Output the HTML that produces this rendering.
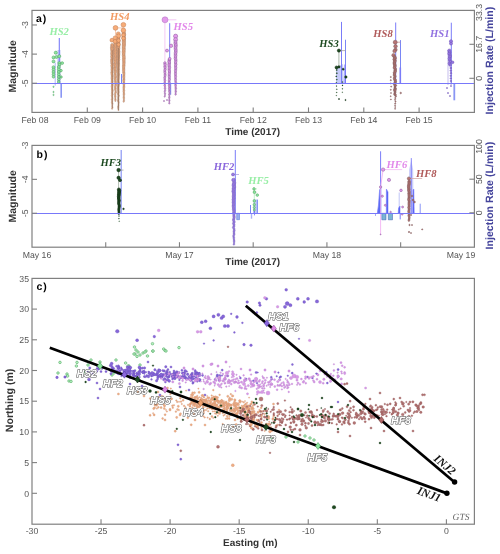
<!DOCTYPE html>
<html><head><meta charset="utf-8"><style>
html,body{margin:0;padding:0;background:#fff;width:500px;height:554px;overflow:hidden}
svg{display:block;will-change:transform}
text{text-rendering:geometricPrecision}
</style></head><body><svg width="500" height="554" viewBox="0 0 500 554"><polygon points="57.5,50.0 60.5,50.0 60.8,83.3 57.0,83.3" fill="#b8bef6" stroke="none" stroke-width="0.6" opacity="0.8"/><polygon points="336.0,67.0 343.0,64.0 344.0,83.3 336.0,83.3" fill="#b8bef6" stroke="none" stroke-width="0.6" opacity="0.8"/><polygon points="253.5,199.5 258.0,199.5 258.0,213.3 253.5,213.3" fill="#b8bef6" stroke="none" stroke-width="0.6" opacity="0.8"/><line x1="59.3" y1="38.1" x2="59.3" y2="83.3" stroke="#7a7cf8" stroke-width="1.1"/><line x1="61.2" y1="83.3" x2="61.2" y2="97.8" stroke="#8a96f4" stroke-width="1.6"/><line x1="55.2" y1="62.6" x2="55.2" y2="85.6" stroke="#9aa4f4" stroke-width="0.8"/><circle cx="55.8" cy="52.7" r="1.60" fill="#8ee6a0" stroke="#4a9a5a" stroke-width="0.5"/><circle cx="53.5" cy="57.4" r="1.50" fill="#8ee6a0" stroke="#4a9a5a" stroke-width="0.5"/><circle cx="56.4" cy="57.0" r="1.50" fill="#8ee6a0" stroke="#4a9a5a" stroke-width="0.5"/><circle cx="59.3" cy="56.2" r="1.50" fill="#8ee6a0" stroke="#4a9a5a" stroke-width="0.5"/><circle cx="53.5" cy="61.4" r="1.50" fill="#8ee6a0" stroke="#4a9a5a" stroke-width="0.5"/><circle cx="59.3" cy="63.1" r="1.50" fill="#8ee6a0" stroke="#4a9a5a" stroke-width="0.5"/><circle cx="62.2" cy="63.1" r="1.40" fill="#8ee6a0" stroke="#4a9a5a" stroke-width="0.5"/><circle cx="59.5" cy="64.8" r="1.40" fill="#8ee6a0" stroke="#4a9a5a" stroke-width="0.5"/><circle cx="61.0" cy="70.6" r="1.30" fill="#8ee6a0" stroke="#4a9a5a" stroke-width="0.5"/><circle cx="61.0" cy="77.0" r="1.30" fill="#8ee6a0" stroke="#4a9a5a" stroke-width="0.5"/><circle cx="53.5" cy="67.2" r="1.50" fill="#8ee6a0" stroke="#4a9a5a" stroke-width="0.5"/><circle cx="53.5" cy="69.6" r="1.46" fill="#8ee6a0" stroke="#4a9a5a" stroke-width="0.5"/><circle cx="53.5" cy="72.0" r="1.42" fill="#8ee6a0" stroke="#4a9a5a" stroke-width="0.5"/><circle cx="53.5" cy="74.4" r="1.38" fill="#8ee6a0" stroke="#4a9a5a" stroke-width="0.5"/><circle cx="53.5" cy="76.8" r="1.34" fill="#8ee6a0" stroke="#4a9a5a" stroke-width="0.5"/><circle cx="58.8" cy="67.0" r="1.50" fill="#8ee6a0" stroke="#4a9a5a" stroke-width="0.5"/><circle cx="58.8" cy="69.5" r="1.47" fill="#8ee6a0" stroke="#4a9a5a" stroke-width="0.5"/><circle cx="58.8" cy="72.0" r="1.43" fill="#8ee6a0" stroke="#4a9a5a" stroke-width="0.5"/><circle cx="58.8" cy="74.5" r="1.40" fill="#8ee6a0" stroke="#4a9a5a" stroke-width="0.5"/><circle cx="58.8" cy="77.0" r="1.37" fill="#8ee6a0" stroke="#4a9a5a" stroke-width="0.5"/><circle cx="58.8" cy="79.5" r="1.33" fill="#8ee6a0" stroke="#4a9a5a" stroke-width="0.5"/><circle cx="58.8" cy="82.0" r="1.30" fill="#8ee6a0" stroke="#4a9a5a" stroke-width="0.5"/><circle cx="53.5" cy="86.8" r="0.70" fill="#8ee6a0" stroke="#4a9a5a" stroke-width="0.4"/><circle cx="53.5" cy="92.0" r="0.70" fill="#8ee6a0" stroke="#4a9a5a" stroke-width="0.4"/><circle cx="53.5" cy="94.9" r="0.70" fill="#8ee6a0" stroke="#4a9a5a" stroke-width="0.4"/><line x1="115.5" y1="27.9" x2="123.4" y2="27.9" stroke="#f6c0a0" stroke-width="0.8"/><line x1="115.5" y1="27.9" x2="115.5" y2="42.0" stroke="#f6c0a0" stroke-width="0.8"/><circle cx="112.2" cy="45.0" r="1.60" fill="#f6ac78" stroke="#a08070" stroke-width="0.45"/><circle cx="112.4" cy="46.3" r="1.58" fill="#f6ac78" stroke="#a08070" stroke-width="0.45"/><circle cx="112.0" cy="47.6" r="1.56" fill="#f6ac78" stroke="#a08070" stroke-width="0.45"/><circle cx="112.1" cy="48.9" r="1.54" fill="#f6ac78" stroke="#a08070" stroke-width="0.45"/><circle cx="112.3" cy="50.2" r="1.52" fill="#f6ac78" stroke="#a08070" stroke-width="0.45"/><circle cx="112.4" cy="51.5" r="1.50" fill="#f6ac78" stroke="#a08070" stroke-width="0.45"/><circle cx="112.2" cy="52.8" r="1.48" fill="#f6ac78" stroke="#a08070" stroke-width="0.45"/><circle cx="112.1" cy="54.1" r="1.46" fill="#f6ac78" stroke="#a08070" stroke-width="0.45"/><circle cx="112.4" cy="55.4" r="1.44" fill="#f6ac78" stroke="#a08070" stroke-width="0.45"/><circle cx="112.0" cy="56.7" r="1.42" fill="#f6ac78" stroke="#a08070" stroke-width="0.45"/><circle cx="112.4" cy="58.0" r="1.40" fill="#f6ac78" stroke="#a08070" stroke-width="0.45"/><circle cx="112.1" cy="59.3" r="1.38" fill="#f6ac78" stroke="#a08070" stroke-width="0.45"/><circle cx="112.0" cy="60.6" r="1.36" fill="#f6ac78" stroke="#a08070" stroke-width="0.45"/><circle cx="112.0" cy="61.9" r="1.34" fill="#f6ac78" stroke="#a08070" stroke-width="0.45"/><circle cx="112.1" cy="63.2" r="1.32" fill="#f6ac78" stroke="#a08070" stroke-width="0.45"/><circle cx="112.4" cy="64.5" r="1.30" fill="#f6ac78" stroke="#a08070" stroke-width="0.45"/><circle cx="112.0" cy="65.8" r="1.28" fill="#f6ac78" stroke="#a08070" stroke-width="0.45"/><circle cx="112.2" cy="67.1" r="1.25" fill="#f6ac78" stroke="#a08070" stroke-width="0.45"/><circle cx="112.3" cy="68.4" r="1.23" fill="#f6ac78" stroke="#a08070" stroke-width="0.45"/><circle cx="112.1" cy="69.7" r="1.21" fill="#f6ac78" stroke="#a08070" stroke-width="0.45"/><circle cx="112.2" cy="71.0" r="1.19" fill="#f6ac78" stroke="#a08070" stroke-width="0.45"/><circle cx="112.0" cy="72.3" r="1.17" fill="#f6ac78" stroke="#a08070" stroke-width="0.45"/><circle cx="112.0" cy="73.6" r="1.15" fill="#f6ac78" stroke="#a08070" stroke-width="0.45"/><circle cx="112.1" cy="74.9" r="1.13" fill="#f6ac78" stroke="#a08070" stroke-width="0.45"/><circle cx="112.3" cy="76.2" r="1.11" fill="#f6ac78" stroke="#a08070" stroke-width="0.45"/><circle cx="112.2" cy="77.5" r="1.09" fill="#f6ac78" stroke="#a08070" stroke-width="0.45"/><circle cx="112.1" cy="78.8" r="1.07" fill="#f6ac78" stroke="#a08070" stroke-width="0.45"/><circle cx="112.2" cy="80.1" r="1.05" fill="#f6ac78" stroke="#a08070" stroke-width="0.45"/><circle cx="112.2" cy="81.4" r="1.03" fill="#f6ac78" stroke="#a08070" stroke-width="0.45"/><circle cx="112.1" cy="82.7" r="1.01" fill="#f6ac78" stroke="#a08070" stroke-width="0.45"/><circle cx="112.3" cy="84.0" r="0.99" fill="#f6ac78" stroke="#a08070" stroke-width="0.45"/><circle cx="112.3" cy="85.3" r="0.97" fill="#f6ac78" stroke="#a08070" stroke-width="0.45"/><circle cx="112.1" cy="86.6" r="0.95" fill="#f6ac78" stroke="#a08070" stroke-width="0.45"/><circle cx="112.2" cy="87.9" r="0.93" fill="#f6ac78" stroke="#a08070" stroke-width="0.45"/><circle cx="112.2" cy="89.2" r="0.91" fill="#f6ac78" stroke="#a08070" stroke-width="0.45"/><circle cx="112.4" cy="90.5" r="0.89" fill="#f6ac78" stroke="#a08070" stroke-width="0.45"/><circle cx="112.3" cy="91.8" r="0.87" fill="#f6ac78" stroke="#a08070" stroke-width="0.45"/><circle cx="112.1" cy="93.1" r="0.85" fill="#f6ac78" stroke="#a08070" stroke-width="0.45"/><circle cx="112.4" cy="94.4" r="0.83" fill="#f6ac78" stroke="#a08070" stroke-width="0.45"/><circle cx="112.0" cy="95.7" r="0.81" fill="#f6ac78" stroke="#a08070" stroke-width="0.45"/><circle cx="112.2" cy="97.0" r="0.79" fill="#f6ac78" stroke="#a08070" stroke-width="0.45"/><circle cx="112.3" cy="98.3" r="0.77" fill="#f6ac78" stroke="#a08070" stroke-width="0.45"/><circle cx="112.0" cy="99.6" r="0.75" fill="#f6ac78" stroke="#a08070" stroke-width="0.45"/><circle cx="112.2" cy="100.9" r="0.73" fill="#f6ac78" stroke="#a08070" stroke-width="0.45"/><circle cx="112.0" cy="102.2" r="0.71" fill="#f6ac78" stroke="#a08070" stroke-width="0.45"/><circle cx="112.3" cy="103.5" r="0.69" fill="#f6ac78" stroke="#a08070" stroke-width="0.45"/><circle cx="112.3" cy="104.8" r="0.67" fill="#f6ac78" stroke="#a08070" stroke-width="0.45"/><circle cx="112.2" cy="106.1" r="0.65" fill="#f6ac78" stroke="#a08070" stroke-width="0.45"/><circle cx="112.4" cy="107.4" r="0.63" fill="#f6ac78" stroke="#a08070" stroke-width="0.45"/><circle cx="112.1" cy="108.7" r="0.60" fill="#f6ac78" stroke="#a08070" stroke-width="0.45"/><circle cx="115.5" cy="42.0" r="1.60" fill="#f6ac78" stroke="#a08070" stroke-width="0.45"/><circle cx="115.4" cy="43.4" r="1.58" fill="#f6ac78" stroke="#a08070" stroke-width="0.45"/><circle cx="115.4" cy="44.8" r="1.56" fill="#f6ac78" stroke="#a08070" stroke-width="0.45"/><circle cx="115.4" cy="46.2" r="1.54" fill="#f6ac78" stroke="#a08070" stroke-width="0.45"/><circle cx="115.6" cy="47.6" r="1.52" fill="#f6ac78" stroke="#a08070" stroke-width="0.45"/><circle cx="115.6" cy="49.0" r="1.50" fill="#f6ac78" stroke="#a08070" stroke-width="0.45"/><circle cx="115.4" cy="50.4" r="1.47" fill="#f6ac78" stroke="#a08070" stroke-width="0.45"/><circle cx="115.5" cy="51.8" r="1.45" fill="#f6ac78" stroke="#a08070" stroke-width="0.45"/><circle cx="115.2" cy="53.2" r="1.43" fill="#f6ac78" stroke="#a08070" stroke-width="0.45"/><circle cx="115.5" cy="54.6" r="1.41" fill="#f6ac78" stroke="#a08070" stroke-width="0.45"/><circle cx="115.5" cy="56.0" r="1.39" fill="#f6ac78" stroke="#a08070" stroke-width="0.45"/><circle cx="115.6" cy="57.4" r="1.37" fill="#f6ac78" stroke="#a08070" stroke-width="0.45"/><circle cx="115.6" cy="58.8" r="1.35" fill="#f6ac78" stroke="#a08070" stroke-width="0.45"/><circle cx="115.3" cy="60.2" r="1.33" fill="#f6ac78" stroke="#a08070" stroke-width="0.45"/><circle cx="115.3" cy="61.6" r="1.31" fill="#f6ac78" stroke="#a08070" stroke-width="0.45"/><circle cx="115.5" cy="63.0" r="1.29" fill="#f6ac78" stroke="#a08070" stroke-width="0.45"/><circle cx="115.2" cy="64.4" r="1.26" fill="#f6ac78" stroke="#a08070" stroke-width="0.45"/><circle cx="115.4" cy="65.8" r="1.24" fill="#f6ac78" stroke="#a08070" stroke-width="0.45"/><circle cx="115.2" cy="67.2" r="1.22" fill="#f6ac78" stroke="#a08070" stroke-width="0.45"/><circle cx="115.2" cy="68.6" r="1.20" fill="#f6ac78" stroke="#a08070" stroke-width="0.45"/><circle cx="115.2" cy="70.0" r="1.18" fill="#f6ac78" stroke="#a08070" stroke-width="0.45"/><circle cx="115.5" cy="71.4" r="1.16" fill="#f6ac78" stroke="#a08070" stroke-width="0.45"/><circle cx="115.2" cy="72.8" r="1.14" fill="#f6ac78" stroke="#a08070" stroke-width="0.45"/><circle cx="115.3" cy="74.2" r="1.12" fill="#f6ac78" stroke="#a08070" stroke-width="0.45"/><circle cx="115.3" cy="75.6" r="1.10" fill="#f6ac78" stroke="#a08070" stroke-width="0.45"/><circle cx="115.6" cy="77.0" r="1.07" fill="#f6ac78" stroke="#a08070" stroke-width="0.45"/><circle cx="115.2" cy="78.4" r="1.05" fill="#f6ac78" stroke="#a08070" stroke-width="0.45"/><circle cx="115.4" cy="79.8" r="1.03" fill="#f6ac78" stroke="#a08070" stroke-width="0.45"/><circle cx="115.4" cy="81.2" r="1.01" fill="#f6ac78" stroke="#a08070" stroke-width="0.45"/><circle cx="115.6" cy="82.6" r="0.99" fill="#f6ac78" stroke="#a08070" stroke-width="0.45"/><circle cx="115.6" cy="84.0" r="0.97" fill="#f6ac78" stroke="#a08070" stroke-width="0.45"/><circle cx="115.6" cy="85.4" r="0.95" fill="#f6ac78" stroke="#a08070" stroke-width="0.45"/><circle cx="115.3" cy="86.8" r="0.93" fill="#f6ac78" stroke="#a08070" stroke-width="0.45"/><circle cx="115.4" cy="88.2" r="0.91" fill="#f6ac78" stroke="#a08070" stroke-width="0.45"/><circle cx="115.3" cy="89.6" r="0.89" fill="#f6ac78" stroke="#a08070" stroke-width="0.45"/><circle cx="115.6" cy="91.0" r="0.86" fill="#f6ac78" stroke="#a08070" stroke-width="0.45"/><circle cx="115.6" cy="92.4" r="0.84" fill="#f6ac78" stroke="#a08070" stroke-width="0.45"/><circle cx="115.2" cy="93.8" r="0.82" fill="#f6ac78" stroke="#a08070" stroke-width="0.45"/><circle cx="115.2" cy="95.2" r="0.80" fill="#f6ac78" stroke="#a08070" stroke-width="0.45"/><circle cx="115.3" cy="96.6" r="0.78" fill="#f6ac78" stroke="#a08070" stroke-width="0.45"/><circle cx="115.3" cy="98.0" r="0.76" fill="#f6ac78" stroke="#a08070" stroke-width="0.45"/><circle cx="115.4" cy="99.4" r="0.74" fill="#f6ac78" stroke="#a08070" stroke-width="0.45"/><circle cx="115.4" cy="100.8" r="0.72" fill="#f6ac78" stroke="#a08070" stroke-width="0.45"/><circle cx="118.3" cy="38.0" r="1.60" fill="#f6ac78" stroke="#a08070" stroke-width="0.5"/><circle cx="118.2" cy="39.2" r="1.58" fill="#f6ac78" stroke="#a08070" stroke-width="0.5"/><circle cx="118.4" cy="40.4" r="1.57" fill="#f6ac78" stroke="#a08070" stroke-width="0.5"/><circle cx="118.3" cy="41.6" r="1.55" fill="#f6ac78" stroke="#a08070" stroke-width="0.5"/><circle cx="118.4" cy="42.8" r="1.53" fill="#f6ac78" stroke="#a08070" stroke-width="0.5"/><circle cx="118.6" cy="44.0" r="1.52" fill="#f6ac78" stroke="#a08070" stroke-width="0.5"/><circle cx="118.5" cy="45.2" r="1.50" fill="#f6ac78" stroke="#a08070" stroke-width="0.5"/><circle cx="118.4" cy="46.4" r="1.48" fill="#f6ac78" stroke="#a08070" stroke-width="0.5"/><circle cx="118.4" cy="47.6" r="1.47" fill="#f6ac78" stroke="#a08070" stroke-width="0.5"/><circle cx="118.5" cy="48.8" r="1.45" fill="#f6ac78" stroke="#a08070" stroke-width="0.5"/><circle cx="118.2" cy="50.0" r="1.44" fill="#f6ac78" stroke="#a08070" stroke-width="0.5"/><circle cx="118.6" cy="51.2" r="1.42" fill="#f6ac78" stroke="#a08070" stroke-width="0.5"/><circle cx="118.5" cy="52.4" r="1.40" fill="#f6ac78" stroke="#a08070" stroke-width="0.5"/><circle cx="118.5" cy="53.6" r="1.39" fill="#f6ac78" stroke="#a08070" stroke-width="0.5"/><circle cx="118.5" cy="54.8" r="1.37" fill="#f6ac78" stroke="#a08070" stroke-width="0.5"/><circle cx="118.4" cy="56.0" r="1.35" fill="#f6ac78" stroke="#a08070" stroke-width="0.5"/><circle cx="118.4" cy="57.2" r="1.34" fill="#f6ac78" stroke="#a08070" stroke-width="0.5"/><circle cx="118.2" cy="58.4" r="1.32" fill="#f6ac78" stroke="#a08070" stroke-width="0.5"/><circle cx="118.5" cy="59.6" r="1.30" fill="#f6ac78" stroke="#a08070" stroke-width="0.5"/><circle cx="118.2" cy="60.8" r="1.29" fill="#f6ac78" stroke="#a08070" stroke-width="0.5"/><circle cx="118.2" cy="62.0" r="1.27" fill="#f6ac78" stroke="#a08070" stroke-width="0.5"/><circle cx="118.3" cy="63.2" r="1.25" fill="#f6ac78" stroke="#a08070" stroke-width="0.5"/><circle cx="118.3" cy="64.4" r="1.24" fill="#f6ac78" stroke="#a08070" stroke-width="0.5"/><circle cx="118.3" cy="65.6" r="1.22" fill="#f6ac78" stroke="#a08070" stroke-width="0.5"/><circle cx="118.2" cy="66.8" r="1.21" fill="#f6ac78" stroke="#a08070" stroke-width="0.5"/><circle cx="118.2" cy="68.0" r="1.19" fill="#f6ac78" stroke="#a08070" stroke-width="0.5"/><circle cx="118.3" cy="69.2" r="1.17" fill="#f6ac78" stroke="#a08070" stroke-width="0.5"/><circle cx="118.2" cy="70.4" r="1.16" fill="#f6ac78" stroke="#a08070" stroke-width="0.5"/><circle cx="118.3" cy="71.6" r="1.14" fill="#f6ac78" stroke="#a08070" stroke-width="0.5"/><circle cx="118.2" cy="72.8" r="1.12" fill="#f6ac78" stroke="#a08070" stroke-width="0.5"/><circle cx="118.5" cy="74.0" r="1.11" fill="#f6ac78" stroke="#a08070" stroke-width="0.5"/><circle cx="118.4" cy="75.2" r="1.09" fill="#f6ac78" stroke="#a08070" stroke-width="0.5"/><circle cx="118.3" cy="76.4" r="1.07" fill="#f6ac78" stroke="#a08070" stroke-width="0.5"/><circle cx="118.3" cy="77.6" r="1.06" fill="#f6ac78" stroke="#a08070" stroke-width="0.5"/><circle cx="118.3" cy="78.8" r="1.04" fill="#f6ac78" stroke="#a08070" stroke-width="0.5"/><circle cx="118.3" cy="80.0" r="1.02" fill="#f6ac78" stroke="#a08070" stroke-width="0.5"/><circle cx="118.2" cy="81.2" r="1.01" fill="#f6ac78" stroke="#a08070" stroke-width="0.5"/><circle cx="118.5" cy="82.4" r="0.99" fill="#f6ac78" stroke="#a08070" stroke-width="0.5"/><circle cx="118.6" cy="83.6" r="0.98" fill="#f6ac78" stroke="#a08070" stroke-width="0.5"/><circle cx="118.4" cy="84.8" r="0.96" fill="#f6ac78" stroke="#a08070" stroke-width="0.5"/><circle cx="118.4" cy="86.0" r="0.94" fill="#f6ac78" stroke="#a08070" stroke-width="0.5"/><circle cx="118.2" cy="87.2" r="0.93" fill="#f6ac78" stroke="#a08070" stroke-width="0.5"/><circle cx="118.2" cy="88.4" r="0.91" fill="#f6ac78" stroke="#a08070" stroke-width="0.5"/><circle cx="118.3" cy="89.6" r="0.89" fill="#f6ac78" stroke="#a08070" stroke-width="0.5"/><circle cx="118.3" cy="90.8" r="0.88" fill="#f6ac78" stroke="#a08070" stroke-width="0.5"/><circle cx="118.5" cy="92.0" r="0.86" fill="#f6ac78" stroke="#a08070" stroke-width="0.5"/><circle cx="118.3" cy="93.2" r="0.84" fill="#f6ac78" stroke="#a08070" stroke-width="0.5"/><circle cx="118.2" cy="94.4" r="0.83" fill="#f6ac78" stroke="#a08070" stroke-width="0.5"/><circle cx="118.6" cy="95.6" r="0.81" fill="#f6ac78" stroke="#a08070" stroke-width="0.5"/><circle cx="118.4" cy="96.8" r="0.79" fill="#f6ac78" stroke="#a08070" stroke-width="0.5"/><circle cx="118.3" cy="98.0" r="0.78" fill="#f6ac78" stroke="#a08070" stroke-width="0.5"/><circle cx="118.4" cy="99.2" r="0.76" fill="#f6ac78" stroke="#a08070" stroke-width="0.5"/><circle cx="118.2" cy="100.4" r="0.75" fill="#f6ac78" stroke="#a08070" stroke-width="0.5"/><circle cx="118.4" cy="101.6" r="0.73" fill="#f6ac78" stroke="#a08070" stroke-width="0.5"/><circle cx="118.6" cy="102.8" r="0.71" fill="#f6ac78" stroke="#a08070" stroke-width="0.5"/><circle cx="118.5" cy="104.0" r="0.70" fill="#f6ac78" stroke="#a08070" stroke-width="0.5"/><circle cx="118.5" cy="105.2" r="0.68" fill="#f6ac78" stroke="#a08070" stroke-width="0.5"/><circle cx="118.3" cy="106.4" r="0.66" fill="#f6ac78" stroke="#a08070" stroke-width="0.5"/><circle cx="118.3" cy="107.6" r="0.65" fill="#f6ac78" stroke="#a08070" stroke-width="0.5"/><circle cx="118.3" cy="108.8" r="0.63" fill="#f6ac78" stroke="#a08070" stroke-width="0.5"/><circle cx="118.5" cy="110.0" r="0.61" fill="#f6ac78" stroke="#a08070" stroke-width="0.5"/><circle cx="123.8" cy="33.0" r="1.80" fill="#f6ac78" stroke="#a08070" stroke-width="0.45"/><circle cx="123.9" cy="34.4" r="1.78" fill="#f6ac78" stroke="#a08070" stroke-width="0.45"/><circle cx="123.7" cy="35.8" r="1.76" fill="#f6ac78" stroke="#a08070" stroke-width="0.45"/><circle cx="123.7" cy="37.2" r="1.73" fill="#f6ac78" stroke="#a08070" stroke-width="0.45"/><circle cx="123.9" cy="38.6" r="1.71" fill="#f6ac78" stroke="#a08070" stroke-width="0.45"/><circle cx="123.9" cy="40.0" r="1.69" fill="#f6ac78" stroke="#a08070" stroke-width="0.45"/><circle cx="123.9" cy="41.4" r="1.67" fill="#f6ac78" stroke="#a08070" stroke-width="0.45"/><circle cx="123.9" cy="42.8" r="1.64" fill="#f6ac78" stroke="#a08070" stroke-width="0.45"/><circle cx="123.9" cy="44.2" r="1.62" fill="#f6ac78" stroke="#a08070" stroke-width="0.45"/><circle cx="123.9" cy="45.6" r="1.60" fill="#f6ac78" stroke="#a08070" stroke-width="0.45"/><circle cx="123.7" cy="47.0" r="1.58" fill="#f6ac78" stroke="#a08070" stroke-width="0.45"/><circle cx="123.8" cy="48.4" r="1.55" fill="#f6ac78" stroke="#a08070" stroke-width="0.45"/><circle cx="123.8" cy="49.8" r="1.53" fill="#f6ac78" stroke="#a08070" stroke-width="0.45"/><circle cx="123.7" cy="51.2" r="1.51" fill="#f6ac78" stroke="#a08070" stroke-width="0.45"/><circle cx="123.7" cy="52.6" r="1.49" fill="#f6ac78" stroke="#a08070" stroke-width="0.45"/><circle cx="123.7" cy="54.0" r="1.47" fill="#f6ac78" stroke="#a08070" stroke-width="0.45"/><circle cx="123.7" cy="55.4" r="1.44" fill="#f6ac78" stroke="#a08070" stroke-width="0.45"/><circle cx="123.9" cy="56.8" r="1.42" fill="#f6ac78" stroke="#a08070" stroke-width="0.45"/><circle cx="123.9" cy="58.2" r="1.40" fill="#f6ac78" stroke="#a08070" stroke-width="0.45"/><circle cx="123.8" cy="59.6" r="1.38" fill="#f6ac78" stroke="#a08070" stroke-width="0.45"/><circle cx="123.9" cy="61.0" r="1.35" fill="#f6ac78" stroke="#a08070" stroke-width="0.45"/><circle cx="123.9" cy="62.4" r="1.33" fill="#f6ac78" stroke="#a08070" stroke-width="0.45"/><circle cx="123.9" cy="63.8" r="1.31" fill="#f6ac78" stroke="#a08070" stroke-width="0.45"/><circle cx="123.8" cy="65.2" r="1.29" fill="#f6ac78" stroke="#a08070" stroke-width="0.45"/><circle cx="123.7" cy="66.6" r="1.26" fill="#f6ac78" stroke="#a08070" stroke-width="0.45"/><circle cx="123.7" cy="68.0" r="1.24" fill="#f6ac78" stroke="#a08070" stroke-width="0.45"/><circle cx="123.7" cy="69.4" r="1.22" fill="#f6ac78" stroke="#a08070" stroke-width="0.45"/><circle cx="123.7" cy="70.8" r="1.20" fill="#f6ac78" stroke="#a08070" stroke-width="0.45"/><circle cx="123.8" cy="72.2" r="1.18" fill="#f6ac78" stroke="#a08070" stroke-width="0.45"/><circle cx="123.9" cy="73.6" r="1.15" fill="#f6ac78" stroke="#a08070" stroke-width="0.45"/><circle cx="123.9" cy="75.0" r="1.13" fill="#f6ac78" stroke="#a08070" stroke-width="0.45"/><circle cx="123.8" cy="76.4" r="1.11" fill="#f6ac78" stroke="#a08070" stroke-width="0.45"/><circle cx="123.8" cy="77.8" r="1.09" fill="#f6ac78" stroke="#a08070" stroke-width="0.45"/><circle cx="123.9" cy="79.2" r="1.06" fill="#f6ac78" stroke="#a08070" stroke-width="0.45"/><circle cx="123.7" cy="80.6" r="1.04" fill="#f6ac78" stroke="#a08070" stroke-width="0.45"/><circle cx="123.8" cy="82.0" r="1.02" fill="#f6ac78" stroke="#a08070" stroke-width="0.45"/><circle cx="123.9" cy="83.4" r="1.00" fill="#f6ac78" stroke="#a08070" stroke-width="0.45"/><circle cx="123.9" cy="84.8" r="0.97" fill="#f6ac78" stroke="#a08070" stroke-width="0.45"/><circle cx="123.9" cy="86.2" r="0.95" fill="#f6ac78" stroke="#a08070" stroke-width="0.45"/><circle cx="123.8" cy="87.6" r="0.93" fill="#f6ac78" stroke="#a08070" stroke-width="0.45"/><circle cx="123.7" cy="89.0" r="0.91" fill="#f6ac78" stroke="#a08070" stroke-width="0.45"/><circle cx="123.9" cy="90.4" r="0.88" fill="#f6ac78" stroke="#a08070" stroke-width="0.45"/><circle cx="123.7" cy="91.8" r="0.86" fill="#f6ac78" stroke="#a08070" stroke-width="0.45"/><circle cx="123.9" cy="93.2" r="0.84" fill="#f6ac78" stroke="#a08070" stroke-width="0.45"/><circle cx="123.9" cy="94.6" r="0.82" fill="#f6ac78" stroke="#a08070" stroke-width="0.45"/><circle cx="123.8" cy="96.0" r="0.80" fill="#f6ac78" stroke="#a08070" stroke-width="0.45"/><circle cx="123.8" cy="97.4" r="0.77" fill="#f6ac78" stroke="#a08070" stroke-width="0.45"/><circle cx="123.9" cy="98.8" r="0.75" fill="#f6ac78" stroke="#a08070" stroke-width="0.45"/><circle cx="123.9" cy="100.2" r="0.73" fill="#f6ac78" stroke="#a08070" stroke-width="0.45"/><circle cx="123.7" cy="101.6" r="0.71" fill="#f6ac78" stroke="#a08070" stroke-width="0.45"/><circle cx="115.5" cy="27.9" r="2.40" fill="#f6ac78" stroke="#c07a50" stroke-width="0.5"/><circle cx="123.4" cy="24.8" r="2.40" fill="#f6ac78" stroke="#c07a50" stroke-width="0.5"/><circle cx="123.4" cy="30.3" r="2.30" fill="#f6ac78" stroke="#c07a50" stroke-width="0.5"/><circle cx="118.3" cy="33.9" r="2.00" fill="#f6ac78" stroke="#c07a50" stroke-width="0.5"/><circle cx="118.6" cy="35.9" r="2.00" fill="#f6ac78" stroke="#c07a50" stroke-width="0.5"/><circle cx="123.4" cy="35.1" r="1.80" fill="#f6ac78" stroke="#c07a50" stroke-width="0.5"/><circle cx="123.4" cy="38.3" r="1.80" fill="#f6ac78" stroke="#c07a50" stroke-width="0.5"/><circle cx="115.1" cy="37.9" r="2.00" fill="#f6ac78" stroke="#c07a50" stroke-width="0.5"/><circle cx="111.9" cy="40.2" r="1.90" fill="#f6ac78" stroke="#c07a50" stroke-width="0.5"/><circle cx="115.1" cy="41.4" r="1.90" fill="#f6ac78" stroke="#c07a50" stroke-width="0.5"/><circle cx="118.6" cy="40.6" r="1.80" fill="#f6ac78" stroke="#c07a50" stroke-width="0.5"/><circle cx="118.6" cy="44.6" r="1.70" fill="#f6ac78" stroke="#c07a50" stroke-width="0.5"/><line x1="112.4" y1="50.0" x2="112.4" y2="108.0" stroke="#6a5a50" stroke-width="0.7" opacity="0.45"/><line x1="118.5" y1="48.0" x2="118.5" y2="110.0" stroke="#6a5a50" stroke-width="0.8" opacity="0.5"/><line x1="121.5" y1="74.0" x2="121.5" y2="83.3" stroke="#6a78f0" stroke-width="0.9"/><line x1="165.0" y1="19.8" x2="176.4" y2="19.8" stroke="#f4c4f4" stroke-width="0.9"/><line x1="164.9" y1="19.8" x2="164.9" y2="63.0" stroke="#f4c4f4" stroke-width="0.9"/><line x1="169.7" y1="23.2" x2="169.7" y2="83.3" stroke="#7a7cf8" stroke-width="1.0"/><line x1="170.5" y1="83.3" x2="170.5" y2="94.7" stroke="#8a96f4" stroke-width="1.4"/><circle cx="165.0" cy="19.8" r="3.00" fill="#e29aea" stroke="#b070c0" stroke-width="0.5"/><circle cx="175.6" cy="36.2" r="2.10" fill="#e29aea" stroke="#8a5a9a" stroke-width="0.5"/><circle cx="175.6" cy="39.6" r="2.00" fill="#e29aea" stroke="#8a5a9a" stroke-width="0.5"/><circle cx="175.5" cy="42.0" r="1.60" fill="#e29aea" stroke="#8a5a9a" stroke-width="0.5"/><circle cx="175.5" cy="43.5" r="1.57" fill="#e29aea" stroke="#8a5a9a" stroke-width="0.5"/><circle cx="175.8" cy="45.0" r="1.55" fill="#e29aea" stroke="#8a5a9a" stroke-width="0.5"/><circle cx="175.7" cy="46.5" r="1.52" fill="#e29aea" stroke="#8a5a9a" stroke-width="0.5"/><circle cx="175.5" cy="48.0" r="1.50" fill="#e29aea" stroke="#8a5a9a" stroke-width="0.5"/><circle cx="175.7" cy="49.5" r="1.47" fill="#e29aea" stroke="#8a5a9a" stroke-width="0.5"/><circle cx="175.8" cy="51.0" r="1.45" fill="#e29aea" stroke="#8a5a9a" stroke-width="0.5"/><circle cx="175.7" cy="52.5" r="1.42" fill="#e29aea" stroke="#8a5a9a" stroke-width="0.5"/><circle cx="175.5" cy="54.0" r="1.40" fill="#e29aea" stroke="#8a5a9a" stroke-width="0.5"/><circle cx="175.6" cy="55.5" r="1.37" fill="#e29aea" stroke="#8a5a9a" stroke-width="0.5"/><circle cx="175.5" cy="57.0" r="1.35" fill="#e29aea" stroke="#8a5a9a" stroke-width="0.5"/><circle cx="175.4" cy="58.5" r="1.32" fill="#e29aea" stroke="#8a5a9a" stroke-width="0.5"/><circle cx="175.8" cy="60.0" r="1.30" fill="#e29aea" stroke="#8a5a9a" stroke-width="0.5"/><circle cx="175.7" cy="61.5" r="1.27" fill="#e29aea" stroke="#8a5a9a" stroke-width="0.5"/><circle cx="175.6" cy="63.0" r="1.25" fill="#e29aea" stroke="#8a5a9a" stroke-width="0.5"/><circle cx="175.8" cy="64.5" r="1.22" fill="#e29aea" stroke="#8a5a9a" stroke-width="0.5"/><circle cx="175.6" cy="66.0" r="1.20" fill="#e29aea" stroke="#8a5a9a" stroke-width="0.5"/><circle cx="175.7" cy="67.5" r="1.17" fill="#e29aea" stroke="#8a5a9a" stroke-width="0.5"/><circle cx="175.7" cy="69.0" r="1.15" fill="#e29aea" stroke="#8a5a9a" stroke-width="0.5"/><circle cx="175.5" cy="70.5" r="1.12" fill="#e29aea" stroke="#8a5a9a" stroke-width="0.5"/><circle cx="175.5" cy="72.0" r="1.10" fill="#e29aea" stroke="#8a5a9a" stroke-width="0.5"/><circle cx="175.5" cy="73.5" r="1.07" fill="#e29aea" stroke="#8a5a9a" stroke-width="0.5"/><circle cx="175.5" cy="75.0" r="1.05" fill="#e29aea" stroke="#8a5a9a" stroke-width="0.5"/><circle cx="175.6" cy="76.5" r="1.02" fill="#e29aea" stroke="#8a5a9a" stroke-width="0.5"/><circle cx="175.5" cy="78.0" r="1.00" fill="#e29aea" stroke="#8a5a9a" stroke-width="0.5"/><circle cx="175.6" cy="79.5" r="0.97" fill="#e29aea" stroke="#8a5a9a" stroke-width="0.5"/><circle cx="175.5" cy="81.0" r="0.95" fill="#e29aea" stroke="#8a5a9a" stroke-width="0.5"/><circle cx="175.8" cy="82.5" r="0.92" fill="#e29aea" stroke="#8a5a9a" stroke-width="0.5"/><circle cx="175.5" cy="84.0" r="0.90" fill="#e29aea" stroke="#8a5a9a" stroke-width="0.5"/><circle cx="175.6" cy="85.5" r="0.87" fill="#e29aea" stroke="#8a5a9a" stroke-width="0.5"/><circle cx="175.6" cy="87.0" r="0.85" fill="#e29aea" stroke="#8a5a9a" stroke-width="0.5"/><circle cx="175.8" cy="88.5" r="0.82" fill="#e29aea" stroke="#8a5a9a" stroke-width="0.5"/><circle cx="175.6" cy="90.0" r="0.80" fill="#e29aea" stroke="#8a5a9a" stroke-width="0.5"/><circle cx="175.8" cy="91.5" r="0.77" fill="#e29aea" stroke="#8a5a9a" stroke-width="0.5"/><circle cx="175.6" cy="93.0" r="0.75" fill="#e29aea" stroke="#8a5a9a" stroke-width="0.5"/><circle cx="175.6" cy="94.5" r="0.72" fill="#e29aea" stroke="#8a5a9a" stroke-width="0.5"/><circle cx="169.3" cy="60.0" r="1.40" fill="#e29aea" stroke="#8a5a9a" stroke-width="0.5"/><circle cx="169.1" cy="61.5" r="1.37" fill="#e29aea" stroke="#8a5a9a" stroke-width="0.5"/><circle cx="169.3" cy="63.0" r="1.35" fill="#e29aea" stroke="#8a5a9a" stroke-width="0.5"/><circle cx="169.1" cy="64.5" r="1.32" fill="#e29aea" stroke="#8a5a9a" stroke-width="0.5"/><circle cx="169.1" cy="66.0" r="1.29" fill="#e29aea" stroke="#8a5a9a" stroke-width="0.5"/><circle cx="169.4" cy="67.5" r="1.26" fill="#e29aea" stroke="#8a5a9a" stroke-width="0.5"/><circle cx="169.1" cy="69.0" r="1.24" fill="#e29aea" stroke="#8a5a9a" stroke-width="0.5"/><circle cx="169.3" cy="70.5" r="1.21" fill="#e29aea" stroke="#8a5a9a" stroke-width="0.5"/><circle cx="169.4" cy="72.0" r="1.18" fill="#e29aea" stroke="#8a5a9a" stroke-width="0.5"/><circle cx="169.3" cy="73.5" r="1.15" fill="#e29aea" stroke="#8a5a9a" stroke-width="0.5"/><circle cx="169.2" cy="75.0" r="1.13" fill="#e29aea" stroke="#8a5a9a" stroke-width="0.5"/><circle cx="169.3" cy="76.5" r="1.10" fill="#e29aea" stroke="#8a5a9a" stroke-width="0.5"/><circle cx="169.3" cy="78.0" r="1.07" fill="#e29aea" stroke="#8a5a9a" stroke-width="0.5"/><circle cx="169.4" cy="79.5" r="1.05" fill="#e29aea" stroke="#8a5a9a" stroke-width="0.5"/><circle cx="169.1" cy="81.0" r="1.02" fill="#e29aea" stroke="#8a5a9a" stroke-width="0.5"/><circle cx="169.3" cy="82.5" r="0.99" fill="#e29aea" stroke="#8a5a9a" stroke-width="0.5"/><circle cx="169.2" cy="84.0" r="0.96" fill="#e29aea" stroke="#8a5a9a" stroke-width="0.5"/><circle cx="169.2" cy="85.5" r="0.94" fill="#e29aea" stroke="#8a5a9a" stroke-width="0.5"/><circle cx="169.4" cy="87.0" r="0.91" fill="#e29aea" stroke="#8a5a9a" stroke-width="0.5"/><circle cx="169.3" cy="88.5" r="0.88" fill="#e29aea" stroke="#8a5a9a" stroke-width="0.5"/><circle cx="169.3" cy="90.0" r="0.85" fill="#e29aea" stroke="#8a5a9a" stroke-width="0.5"/><circle cx="169.4" cy="91.5" r="0.83" fill="#e29aea" stroke="#8a5a9a" stroke-width="0.5"/><circle cx="169.5" cy="93.0" r="0.80" fill="#e29aea" stroke="#8a5a9a" stroke-width="0.5"/><circle cx="169.3" cy="94.5" r="0.77" fill="#e29aea" stroke="#8a5a9a" stroke-width="0.5"/><circle cx="169.4" cy="96.0" r="0.75" fill="#e29aea" stroke="#8a5a9a" stroke-width="0.5"/><circle cx="169.3" cy="97.5" r="0.72" fill="#e29aea" stroke="#8a5a9a" stroke-width="0.5"/><circle cx="169.3" cy="99.0" r="0.69" fill="#e29aea" stroke="#8a5a9a" stroke-width="0.5"/><circle cx="169.4" cy="100.5" r="0.66" fill="#e29aea" stroke="#8a5a9a" stroke-width="0.5"/><circle cx="169.3" cy="102.0" r="0.64" fill="#e29aea" stroke="#8a5a9a" stroke-width="0.5"/><circle cx="169.3" cy="103.5" r="0.61" fill="#e29aea" stroke="#8a5a9a" stroke-width="0.5"/><circle cx="164.9" cy="63.0" r="1.30" fill="#e29aea" stroke="#8a5a9a" stroke-width="0.5"/><circle cx="165.1" cy="64.6" r="1.27" fill="#e29aea" stroke="#8a5a9a" stroke-width="0.5"/><circle cx="165.0" cy="66.2" r="1.23" fill="#e29aea" stroke="#8a5a9a" stroke-width="0.5"/><circle cx="165.1" cy="67.8" r="1.20" fill="#e29aea" stroke="#8a5a9a" stroke-width="0.5"/><circle cx="165.1" cy="69.4" r="1.17" fill="#e29aea" stroke="#8a5a9a" stroke-width="0.5"/><circle cx="164.8" cy="71.0" r="1.14" fill="#e29aea" stroke="#8a5a9a" stroke-width="0.5"/><circle cx="164.9" cy="72.6" r="1.10" fill="#e29aea" stroke="#8a5a9a" stroke-width="0.5"/><circle cx="165.1" cy="74.2" r="1.07" fill="#e29aea" stroke="#8a5a9a" stroke-width="0.5"/><circle cx="165.1" cy="75.8" r="1.04" fill="#e29aea" stroke="#8a5a9a" stroke-width="0.5"/><circle cx="164.7" cy="77.4" r="1.00" fill="#e29aea" stroke="#8a5a9a" stroke-width="0.5"/><circle cx="164.7" cy="79.0" r="0.97" fill="#e29aea" stroke="#8a5a9a" stroke-width="0.5"/><circle cx="164.9" cy="80.6" r="0.94" fill="#e29aea" stroke="#8a5a9a" stroke-width="0.5"/><circle cx="164.7" cy="82.2" r="0.90" fill="#e29aea" stroke="#8a5a9a" stroke-width="0.5"/><circle cx="164.8" cy="83.8" r="0.87" fill="#e29aea" stroke="#8a5a9a" stroke-width="0.5"/><circle cx="164.7" cy="85.4" r="0.84" fill="#e29aea" stroke="#8a5a9a" stroke-width="0.5"/><circle cx="165.0" cy="87.0" r="0.81" fill="#e29aea" stroke="#8a5a9a" stroke-width="0.5"/><circle cx="165.0" cy="88.6" r="0.77" fill="#e29aea" stroke="#8a5a9a" stroke-width="0.5"/><circle cx="165.1" cy="90.2" r="0.74" fill="#e29aea" stroke="#8a5a9a" stroke-width="0.5"/><circle cx="164.7" cy="91.8" r="0.71" fill="#e29aea" stroke="#8a5a9a" stroke-width="0.5"/><circle cx="165.0" cy="93.4" r="0.67" fill="#e29aea" stroke="#8a5a9a" stroke-width="0.5"/><circle cx="165.0" cy="95.0" r="0.64" fill="#e29aea" stroke="#8a5a9a" stroke-width="0.5"/><circle cx="164.7" cy="96.6" r="0.61" fill="#e29aea" stroke="#8a5a9a" stroke-width="0.5"/><circle cx="171.1" cy="45.8" r="1.70" fill="#e29aea" stroke="#8a5a9a" stroke-width="0.5"/><circle cx="167.0" cy="50.6" r="1.50" fill="#e29aea" stroke="#8a5a9a" stroke-width="0.5"/><circle cx="169.7" cy="58.8" r="1.40" fill="#e29aea" stroke="#8a5a9a" stroke-width="0.5"/><circle cx="164.0" cy="101.0" r="0.60" fill="#e29aea" stroke="#8a5a9a" stroke-width="0.5"/><circle cx="167.0" cy="100.0" r="0.60" fill="#e29aea" stroke="#8a5a9a" stroke-width="0.5"/><line x1="341.5" y1="21.9" x2="341.5" y2="83.3" stroke="#7a7cf8" stroke-width="1.0"/><line x1="345.5" y1="39.7" x2="345.5" y2="83.3" stroke="#7a86f4" stroke-width="1.0"/><line x1="345.2" y1="64.6" x2="345.2" y2="83.3" stroke="#7a7cf8" stroke-width="1.6"/><line x1="338.9" y1="50.6" x2="345.5" y2="50.6" stroke="#9a9a9a" stroke-width="0.7"/><line x1="338.9" y1="50.6" x2="338.9" y2="67.7" stroke="#9aaa9a" stroke-width="0.8"/><circle cx="338.9" cy="50.6" r="1.60" fill="#1f4a22" stroke="#0f2a10" stroke-width="0.5"/><circle cx="336.5" cy="67.4" r="1.50" fill="#1f4a22" stroke="#0f2a10" stroke-width="0.5"/><circle cx="338.9" cy="66.9" r="1.20" fill="#1f4a22" stroke="#0f2a10" stroke-width="0.5"/><circle cx="343.2" cy="69.2" r="1.00" fill="#1f4a22" stroke="#0f2a10" stroke-width="0.5"/><circle cx="345.9" cy="77.0" r="1.20" fill="#1f4a22" stroke="#0f2a10" stroke-width="0.5"/><circle cx="336.7" cy="70.0" r="0.75" fill="#1f4a22" stroke="#1f4a22" stroke-width="0.2"/><circle cx="336.8" cy="73.2" r="0.72" fill="#1f4a22" stroke="#1f4a22" stroke-width="0.2"/><circle cx="336.3" cy="76.4" r="0.68" fill="#1f4a22" stroke="#1f4a22" stroke-width="0.2"/><circle cx="336.8" cy="79.6" r="0.65" fill="#1f4a22" stroke="#1f4a22" stroke-width="0.2"/><circle cx="336.4" cy="82.8" r="0.62" fill="#1f4a22" stroke="#1f4a22" stroke-width="0.2"/><circle cx="336.5" cy="86.0" r="0.58" fill="#1f4a22" stroke="#1f4a22" stroke-width="0.2"/><circle cx="336.8" cy="89.2" r="0.55" fill="#1f4a22" stroke="#1f4a22" stroke-width="0.2"/><circle cx="336.7" cy="92.4" r="0.52" fill="#1f4a22" stroke="#1f4a22" stroke-width="0.2"/><circle cx="336.3" cy="95.6" r="0.48" fill="#1f4a22" stroke="#1f4a22" stroke-width="0.2"/><circle cx="342.5" cy="82.0" r="0.60" fill="#1f4a22" stroke="#1f4a22" stroke-width="0.2"/><circle cx="342.5" cy="85.4" r="0.56" fill="#1f4a22" stroke="#1f4a22" stroke-width="0.2"/><circle cx="342.4" cy="88.8" r="0.52" fill="#1f4a22" stroke="#1f4a22" stroke-width="0.2"/><circle cx="342.3" cy="92.2" r="0.49" fill="#1f4a22" stroke="#1f4a22" stroke-width="0.2"/><circle cx="345.5" cy="100.0" r="0.60" fill="#1f4a22" stroke="#0f2a10" stroke-width="0.5"/><circle cx="339.0" cy="99.0" r="0.60" fill="#1f4a22" stroke="#0f2a10" stroke-width="0.5"/><line x1="395.7" y1="22.5" x2="395.7" y2="83.3" stroke="#7a7cf8" stroke-width="1.0"/><line x1="400.5" y1="40.1" x2="400.5" y2="83.3" stroke="#6a78f4" stroke-width="0.9"/><line x1="400.3" y1="67.5" x2="400.3" y2="83.3" stroke="#7a7cf8" stroke-width="1.6"/><line x1="395.2" y1="42.2" x2="400.5" y2="42.2" stroke="#c08a8a" stroke-width="0.7"/><circle cx="395.2" cy="42.2" r="2.00" fill="#b87474" stroke="#7a5a5a" stroke-width="0.5"/><circle cx="395.5" cy="46.3" r="1.80" fill="#b87474" stroke="#7a5a5a" stroke-width="0.5"/><circle cx="395.5" cy="49.7" r="1.70" fill="#b87474" stroke="#7a5a5a" stroke-width="0.5"/><circle cx="394.5" cy="51.1" r="1.70" fill="#b87474" stroke="#7a5a5a" stroke-width="0.5"/><circle cx="393.5" cy="55.2" r="1.70" fill="#b87474" stroke="#7a5a5a" stroke-width="0.5"/><circle cx="394.6" cy="57.0" r="1.50" fill="#b87474" stroke="#7a5a5a" stroke-width="0.5"/><circle cx="395.0" cy="58.2" r="1.48" fill="#b87474" stroke="#7a5a5a" stroke-width="0.5"/><circle cx="394.3" cy="59.4" r="1.46" fill="#b87474" stroke="#7a5a5a" stroke-width="0.5"/><circle cx="394.9" cy="60.6" r="1.44" fill="#b87474" stroke="#7a5a5a" stroke-width="0.5"/><circle cx="394.7" cy="61.8" r="1.41" fill="#b87474" stroke="#7a5a5a" stroke-width="0.5"/><circle cx="394.3" cy="63.0" r="1.39" fill="#b87474" stroke="#7a5a5a" stroke-width="0.5"/><circle cx="394.6" cy="64.2" r="1.37" fill="#b87474" stroke="#7a5a5a" stroke-width="0.5"/><circle cx="394.9" cy="65.4" r="1.35" fill="#b87474" stroke="#7a5a5a" stroke-width="0.5"/><circle cx="394.8" cy="66.6" r="1.33" fill="#b87474" stroke="#7a5a5a" stroke-width="0.5"/><circle cx="394.4" cy="67.8" r="1.31" fill="#b87474" stroke="#7a5a5a" stroke-width="0.5"/><circle cx="395.3" cy="69.0" r="1.28" fill="#b87474" stroke="#7a5a5a" stroke-width="0.5"/><circle cx="395.1" cy="70.2" r="1.26" fill="#b87474" stroke="#7a5a5a" stroke-width="0.5"/><circle cx="395.3" cy="71.4" r="1.24" fill="#b87474" stroke="#7a5a5a" stroke-width="0.5"/><circle cx="394.4" cy="72.6" r="1.22" fill="#b87474" stroke="#7a5a5a" stroke-width="0.5"/><circle cx="394.6" cy="73.8" r="1.20" fill="#b87474" stroke="#7a5a5a" stroke-width="0.5"/><circle cx="394.3" cy="75.0" r="1.18" fill="#b87474" stroke="#7a5a5a" stroke-width="0.5"/><circle cx="395.1" cy="76.2" r="1.16" fill="#b87474" stroke="#7a5a5a" stroke-width="0.5"/><circle cx="394.6" cy="77.4" r="1.13" fill="#b87474" stroke="#7a5a5a" stroke-width="0.5"/><circle cx="394.4" cy="78.6" r="1.11" fill="#b87474" stroke="#7a5a5a" stroke-width="0.5"/><circle cx="394.7" cy="79.8" r="1.09" fill="#b87474" stroke="#7a5a5a" stroke-width="0.5"/><circle cx="395.2" cy="81.0" r="1.07" fill="#b87474" stroke="#7a5a5a" stroke-width="0.5"/><circle cx="395.1" cy="82.2" r="1.05" fill="#b87474" stroke="#7a5a5a" stroke-width="0.5"/><circle cx="394.6" cy="83.4" r="1.03" fill="#b87474" stroke="#7a5a5a" stroke-width="0.5"/><circle cx="394.4" cy="84.6" r="1.00" fill="#b87474" stroke="#7a5a5a" stroke-width="0.5"/><circle cx="395.2" cy="85.8" r="0.98" fill="#b87474" stroke="#7a5a5a" stroke-width="0.5"/><circle cx="394.9" cy="87.0" r="0.96" fill="#b87474" stroke="#7a5a5a" stroke-width="0.5"/><circle cx="395.0" cy="88.2" r="0.94" fill="#b87474" stroke="#7a5a5a" stroke-width="0.5"/><circle cx="394.4" cy="89.4" r="0.92" fill="#b87474" stroke="#7a5a5a" stroke-width="0.5"/><circle cx="394.4" cy="90.6" r="0.90" fill="#b87474" stroke="#7a5a5a" stroke-width="0.5"/><circle cx="395.0" cy="91.8" r="0.88" fill="#b87474" stroke="#7a5a5a" stroke-width="0.5"/><circle cx="394.7" cy="93.0" r="0.85" fill="#b87474" stroke="#7a5a5a" stroke-width="0.5"/><circle cx="394.4" cy="94.2" r="0.83" fill="#b87474" stroke="#7a5a5a" stroke-width="0.5"/><circle cx="395.2" cy="95.4" r="0.81" fill="#b87474" stroke="#7a5a5a" stroke-width="0.5"/><circle cx="395.6" cy="80.0" r="0.90" fill="#b87474" stroke="#7a5a5a" stroke-width="0.5"/><circle cx="395.8" cy="81.8" r="0.88" fill="#b87474" stroke="#7a5a5a" stroke-width="0.5"/><circle cx="395.1" cy="83.6" r="0.85" fill="#b87474" stroke="#7a5a5a" stroke-width="0.5"/><circle cx="395.9" cy="85.4" r="0.83" fill="#b87474" stroke="#7a5a5a" stroke-width="0.5"/><circle cx="395.1" cy="87.2" r="0.80" fill="#b87474" stroke="#7a5a5a" stroke-width="0.5"/><circle cx="395.9" cy="89.0" r="0.78" fill="#b87474" stroke="#7a5a5a" stroke-width="0.5"/><circle cx="395.5" cy="90.8" r="0.76" fill="#b87474" stroke="#7a5a5a" stroke-width="0.5"/><circle cx="395.3" cy="92.6" r="0.73" fill="#b87474" stroke="#7a5a5a" stroke-width="0.5"/><circle cx="395.6" cy="94.4" r="0.71" fill="#b87474" stroke="#7a5a5a" stroke-width="0.5"/><circle cx="395.9" cy="96.2" r="0.68" fill="#b87474" stroke="#7a5a5a" stroke-width="0.5"/><circle cx="395.3" cy="98.0" r="0.66" fill="#b87474" stroke="#7a5a5a" stroke-width="0.5"/><circle cx="395.1" cy="99.8" r="0.64" fill="#b87474" stroke="#7a5a5a" stroke-width="0.5"/><circle cx="395.5" cy="101.6" r="0.61" fill="#b87474" stroke="#7a5a5a" stroke-width="0.5"/><circle cx="395.2" cy="103.4" r="0.59" fill="#b87474" stroke="#7a5a5a" stroke-width="0.5"/><circle cx="395.1" cy="105.2" r="0.56" fill="#b87474" stroke="#7a5a5a" stroke-width="0.5"/><circle cx="395.2" cy="107.0" r="0.54" fill="#b87474" stroke="#7a5a5a" stroke-width="0.5"/><circle cx="395.1" cy="108.8" r="0.52" fill="#b87474" stroke="#7a5a5a" stroke-width="0.5"/><circle cx="390.8" cy="77.0" r="0.60" fill="#b87474" stroke="#7a5a5a" stroke-width="0.5"/><circle cx="390.8" cy="80.2" r="0.59" fill="#b87474" stroke="#7a5a5a" stroke-width="0.5"/><circle cx="390.8" cy="83.4" r="0.57" fill="#b87474" stroke="#7a5a5a" stroke-width="0.5"/><circle cx="391.2" cy="86.6" r="0.56" fill="#b87474" stroke="#7a5a5a" stroke-width="0.5"/><circle cx="390.8" cy="89.8" r="0.54" fill="#b87474" stroke="#7a5a5a" stroke-width="0.5"/><circle cx="391.0" cy="93.0" r="0.53" fill="#b87474" stroke="#7a5a5a" stroke-width="0.5"/><circle cx="390.7" cy="96.2" r="0.52" fill="#b87474" stroke="#7a5a5a" stroke-width="0.5"/><circle cx="390.9" cy="99.4" r="0.50" fill="#b87474" stroke="#7a5a5a" stroke-width="0.5"/><circle cx="400.7" cy="93.0" r="0.80" fill="#b87474" stroke="#7a5a5a" stroke-width="0.5"/><line x1="451.3" y1="22.7" x2="451.3" y2="83.3" stroke="#7a7cf8" stroke-width="1.0"/><line x1="454.3" y1="83.3" x2="454.3" y2="100.3" stroke="#8a96f4" stroke-width="1.8"/><line x1="448.0" y1="50.0" x2="448.0" y2="85.0" stroke="#a090e0" stroke-width="0.6"/><circle cx="451.0" cy="41.3" r="1.60" fill="#9878e4" stroke="#6a50b0" stroke-width="0.5"/><circle cx="451.0" cy="43.6" r="1.50" fill="#9878e4" stroke="#6a50b0" stroke-width="0.5"/><circle cx="449.3" cy="50.6" r="1.60" fill="#9878e4" stroke="#6a50b0" stroke-width="0.5"/><circle cx="449.6" cy="52.2" r="1.57" fill="#9878e4" stroke="#6a50b0" stroke-width="0.5"/><circle cx="449.3" cy="53.8" r="1.54" fill="#9878e4" stroke="#6a50b0" stroke-width="0.5"/><circle cx="450.0" cy="55.4" r="1.51" fill="#9878e4" stroke="#6a50b0" stroke-width="0.5"/><circle cx="449.9" cy="57.0" r="1.48" fill="#9878e4" stroke="#6a50b0" stroke-width="0.5"/><circle cx="449.5" cy="58.6" r="1.44" fill="#9878e4" stroke="#6a50b0" stroke-width="0.5"/><circle cx="449.8" cy="60.2" r="1.41" fill="#9878e4" stroke="#6a50b0" stroke-width="0.5"/><circle cx="450.2" cy="61.8" r="1.38" fill="#9878e4" stroke="#6a50b0" stroke-width="0.5"/><circle cx="449.4" cy="63.4" r="1.35" fill="#9878e4" stroke="#6a50b0" stroke-width="0.5"/><circle cx="450.1" cy="65.0" r="1.32" fill="#9878e4" stroke="#6a50b0" stroke-width="0.5"/><circle cx="452.5" cy="62.3" r="1.40" fill="#9878e4" stroke="#6a50b0" stroke-width="0.5"/><circle cx="450.8" cy="68.0" r="0.90" fill="#9878e4" stroke="#6a50b0" stroke-width="0.5"/><circle cx="450.8" cy="70.6" r="0.87" fill="#9878e4" stroke="#6a50b0" stroke-width="0.5"/><circle cx="451.0" cy="73.2" r="0.84" fill="#9878e4" stroke="#6a50b0" stroke-width="0.5"/><circle cx="450.7" cy="75.8" r="0.80" fill="#9878e4" stroke="#6a50b0" stroke-width="0.5"/><circle cx="450.8" cy="78.4" r="0.77" fill="#9878e4" stroke="#6a50b0" stroke-width="0.5"/><circle cx="450.9" cy="81.0" r="0.74" fill="#9878e4" stroke="#6a50b0" stroke-width="0.5"/><circle cx="451.1" cy="83.6" r="0.71" fill="#9878e4" stroke="#6a50b0" stroke-width="0.5"/><circle cx="447.0" cy="88.0" r="0.60" fill="#9878e4" stroke="#6a50b0" stroke-width="0.5"/><circle cx="448.0" cy="93.0" r="0.60" fill="#9878e4" stroke="#6a50b0" stroke-width="0.5"/><circle cx="450.0" cy="96.0" r="0.60" fill="#9878e4" stroke="#6a50b0" stroke-width="0.5"/><circle cx="451.0" cy="86.0" r="0.60" fill="#9878e4" stroke="#6a50b0" stroke-width="0.5"/><line x1="32.0" y1="83.5" x2="474.4" y2="83.5" stroke="#7878fa" stroke-width="1.0"/><line x1="121.2" y1="149.9" x2="121.2" y2="213.3" stroke="#8a96f4" stroke-width="1.2"/><line x1="118.6" y1="170.1" x2="123.5" y2="170.1" stroke="#9a9a9a" stroke-width="0.7"/><line x1="118.6" y1="170.1" x2="118.6" y2="190.0" stroke="#9aaa9a" stroke-width="0.8"/><circle cx="118.6" cy="170.1" r="1.80" fill="#1f4a22" stroke="#0f2a10" stroke-width="0.5"/><circle cx="118.6" cy="177.8" r="1.70" fill="#1f4a22" stroke="#0f2a10" stroke-width="0.5"/><circle cx="120.0" cy="180.2" r="1.50" fill="#1f4a22" stroke="#0f2a10" stroke-width="0.5"/><circle cx="118.9" cy="189.5" r="1.60" fill="#1f4a22" stroke="#0f2a10" stroke-width="0.5"/><circle cx="119.2" cy="190.7" r="1.57" fill="#1f4a22" stroke="#0f2a10" stroke-width="0.5"/><circle cx="119.1" cy="191.9" r="1.54" fill="#1f4a22" stroke="#0f2a10" stroke-width="0.5"/><circle cx="119.1" cy="193.1" r="1.51" fill="#1f4a22" stroke="#0f2a10" stroke-width="0.5"/><circle cx="118.9" cy="194.3" r="1.48" fill="#1f4a22" stroke="#0f2a10" stroke-width="0.5"/><circle cx="118.9" cy="195.5" r="1.45" fill="#1f4a22" stroke="#0f2a10" stroke-width="0.5"/><circle cx="118.7" cy="196.7" r="1.43" fill="#1f4a22" stroke="#0f2a10" stroke-width="0.5"/><circle cx="118.8" cy="197.9" r="1.40" fill="#1f4a22" stroke="#0f2a10" stroke-width="0.5"/><circle cx="118.7" cy="199.1" r="1.37" fill="#1f4a22" stroke="#0f2a10" stroke-width="0.5"/><circle cx="119.1" cy="200.3" r="1.34" fill="#1f4a22" stroke="#0f2a10" stroke-width="0.5"/><circle cx="118.9" cy="201.5" r="1.31" fill="#1f4a22" stroke="#0f2a10" stroke-width="0.5"/><circle cx="118.8" cy="202.7" r="1.28" fill="#1f4a22" stroke="#0f2a10" stroke-width="0.5"/><circle cx="118.8" cy="203.9" r="1.25" fill="#1f4a22" stroke="#0f2a10" stroke-width="0.5"/><circle cx="119.2" cy="205.1" r="1.22" fill="#1f4a22" stroke="#0f2a10" stroke-width="0.5"/><circle cx="119.2" cy="206.3" r="1.19" fill="#1f4a22" stroke="#0f2a10" stroke-width="0.5"/><circle cx="119.1" cy="207.5" r="1.16" fill="#1f4a22" stroke="#0f2a10" stroke-width="0.5"/><circle cx="118.9" cy="208.7" r="1.14" fill="#1f4a22" stroke="#0f2a10" stroke-width="0.5"/><circle cx="118.8" cy="209.9" r="1.11" fill="#1f4a22" stroke="#0f2a10" stroke-width="0.5"/><circle cx="118.9" cy="211.1" r="1.08" fill="#1f4a22" stroke="#0f2a10" stroke-width="0.5"/><circle cx="119.0" cy="212.3" r="1.05" fill="#1f4a22" stroke="#0f2a10" stroke-width="0.5"/><circle cx="118.8" cy="213.5" r="1.02" fill="#1f4a22" stroke="#0f2a10" stroke-width="0.5"/><circle cx="119.0" cy="216.0" r="0.60" fill="#1f4a22" stroke="#1f4a22" stroke-width="0.2"/><circle cx="118.9" cy="218.6" r="0.54" fill="#1f4a22" stroke="#1f4a22" stroke-width="0.2"/><circle cx="119.2" cy="221.2" r="0.49" fill="#1f4a22" stroke="#1f4a22" stroke-width="0.2"/><circle cx="123.5" cy="208.9" r="0.80" fill="#1f4a22" stroke="#0f2a10" stroke-width="0.5"/><line x1="235.3" y1="150.0" x2="235.3" y2="213.3" stroke="#7a7cf8" stroke-width="1.0"/><polygon points="236.7,213.3 239.5,213.3 239.5,219.7 236.7,219.7" fill="#9ab0f0" stroke="#4a6ad0" stroke-width="0.5"/><line x1="233.0" y1="174.5" x2="239.0" y2="174.5" stroke="#a090e0" stroke-width="0.7"/><circle cx="233.0" cy="174.5" r="1.50" fill="#9878e4" stroke="#6a50b0" stroke-width="0.5"/><circle cx="233.5" cy="180.0" r="1.80" fill="#9878e4" stroke="#6a50b0" stroke-width="0.5"/><circle cx="234.2" cy="182.8" r="1.70" fill="#9878e4" stroke="#7a68b8" stroke-width="0.4"/><circle cx="233.8" cy="184.2" r="1.68" fill="#9878e4" stroke="#7a68b8" stroke-width="0.4"/><circle cx="233.6" cy="185.6" r="1.66" fill="#9878e4" stroke="#7a68b8" stroke-width="0.4"/><circle cx="234.2" cy="187.0" r="1.64" fill="#9878e4" stroke="#7a68b8" stroke-width="0.4"/><circle cx="233.6" cy="188.4" r="1.62" fill="#9878e4" stroke="#7a68b8" stroke-width="0.4"/><circle cx="233.7" cy="189.8" r="1.60" fill="#9878e4" stroke="#7a68b8" stroke-width="0.4"/><circle cx="233.4" cy="191.2" r="1.58" fill="#9878e4" stroke="#7a68b8" stroke-width="0.4"/><circle cx="233.7" cy="192.6" r="1.56" fill="#9878e4" stroke="#7a68b8" stroke-width="0.4"/><circle cx="233.8" cy="194.0" r="1.54" fill="#9878e4" stroke="#7a68b8" stroke-width="0.4"/><circle cx="233.8" cy="195.4" r="1.52" fill="#9878e4" stroke="#7a68b8" stroke-width="0.4"/><circle cx="233.5" cy="196.8" r="1.50" fill="#9878e4" stroke="#7a68b8" stroke-width="0.4"/><circle cx="233.8" cy="198.2" r="1.48" fill="#9878e4" stroke="#7a68b8" stroke-width="0.4"/><circle cx="233.4" cy="199.6" r="1.46" fill="#9878e4" stroke="#7a68b8" stroke-width="0.4"/><circle cx="233.6" cy="201.0" r="1.44" fill="#9878e4" stroke="#7a68b8" stroke-width="0.4"/><circle cx="233.4" cy="202.4" r="1.42" fill="#9878e4" stroke="#7a68b8" stroke-width="0.4"/><circle cx="233.7" cy="203.8" r="1.40" fill="#9878e4" stroke="#7a68b8" stroke-width="0.4"/><circle cx="233.4" cy="205.2" r="1.38" fill="#9878e4" stroke="#7a68b8" stroke-width="0.4"/><circle cx="233.4" cy="206.6" r="1.36" fill="#9878e4" stroke="#7a68b8" stroke-width="0.4"/><circle cx="233.6" cy="208.0" r="1.34" fill="#9878e4" stroke="#7a68b8" stroke-width="0.4"/><circle cx="233.6" cy="209.4" r="1.32" fill="#9878e4" stroke="#7a68b8" stroke-width="0.4"/><circle cx="233.9" cy="210.8" r="1.30" fill="#9878e4" stroke="#7a68b8" stroke-width="0.4"/><circle cx="233.8" cy="212.2" r="1.28" fill="#9878e4" stroke="#7a68b8" stroke-width="0.4"/><circle cx="234.0" cy="213.6" r="1.26" fill="#9878e4" stroke="#7a68b8" stroke-width="0.4"/><circle cx="233.9" cy="215.0" r="1.24" fill="#9878e4" stroke="#7a68b8" stroke-width="0.4"/><circle cx="234.0" cy="216.4" r="1.22" fill="#9878e4" stroke="#7a68b8" stroke-width="0.4"/><circle cx="234.1" cy="217.8" r="1.20" fill="#9878e4" stroke="#7a68b8" stroke-width="0.4"/><circle cx="233.7" cy="219.2" r="1.18" fill="#9878e4" stroke="#7a68b8" stroke-width="0.4"/><circle cx="233.6" cy="220.6" r="1.16" fill="#9878e4" stroke="#7a68b8" stroke-width="0.4"/><circle cx="234.2" cy="222.0" r="1.14" fill="#9878e4" stroke="#7a68b8" stroke-width="0.4"/><circle cx="233.5" cy="223.4" r="1.12" fill="#9878e4" stroke="#7a68b8" stroke-width="0.4"/><circle cx="234.0" cy="224.8" r="1.10" fill="#9878e4" stroke="#7a68b8" stroke-width="0.4"/><circle cx="233.9" cy="226.2" r="1.08" fill="#9878e4" stroke="#7a68b8" stroke-width="0.4"/><circle cx="233.4" cy="227.6" r="1.06" fill="#9878e4" stroke="#7a68b8" stroke-width="0.4"/><circle cx="234.1" cy="229.0" r="1.04" fill="#9878e4" stroke="#7a68b8" stroke-width="0.4"/><circle cx="234.2" cy="230.4" r="1.02" fill="#9878e4" stroke="#7a68b8" stroke-width="0.4"/><circle cx="233.9" cy="231.8" r="1.00" fill="#9878e4" stroke="#7a68b8" stroke-width="0.4"/><circle cx="234.0" cy="233.2" r="0.98" fill="#9878e4" stroke="#7a68b8" stroke-width="0.4"/><circle cx="234.1" cy="234.6" r="0.96" fill="#9878e4" stroke="#7a68b8" stroke-width="0.4"/><circle cx="233.5" cy="236.0" r="0.94" fill="#9878e4" stroke="#7a68b8" stroke-width="0.4"/><circle cx="233.8" cy="237.4" r="0.92" fill="#9878e4" stroke="#7a68b8" stroke-width="0.4"/><circle cx="233.8" cy="238.8" r="0.89" fill="#9878e4" stroke="#7a68b8" stroke-width="0.4"/><circle cx="234.1" cy="240.2" r="0.87" fill="#9878e4" stroke="#7a68b8" stroke-width="0.4"/><circle cx="234.1" cy="241.6" r="0.85" fill="#9878e4" stroke="#7a68b8" stroke-width="0.4"/><circle cx="234.1" cy="243.0" r="0.83" fill="#9878e4" stroke="#7a68b8" stroke-width="0.4"/><circle cx="233.9" cy="244.4" r="0.81" fill="#9878e4" stroke="#7a68b8" stroke-width="0.4"/><line x1="254.3" y1="189.0" x2="254.3" y2="213.0" stroke="#a8eab4" stroke-width="0.7"/><line x1="254.0" y1="188.9" x2="257.0" y2="188.9" stroke="#a8eab4" stroke-width="0.7"/><line x1="250.5" y1="205.0" x2="250.5" y2="213.3" stroke="#7a86f4" stroke-width="1.0"/><line x1="257.3" y1="199.7" x2="257.3" y2="213.3" stroke="#7a86f4" stroke-width="1.0"/><line x1="254.3" y1="210.9" x2="254.3" y2="213.3" stroke="#7a7cf8" stroke-width="1.4"/><line x1="251.5" y1="213.3" x2="251.5" y2="218.7" stroke="#aab0f6" stroke-width="1.4"/><line x1="254.5" y1="213.3" x2="254.5" y2="215.4" stroke="#7a7cf8" stroke-width="0.9"/><circle cx="254.0" cy="188.9" r="1.30" fill="#8ee6a0" stroke="#4a9a5a" stroke-width="0.5"/><circle cx="254.5" cy="192.2" r="1.40" fill="#8ee6a0" stroke="#4a9a5a" stroke-width="0.5"/><circle cx="257.3" cy="195.1" r="1.30" fill="#8ee6a0" stroke="#4a9a5a" stroke-width="0.5"/><circle cx="254.3" cy="200.9" r="1.30" fill="#8ee6a0" stroke="#4a9a5a" stroke-width="0.5"/><circle cx="254.3" cy="204.6" r="1.20" fill="#8ee6a0" stroke="#4a9a5a" stroke-width="0.5"/><circle cx="254.3" cy="207.5" r="1.10" fill="#8ee6a0" stroke="#4a9a5a" stroke-width="0.5"/><circle cx="254.3" cy="210.0" r="1.00" fill="#8ee6a0" stroke="#4a9a5a" stroke-width="0.5"/><line x1="380.6" y1="151.3" x2="380.6" y2="213.3" stroke="#7a7cf8" stroke-width="1.0"/><polygon points="377.3,213.3 378.5,205.0 379.6,190.0 380.8,187.6 380.8,213.3" fill="#5a6af4" stroke="#7a7cf8" stroke-width="0.7"/><polygon points="386.3,213.3 386.4,189.1 388.0,192.0 388.0,213.3" fill="#4a5af4" stroke="#7a7cf8" stroke-width="0.6"/><polygon points="381.8,213.3 386.0,213.3 386.0,219.8 381.8,219.8" fill="#7ab4d4" stroke="#3a5ab0" stroke-width="0.5"/><polygon points="388.3,213.3 392.5,213.3 392.5,219.8 388.3,219.8" fill="#7ab4d4" stroke="#3a5ab0" stroke-width="0.5"/><line x1="399.2" y1="192.5" x2="399.2" y2="213.3" stroke="#b8c0f6" stroke-width="0.9"/><polygon points="398.2,213.3 398.6,208.0 400.0,206.0 400.0,213.3" fill="#4a5af4" stroke="#7a7cf8" stroke-width="0.6"/><line x1="400.2" y1="213.3" x2="400.2" y2="219.4" stroke="#7a7cf8" stroke-width="1.0"/><polygon points="408.8,213.3 409.0,170.0 411.3,160.0 413.2,170.0 413.5,213.3" fill="#c4c8f8" stroke="none" stroke-width="0.6" opacity="0.85"/><line x1="411.3" y1="158.1" x2="411.3" y2="213.3" stroke="#7a7cf8" stroke-width="0.9"/><polygon points="412.8,213.3 413.0,190.0 413.8,189.0 414.2,213.3" fill="#4a5af4" stroke="#7a7cf8" stroke-width="0.6"/><line x1="420.2" y1="203.7" x2="420.2" y2="213.3" stroke="#6a78f4" stroke-width="0.8"/><line x1="375.5" y1="213.3" x2="375.5" y2="216.0" stroke="#8a96f4" stroke-width="0.8"/><line x1="383.1" y1="169.6" x2="402.2" y2="169.6" stroke="#f0b8f0" stroke-width="0.8"/><polyline points="383.1,169.6 380.6,187 380.6,234.4" fill="none" stroke="#f0a8f0" stroke-width="0.8"/><circle cx="383.1" cy="169.6" r="1.70" fill="#e29aea" stroke="#8a5a9a" stroke-width="0.5"/><circle cx="389.0" cy="179.9" r="1.60" fill="#e29aea" stroke="#8a5a9a" stroke-width="0.5"/><circle cx="380.6" cy="187.0" r="1.20" fill="#e29aea" stroke="#8a5a9a" stroke-width="0.5"/><circle cx="382.3" cy="196.2" r="1.10" fill="#e29aea" stroke="#8a5a9a" stroke-width="0.5"/><circle cx="385.3" cy="205.3" r="1.00" fill="#e29aea" stroke="#8a5a9a" stroke-width="0.5"/><circle cx="401.0" cy="190.4" r="1.30" fill="#e29aea" stroke="#8a5a9a" stroke-width="0.5"/><circle cx="402.6" cy="207.0" r="1.00" fill="#e29aea" stroke="#8a5a9a" stroke-width="0.5"/><circle cx="390.6" cy="212.0" r="0.80" fill="#e29aea" stroke="#8a5a9a" stroke-width="0.5"/><circle cx="402.2" cy="214.4" r="0.80" fill="#e29aea" stroke="#8a5a9a" stroke-width="0.5"/><circle cx="380.6" cy="234.4" r="0.50" fill="#e29aea" stroke="#8a5a9a" stroke-width="0.5"/><line x1="408.9" y1="178.5" x2="422.2" y2="178.5" stroke="#d0a0a0" stroke-width="0.7"/><circle cx="408.9" cy="178.5" r="1.60" fill="#b87474" stroke="#7a5a5a" stroke-width="0.5"/><circle cx="409.2" cy="181.5" r="1.40" fill="#b87474" stroke="#7a5a5a" stroke-width="0.5"/><circle cx="409.1" cy="182.8" r="1.38" fill="#b87474" stroke="#7a5a5a" stroke-width="0.5"/><circle cx="409.1" cy="184.1" r="1.37" fill="#b87474" stroke="#7a5a5a" stroke-width="0.5"/><circle cx="408.8" cy="185.4" r="1.35" fill="#b87474" stroke="#7a5a5a" stroke-width="0.5"/><circle cx="408.7" cy="186.7" r="1.33" fill="#b87474" stroke="#7a5a5a" stroke-width="0.5"/><circle cx="408.8" cy="188.0" r="1.32" fill="#b87474" stroke="#7a5a5a" stroke-width="0.5"/><circle cx="408.9" cy="189.3" r="1.30" fill="#b87474" stroke="#7a5a5a" stroke-width="0.5"/><circle cx="408.8" cy="190.6" r="1.29" fill="#b87474" stroke="#7a5a5a" stroke-width="0.5"/><circle cx="409.2" cy="191.9" r="1.27" fill="#b87474" stroke="#7a5a5a" stroke-width="0.5"/><circle cx="409.0" cy="193.2" r="1.25" fill="#b87474" stroke="#7a5a5a" stroke-width="0.5"/><circle cx="409.1" cy="194.5" r="1.24" fill="#b87474" stroke="#7a5a5a" stroke-width="0.5"/><circle cx="409.1" cy="195.8" r="1.22" fill="#b87474" stroke="#7a5a5a" stroke-width="0.5"/><circle cx="409.1" cy="197.1" r="1.20" fill="#b87474" stroke="#7a5a5a" stroke-width="0.5"/><circle cx="409.0" cy="198.4" r="1.19" fill="#b87474" stroke="#7a5a5a" stroke-width="0.5"/><circle cx="408.7" cy="199.7" r="1.17" fill="#b87474" stroke="#7a5a5a" stroke-width="0.5"/><circle cx="409.2" cy="201.0" r="1.16" fill="#b87474" stroke="#7a5a5a" stroke-width="0.5"/><circle cx="409.1" cy="202.3" r="1.14" fill="#b87474" stroke="#7a5a5a" stroke-width="0.5"/><circle cx="409.0" cy="203.6" r="1.12" fill="#b87474" stroke="#7a5a5a" stroke-width="0.5"/><circle cx="409.0" cy="204.9" r="1.11" fill="#b87474" stroke="#7a5a5a" stroke-width="0.5"/><circle cx="409.1" cy="206.2" r="1.09" fill="#b87474" stroke="#7a5a5a" stroke-width="0.5"/><circle cx="408.7" cy="207.5" r="1.07" fill="#b87474" stroke="#7a5a5a" stroke-width="0.5"/><circle cx="409.1" cy="208.8" r="1.06" fill="#b87474" stroke="#7a5a5a" stroke-width="0.5"/><circle cx="408.9" cy="210.1" r="1.04" fill="#b87474" stroke="#7a5a5a" stroke-width="0.5"/><circle cx="408.7" cy="211.4" r="1.03" fill="#b87474" stroke="#7a5a5a" stroke-width="0.5"/><circle cx="408.9" cy="212.7" r="1.01" fill="#b87474" stroke="#7a5a5a" stroke-width="0.5"/><circle cx="409.1" cy="214.0" r="0.99" fill="#b87474" stroke="#7a5a5a" stroke-width="0.5"/><circle cx="408.8" cy="215.3" r="0.98" fill="#b87474" stroke="#7a5a5a" stroke-width="0.5"/><circle cx="409.1" cy="216.6" r="0.96" fill="#b87474" stroke="#7a5a5a" stroke-width="0.5"/><circle cx="409.3" cy="217.9" r="0.94" fill="#b87474" stroke="#7a5a5a" stroke-width="0.5"/><circle cx="409.0" cy="219.2" r="0.93" fill="#b87474" stroke="#7a5a5a" stroke-width="0.5"/><circle cx="408.9" cy="220.5" r="0.91" fill="#b87474" stroke="#7a5a5a" stroke-width="0.5"/><circle cx="413.0" cy="200.0" r="0.90" fill="#b87474" stroke="#7a5a5a" stroke-width="0.5"/><circle cx="414.5" cy="202.0" r="0.90" fill="#b87474" stroke="#7a5a5a" stroke-width="0.5"/><circle cx="412.0" cy="196.0" r="0.80" fill="#b87474" stroke="#7a5a5a" stroke-width="0.5"/><circle cx="412.0" cy="225.0" r="0.60" fill="#b87474" stroke="#7a5a5a" stroke-width="0.5"/><circle cx="422.2" cy="229.4" r="0.60" fill="#b87474" stroke="#7a5a5a" stroke-width="0.5"/><circle cx="409.5" cy="225.0" r="0.70" fill="#b87474" stroke="#7a5a5a" stroke-width="0.5"/><circle cx="409.0" cy="232.0" r="0.70" fill="#b87474" stroke="#7a5a5a" stroke-width="0.5"/><circle cx="411.0" cy="233.0" r="0.60" fill="#b87474" stroke="#7a5a5a" stroke-width="0.5"/><circle cx="411.0" cy="215.0" r="0.70" fill="#b87474" stroke="#7a5a5a" stroke-width="0.5"/><line x1="32.0" y1="213.5" x2="474.4" y2="213.5" stroke="#7878fa" stroke-width="1.0"/><text x="49.4" y="34.8" font-size="10.6" fill="#98eea6" font-family="Liberation Serif, serif" font-weight="bold" font-style="italic" text-rendering="geometricPrecision">HS2</text><text x="110.1" y="20.2" font-size="10.6" fill="#f29a62" font-family="Liberation Serif, serif" font-weight="bold" font-style="italic" text-rendering="geometricPrecision">HS4</text><text x="173.6" y="29.6" font-size="10.6" fill="#e288ea" font-family="Liberation Serif, serif" font-weight="bold" font-style="italic" text-rendering="geometricPrecision">HS5</text><text x="319.3" y="46.5" font-size="10.6" fill="#1c4a20" font-family="Liberation Serif, serif" font-weight="bold" font-style="italic" text-rendering="geometricPrecision">HS3</text><text x="373.3" y="37.4" font-size="10.6" fill="#b05a5a" font-family="Liberation Serif, serif" font-weight="bold" font-style="italic" text-rendering="geometricPrecision">HS8</text><text x="430" y="37.4" font-size="10.6" fill="#9070e0" font-family="Liberation Serif, serif" font-weight="bold" font-style="italic" text-rendering="geometricPrecision">HS1</text><text x="100.5" y="166.2" font-size="10.6" fill="#1c4a20" font-family="Liberation Serif, serif" font-weight="bold" font-style="italic" text-rendering="geometricPrecision">HF3</text><text x="213.8" y="169.9" font-size="10.6" fill="#8a66dc" font-family="Liberation Serif, serif" font-weight="bold" font-style="italic" text-rendering="geometricPrecision">HF2</text><text x="248.3" y="184" font-size="10.6" fill="#98eea6" font-family="Liberation Serif, serif" font-weight="bold" font-style="italic" text-rendering="geometricPrecision">HF5</text><text x="386.6" y="168" font-size="10.6" fill="#e288ea" font-family="Liberation Serif, serif" font-weight="bold" font-style="italic" text-rendering="geometricPrecision">HF6</text><text x="416" y="177.2" font-size="10.6" fill="#b05a5a" font-family="Liberation Serif, serif" font-weight="bold" font-style="italic" text-rendering="geometricPrecision">HF8</text><circle cx="60.0" cy="362.4" r="1.30" fill="#b4f0c0" stroke="#48a058" stroke-width="0.5"/><circle cx="77.0" cy="362.4" r="1.30" fill="#b4f0c0" stroke="#48a058" stroke-width="0.5"/><circle cx="76.4" cy="366.0" r="1.30" fill="#b4f0c0" stroke="#48a058" stroke-width="0.5"/><circle cx="91.0" cy="360.0" r="1.30" fill="#b4f0c0" stroke="#48a058" stroke-width="0.5"/><circle cx="88.0" cy="365.0" r="1.30" fill="#b4f0c0" stroke="#48a058" stroke-width="0.5"/><circle cx="67.0" cy="374.0" r="1.30" fill="#b4f0c0" stroke="#48a058" stroke-width="0.5"/><circle cx="67.6" cy="376.0" r="1.30" fill="#b4f0c0" stroke="#48a058" stroke-width="0.5"/><circle cx="69.0" cy="381.0" r="1.30" fill="#b4f0c0" stroke="#48a058" stroke-width="0.5"/><circle cx="71.0" cy="381.4" r="1.30" fill="#b4f0c0" stroke="#48a058" stroke-width="0.5"/><circle cx="112.0" cy="375.0" r="1.30" fill="#b4f0c0" stroke="#48a058" stroke-width="0.5"/><circle cx="114.0" cy="373.0" r="1.30" fill="#b4f0c0" stroke="#48a058" stroke-width="0.5"/><circle cx="116.0" cy="360.0" r="1.30" fill="#b4f0c0" stroke="#48a058" stroke-width="0.5"/><circle cx="125.6" cy="363.0" r="1.30" fill="#b4f0c0" stroke="#48a058" stroke-width="0.5"/><circle cx="129.0" cy="366.0" r="1.30" fill="#b4f0c0" stroke="#48a058" stroke-width="0.5"/><circle cx="152.5" cy="343.7" r="1.30" fill="#b4f0c0" stroke="#48a058" stroke-width="0.5"/><circle cx="134.5" cy="347.0" r="1.30" fill="#b4f0c0" stroke="#48a058" stroke-width="0.5"/><circle cx="136.0" cy="350.0" r="1.30" fill="#b4f0c0" stroke="#48a058" stroke-width="0.5"/><circle cx="138.0" cy="352.0" r="1.30" fill="#b4f0c0" stroke="#48a058" stroke-width="0.5"/><circle cx="135.0" cy="354.0" r="1.30" fill="#b4f0c0" stroke="#48a058" stroke-width="0.5"/><circle cx="140.0" cy="355.0" r="1.30" fill="#b4f0c0" stroke="#48a058" stroke-width="0.5"/><circle cx="143.0" cy="353.0" r="1.30" fill="#b4f0c0" stroke="#48a058" stroke-width="0.5"/><circle cx="146.0" cy="351.0" r="1.30" fill="#b4f0c0" stroke="#48a058" stroke-width="0.5"/><circle cx="147.5" cy="356.0" r="1.30" fill="#b4f0c0" stroke="#48a058" stroke-width="0.5"/><circle cx="137.0" cy="356.4" r="1.30" fill="#b4f0c0" stroke="#48a058" stroke-width="0.5"/><circle cx="163.7" cy="349.0" r="1.30" fill="#b4f0c0" stroke="#48a058" stroke-width="0.5"/><circle cx="165.0" cy="350.5" r="1.30" fill="#b4f0c0" stroke="#48a058" stroke-width="0.5"/><circle cx="152.8" cy="351.1" r="1.30" fill="#b4f0c0" stroke="#48a058" stroke-width="0.5"/><circle cx="179.0" cy="347.6" r="1.30" fill="#b4f0c0" stroke="#48a058" stroke-width="0.5"/><circle cx="134.0" cy="354.0" r="1.30" fill="#b4f0c0" stroke="#48a058" stroke-width="0.5"/><circle cx="145.0" cy="352.0" r="1.30" fill="#b4f0c0" stroke="#48a058" stroke-width="0.5"/><circle cx="153.0" cy="351.0" r="1.30" fill="#b4f0c0" stroke="#48a058" stroke-width="0.5"/><circle cx="166.0" cy="351.0" r="1.30" fill="#b4f0c0" stroke="#48a058" stroke-width="0.5"/><circle cx="128.0" cy="366.0" r="1.30" fill="#b4f0c0" stroke="#48a058" stroke-width="0.5"/><circle cx="140.0" cy="365.0" r="1.30" fill="#b4f0c0" stroke="#48a058" stroke-width="0.5"/><circle cx="84.0" cy="372.0" r="1.30" fill="#b4f0c0" stroke="#48a058" stroke-width="0.5"/><circle cx="58.0" cy="373.0" r="1.30" fill="#b4f0c0" stroke="#48a058" stroke-width="0.5"/><circle cx="100.0" cy="362.0" r="1.30" fill="#b4f0c0" stroke="#48a058" stroke-width="0.5"/><circle cx="117.3" cy="331.3" r="1.80" fill="#8668d8" stroke="#6a4cbc" stroke-width="0.3"/><circle cx="137.1" cy="340.2" r="1.50" fill="#8668d8" stroke="#6a4cbc" stroke-width="0.3"/><circle cx="154.3" cy="336.6" r="1.30" fill="#8668d8" stroke="#6a4cbc" stroke-width="0.3"/><circle cx="286.2" cy="289.8" r="1.40" fill="#8668d8" stroke="#6a4cbc" stroke-width="0.3"/><circle cx="297.8" cy="298.8" r="1.50" fill="#8668d8" stroke="#6a4cbc" stroke-width="0.3"/><circle cx="308.0" cy="298.8" r="1.50" fill="#8668d8" stroke="#6a4cbc" stroke-width="0.3"/><circle cx="317.0" cy="301.4" r="1.70" fill="#8668d8" stroke="#6a4cbc" stroke-width="0.3"/><circle cx="304.2" cy="302.0" r="1.40" fill="#8668d8" stroke="#6a4cbc" stroke-width="0.3"/><circle cx="287.2" cy="303.6" r="2.00" fill="#8668d8" stroke="#6a4cbc" stroke-width="0.3"/><circle cx="290.4" cy="305.2" r="1.60" fill="#8668d8" stroke="#6a4cbc" stroke-width="0.3"/><circle cx="285.0" cy="306.8" r="1.60" fill="#8668d8" stroke="#6a4cbc" stroke-width="0.3"/><circle cx="266.4" cy="298.8" r="1.40" fill="#8668d8" stroke="#6a4cbc" stroke-width="0.3"/><circle cx="259.4" cy="303.0" r="1.20" fill="#8668d8" stroke="#6a4cbc" stroke-width="0.3"/><circle cx="260.0" cy="305.2" r="1.20" fill="#8668d8" stroke="#6a4cbc" stroke-width="0.3"/><circle cx="247.2" cy="302.0" r="1.30" fill="#8668d8" stroke="#6a4cbc" stroke-width="0.3"/><circle cx="256.8" cy="312.6" r="1.10" fill="#8668d8" stroke="#6a4cbc" stroke-width="0.3"/><circle cx="213.6" cy="316.4" r="1.60" fill="#8668d8" stroke="#6a4cbc" stroke-width="0.3"/><circle cx="218.4" cy="314.8" r="1.60" fill="#8668d8" stroke="#6a4cbc" stroke-width="0.3"/><circle cx="221.6" cy="318.0" r="1.60" fill="#8668d8" stroke="#6a4cbc" stroke-width="0.3"/><circle cx="223.2" cy="316.4" r="1.60" fill="#8668d8" stroke="#6a4cbc" stroke-width="0.3"/><circle cx="201.8" cy="322.2" r="1.50" fill="#8668d8" stroke="#6a4cbc" stroke-width="0.3"/><circle cx="205.6" cy="321.2" r="1.50" fill="#8668d8" stroke="#6a4cbc" stroke-width="0.3"/><circle cx="210.4" cy="328.2" r="1.50" fill="#8668d8" stroke="#6a4cbc" stroke-width="0.3"/><circle cx="224.8" cy="326.0" r="1.60" fill="#8668d8" stroke="#6a4cbc" stroke-width="0.3"/><circle cx="228.0" cy="326.0" r="1.60" fill="#8668d8" stroke="#6a4cbc" stroke-width="0.3"/><circle cx="237.0" cy="317.0" r="1.40" fill="#8668d8" stroke="#6a4cbc" stroke-width="0.3"/><circle cx="231.2" cy="313.8" r="0.90" fill="#8668d8" stroke="#6a4cbc" stroke-width="0.3"/><circle cx="242.4" cy="322.8" r="0.90" fill="#8668d8" stroke="#6a4cbc" stroke-width="0.3"/><circle cx="213.6" cy="340.4" r="0.90" fill="#8668d8" stroke="#6a4cbc" stroke-width="0.3"/><circle cx="244.0" cy="344.6" r="1.30" fill="#8668d8" stroke="#6a4cbc" stroke-width="0.3"/><circle cx="251.0" cy="345.2" r="1.30" fill="#8668d8" stroke="#6a4cbc" stroke-width="0.3"/><circle cx="234.4" cy="332.4" r="0.90" fill="#8668d8" stroke="#6a4cbc" stroke-width="0.3"/><circle cx="204.0" cy="343.6" r="0.80" fill="#8668d8" stroke="#6a4cbc" stroke-width="0.3"/><circle cx="299.0" cy="338.8" r="0.80" fill="#8668d8" stroke="#6a4cbc" stroke-width="0.3"/><circle cx="158.7" cy="330.4" r="1.40" fill="#d898e6" stroke="#b880cc" stroke-width="0.3"/><circle cx="277.6" cy="306.8" r="1.30" fill="#d898e6" stroke="#b880cc" stroke-width="0.3"/><circle cx="264.8" cy="297.8" r="1.30" fill="#d898e6" stroke="#b880cc" stroke-width="0.3"/><circle cx="197.6" cy="331.8" r="1.40" fill="#d898e6" stroke="#b880cc" stroke-width="0.3"/><circle cx="200.8" cy="331.8" r="1.40" fill="#d898e6" stroke="#b880cc" stroke-width="0.3"/><circle cx="309.6" cy="340.4" r="1.20" fill="#d898e6" stroke="#b880cc" stroke-width="0.3"/><circle cx="341.0" cy="362.7" r="1.10" fill="#d898e6" stroke="#b880cc" stroke-width="0.3"/><circle cx="342.2" cy="365.8" r="1.00" fill="#d898e6" stroke="#b880cc" stroke-width="0.3"/><circle cx="344.6" cy="367.3" r="1.00" fill="#d898e6" stroke="#b880cc" stroke-width="0.3"/><circle cx="344.6" cy="372.5" r="1.00" fill="#d898e6" stroke="#b880cc" stroke-width="0.3"/><circle cx="365.6" cy="388.0" r="1.10" fill="#d898e6" stroke="#b880cc" stroke-width="0.3"/><circle cx="333.9" cy="370.4" r="1.00" fill="#d898e6" stroke="#b880cc" stroke-width="0.3"/><circle cx="96.8" cy="365.4" r="0.98" fill="#8668d8" stroke="#6a4cbc" stroke-width="0.3"/><circle cx="98.2" cy="368.4" r="1.05" fill="#8668d8" stroke="#6a4cbc" stroke-width="0.3"/><circle cx="89.8" cy="367.9" r="1.18" fill="#8668d8" stroke="#6a4cbc" stroke-width="0.3"/><circle cx="87.4" cy="371.5" r="0.88" fill="#8668d8" stroke="#6a4cbc" stroke-width="0.3"/><circle cx="87.4" cy="373.1" r="0.73" fill="#8668d8" stroke="#6a4cbc" stroke-width="0.3"/><circle cx="110.5" cy="365.5" r="1.28" fill="#8668d8" stroke="#6a4cbc" stroke-width="0.3"/><circle cx="102.0" cy="368.9" r="0.71" fill="#8668d8" stroke="#6a4cbc" stroke-width="0.3"/><circle cx="98.7" cy="369.4" r="0.74" fill="#8668d8" stroke="#6a4cbc" stroke-width="0.3"/><circle cx="89.9" cy="371.5" r="0.98" fill="#8668d8" stroke="#6a4cbc" stroke-width="0.3"/><circle cx="96.5" cy="371.3" r="1.21" fill="#8668d8" stroke="#6a4cbc" stroke-width="0.3"/><circle cx="98.5" cy="368.6" r="1.10" fill="#8668d8" stroke="#6a4cbc" stroke-width="0.3"/><circle cx="96.9" cy="368.4" r="0.87" fill="#8668d8" stroke="#6a4cbc" stroke-width="0.3"/><circle cx="110.9" cy="373.8" r="1.12" fill="#8668d8" stroke="#6a4cbc" stroke-width="0.3"/><circle cx="93.2" cy="370.9" r="0.84" fill="#8668d8" stroke="#6a4cbc" stroke-width="0.3"/><circle cx="92.5" cy="375.0" r="0.94" fill="#8668d8" stroke="#6a4cbc" stroke-width="0.3"/><circle cx="186.3" cy="378.6" r="0.97" fill="#8668d8" stroke="#6a4cbc" stroke-width="0.3"/><circle cx="196.3" cy="376.9" r="0.85" fill="#8668d8" stroke="#6a4cbc" stroke-width="0.3"/><circle cx="192.0" cy="376.5" r="1.03" fill="#8668d8" stroke="#6a4cbc" stroke-width="0.3"/><circle cx="198.3" cy="375.9" r="1.14" fill="#8668d8" stroke="#6a4cbc" stroke-width="0.3"/><circle cx="180.3" cy="376.8" r="0.89" fill="#8668d8" stroke="#6a4cbc" stroke-width="0.3"/><circle cx="118.8" cy="366.8" r="1.23" fill="#8668d8" stroke="#6a4cbc" stroke-width="0.3"/><circle cx="121.5" cy="376.0" r="0.87" fill="#8668d8" stroke="#6a4cbc" stroke-width="0.3"/><circle cx="120.0" cy="374.3" r="0.82" fill="#8668d8" stroke="#6a4cbc" stroke-width="0.3"/><circle cx="160.8" cy="377.0" r="1.01" fill="#8668d8" stroke="#6a4cbc" stroke-width="0.3"/><circle cx="128.0" cy="371.0" r="1.15" fill="#8668d8" stroke="#6a4cbc" stroke-width="0.3"/><circle cx="121.4" cy="369.0" r="0.99" fill="#8668d8" stroke="#6a4cbc" stroke-width="0.3"/><circle cx="129.9" cy="370.5" r="1.26" fill="#8668d8" stroke="#6a4cbc" stroke-width="0.3"/><circle cx="138.1" cy="379.6" r="1.32" fill="#8668d8" stroke="#6a4cbc" stroke-width="0.3"/><circle cx="129.8" cy="367.3" r="1.15" fill="#8668d8" stroke="#6a4cbc" stroke-width="0.3"/><circle cx="119.9" cy="373.2" r="1.39" fill="#8668d8" stroke="#6a4cbc" stroke-width="0.3"/><circle cx="130.0" cy="371.1" r="0.93" fill="#8668d8" stroke="#6a4cbc" stroke-width="0.3"/><circle cx="137.4" cy="377.0" r="0.75" fill="#8668d8" stroke="#6a4cbc" stroke-width="0.3"/><circle cx="119.0" cy="368.4" r="1.12" fill="#8668d8" stroke="#6a4cbc" stroke-width="0.3"/><circle cx="144.1" cy="372.0" r="1.02" fill="#8668d8" stroke="#6a4cbc" stroke-width="0.3"/><circle cx="196.4" cy="372.6" r="1.31" fill="#8668d8" stroke="#6a4cbc" stroke-width="0.3"/><circle cx="127.3" cy="371.4" r="0.81" fill="#8668d8" stroke="#6a4cbc" stroke-width="0.3"/><circle cx="191.8" cy="377.6" r="0.83" fill="#8668d8" stroke="#6a4cbc" stroke-width="0.3"/><circle cx="176.8" cy="373.7" r="1.36" fill="#8668d8" stroke="#6a4cbc" stroke-width="0.3"/><circle cx="128.5" cy="376.3" r="1.12" fill="#8668d8" stroke="#6a4cbc" stroke-width="0.3"/><circle cx="148.5" cy="371.8" r="0.77" fill="#8668d8" stroke="#6a4cbc" stroke-width="0.3"/><circle cx="114.4" cy="371.2" r="1.19" fill="#8668d8" stroke="#6a4cbc" stroke-width="0.3"/><circle cx="133.9" cy="371.4" r="1.28" fill="#8668d8" stroke="#6a4cbc" stroke-width="0.3"/><circle cx="164.1" cy="374.7" r="1.20" fill="#8668d8" stroke="#6a4cbc" stroke-width="0.3"/><circle cx="117.1" cy="371.2" r="0.86" fill="#8668d8" stroke="#6a4cbc" stroke-width="0.3"/><circle cx="160.8" cy="377.5" r="0.90" fill="#8668d8" stroke="#6a4cbc" stroke-width="0.3"/><circle cx="192.6" cy="373.0" r="0.84" fill="#8668d8" stroke="#6a4cbc" stroke-width="0.3"/><circle cx="112.5" cy="368.9" r="0.74" fill="#8668d8" stroke="#6a4cbc" stroke-width="0.3"/><circle cx="126.7" cy="373.8" r="0.96" fill="#8668d8" stroke="#6a4cbc" stroke-width="0.3"/><circle cx="161.9" cy="377.0" r="1.32" fill="#8668d8" stroke="#6a4cbc" stroke-width="0.3"/><circle cx="198.3" cy="379.2" r="1.16" fill="#8668d8" stroke="#6a4cbc" stroke-width="0.3"/><circle cx="172.5" cy="374.2" r="0.72" fill="#8668d8" stroke="#6a4cbc" stroke-width="0.3"/><circle cx="112.6" cy="368.5" r="1.34" fill="#8668d8" stroke="#6a4cbc" stroke-width="0.3"/><circle cx="173.4" cy="376.3" r="1.15" fill="#8668d8" stroke="#6a4cbc" stroke-width="0.3"/><circle cx="153.9" cy="374.1" r="1.21" fill="#8668d8" stroke="#6a4cbc" stroke-width="0.3"/><circle cx="139.4" cy="373.6" r="1.08" fill="#8668d8" stroke="#6a4cbc" stroke-width="0.3"/><circle cx="176.6" cy="375.8" r="1.33" fill="#8668d8" stroke="#6a4cbc" stroke-width="0.3"/><circle cx="176.6" cy="374.2" r="1.34" fill="#8668d8" stroke="#6a4cbc" stroke-width="0.3"/><circle cx="142.3" cy="368.1" r="1.18" fill="#8668d8" stroke="#6a4cbc" stroke-width="0.3"/><circle cx="191.2" cy="378.9" r="1.25" fill="#8668d8" stroke="#6a4cbc" stroke-width="0.3"/><circle cx="187.8" cy="374.0" r="1.10" fill="#8668d8" stroke="#6a4cbc" stroke-width="0.3"/><circle cx="166.6" cy="372.4" r="1.13" fill="#8668d8" stroke="#6a4cbc" stroke-width="0.3"/><circle cx="118.1" cy="372.1" r="1.15" fill="#8668d8" stroke="#6a4cbc" stroke-width="0.3"/><circle cx="199.4" cy="380.8" r="0.97" fill="#8668d8" stroke="#6a4cbc" stroke-width="0.3"/><circle cx="176.4" cy="372.4" r="1.11" fill="#8668d8" stroke="#6a4cbc" stroke-width="0.3"/><circle cx="150.2" cy="374.5" r="1.23" fill="#8668d8" stroke="#6a4cbc" stroke-width="0.3"/><circle cx="113.7" cy="368.5" r="1.12" fill="#8668d8" stroke="#6a4cbc" stroke-width="0.3"/><circle cx="153.8" cy="374.8" r="1.05" fill="#8668d8" stroke="#6a4cbc" stroke-width="0.3"/><circle cx="165.7" cy="380.0" r="1.34" fill="#8668d8" stroke="#6a4cbc" stroke-width="0.3"/><circle cx="133.8" cy="374.1" r="1.17" fill="#8668d8" stroke="#6a4cbc" stroke-width="0.3"/><circle cx="129.0" cy="371.4" r="0.82" fill="#8668d8" stroke="#6a4cbc" stroke-width="0.3"/><circle cx="191.6" cy="374.7" r="1.32" fill="#8668d8" stroke="#6a4cbc" stroke-width="0.3"/><circle cx="140.1" cy="370.1" r="1.17" fill="#8668d8" stroke="#6a4cbc" stroke-width="0.3"/><circle cx="128.7" cy="366.9" r="1.34" fill="#8668d8" stroke="#6a4cbc" stroke-width="0.3"/><circle cx="189.3" cy="378.9" r="0.97" fill="#8668d8" stroke="#6a4cbc" stroke-width="0.3"/><circle cx="162.9" cy="374.5" r="1.05" fill="#8668d8" stroke="#6a4cbc" stroke-width="0.3"/><circle cx="185.5" cy="377.9" r="1.29" fill="#8668d8" stroke="#6a4cbc" stroke-width="0.3"/><circle cx="174.3" cy="378.1" r="0.82" fill="#8668d8" stroke="#6a4cbc" stroke-width="0.3"/><circle cx="151.1" cy="373.2" r="0.89" fill="#8668d8" stroke="#6a4cbc" stroke-width="0.3"/><circle cx="130.1" cy="368.2" r="1.05" fill="#8668d8" stroke="#6a4cbc" stroke-width="0.3"/><circle cx="139.1" cy="374.5" r="1.29" fill="#8668d8" stroke="#6a4cbc" stroke-width="0.3"/><circle cx="198.4" cy="375.7" r="0.72" fill="#8668d8" stroke="#6a4cbc" stroke-width="0.3"/><circle cx="188.7" cy="376.8" r="0.73" fill="#8668d8" stroke="#6a4cbc" stroke-width="0.3"/><circle cx="174.1" cy="373.3" r="1.25" fill="#8668d8" stroke="#6a4cbc" stroke-width="0.3"/><circle cx="112.7" cy="368.3" r="0.80" fill="#8668d8" stroke="#6a4cbc" stroke-width="0.3"/><circle cx="151.5" cy="379.4" r="0.87" fill="#8668d8" stroke="#6a4cbc" stroke-width="0.3"/><circle cx="123.5" cy="371.3" r="0.73" fill="#8668d8" stroke="#6a4cbc" stroke-width="0.3"/><circle cx="167.0" cy="371.3" r="1.16" fill="#8668d8" stroke="#6a4cbc" stroke-width="0.3"/><circle cx="182.9" cy="377.6" r="1.37" fill="#8668d8" stroke="#6a4cbc" stroke-width="0.3"/><circle cx="171.9" cy="376.7" r="0.83" fill="#8668d8" stroke="#6a4cbc" stroke-width="0.3"/><circle cx="112.0" cy="371.7" r="1.03" fill="#8668d8" stroke="#6a4cbc" stroke-width="0.3"/><circle cx="174.6" cy="376.8" r="0.94" fill="#8668d8" stroke="#6a4cbc" stroke-width="0.3"/><circle cx="173.1" cy="377.9" r="1.06" fill="#8668d8" stroke="#6a4cbc" stroke-width="0.3"/><circle cx="165.7" cy="375.4" r="1.25" fill="#8668d8" stroke="#6a4cbc" stroke-width="0.3"/><circle cx="191.7" cy="373.3" r="0.76" fill="#8668d8" stroke="#6a4cbc" stroke-width="0.3"/><circle cx="194.0" cy="376.4" r="1.02" fill="#8668d8" stroke="#6a4cbc" stroke-width="0.3"/><circle cx="166.7" cy="373.7" r="1.34" fill="#8668d8" stroke="#6a4cbc" stroke-width="0.3"/><circle cx="144.5" cy="367.9" r="1.26" fill="#8668d8" stroke="#6a4cbc" stroke-width="0.3"/><circle cx="195.0" cy="373.9" r="1.02" fill="#8668d8" stroke="#6a4cbc" stroke-width="0.3"/><circle cx="169.0" cy="376.8" r="1.27" fill="#8668d8" stroke="#6a4cbc" stroke-width="0.3"/><circle cx="168.1" cy="380.1" r="1.20" fill="#8668d8" stroke="#6a4cbc" stroke-width="0.3"/><circle cx="130.0" cy="377.4" r="1.38" fill="#8668d8" stroke="#6a4cbc" stroke-width="0.3"/><circle cx="158.8" cy="369.9" r="1.25" fill="#8668d8" stroke="#6a4cbc" stroke-width="0.3"/><circle cx="139.5" cy="377.1" r="0.94" fill="#8668d8" stroke="#6a4cbc" stroke-width="0.3"/><circle cx="118.4" cy="367.3" r="1.01" fill="#8668d8" stroke="#6a4cbc" stroke-width="0.3"/><circle cx="160.0" cy="375.4" r="0.72" fill="#8668d8" stroke="#6a4cbc" stroke-width="0.3"/><circle cx="183.0" cy="372.5" r="0.74" fill="#8668d8" stroke="#6a4cbc" stroke-width="0.3"/><circle cx="182.2" cy="377.4" r="1.25" fill="#8668d8" stroke="#6a4cbc" stroke-width="0.3"/><circle cx="123.5" cy="372.6" r="0.80" fill="#8668d8" stroke="#6a4cbc" stroke-width="0.3"/><circle cx="157.0" cy="373.7" r="1.18" fill="#8668d8" stroke="#6a4cbc" stroke-width="0.3"/><circle cx="195.2" cy="370.6" r="1.04" fill="#8668d8" stroke="#6a4cbc" stroke-width="0.3"/><circle cx="195.5" cy="378.8" r="1.07" fill="#8668d8" stroke="#6a4cbc" stroke-width="0.3"/><circle cx="136.8" cy="373.2" r="1.21" fill="#8668d8" stroke="#6a4cbc" stroke-width="0.3"/><circle cx="167.9" cy="369.6" r="1.09" fill="#8668d8" stroke="#6a4cbc" stroke-width="0.3"/><circle cx="138.7" cy="371.7" r="0.97" fill="#8668d8" stroke="#6a4cbc" stroke-width="0.3"/><circle cx="186.2" cy="378.1" r="1.30" fill="#8668d8" stroke="#6a4cbc" stroke-width="0.3"/><circle cx="197.2" cy="375.5" r="1.07" fill="#8668d8" stroke="#6a4cbc" stroke-width="0.3"/><circle cx="162.0" cy="376.2" r="1.05" fill="#8668d8" stroke="#6a4cbc" stroke-width="0.3"/><circle cx="164.9" cy="378.8" r="0.72" fill="#8668d8" stroke="#6a4cbc" stroke-width="0.3"/><circle cx="197.3" cy="373.6" r="1.26" fill="#8668d8" stroke="#6a4cbc" stroke-width="0.3"/><circle cx="161.1" cy="374.7" r="1.04" fill="#8668d8" stroke="#6a4cbc" stroke-width="0.3"/><circle cx="172.5" cy="379.1" r="0.99" fill="#8668d8" stroke="#6a4cbc" stroke-width="0.3"/><circle cx="196.2" cy="378.4" r="1.35" fill="#8668d8" stroke="#6a4cbc" stroke-width="0.3"/><circle cx="135.0" cy="370.6" r="1.00" fill="#8668d8" stroke="#6a4cbc" stroke-width="0.3"/><circle cx="183.6" cy="376.5" r="1.33" fill="#8668d8" stroke="#6a4cbc" stroke-width="0.3"/><circle cx="153.4" cy="373.4" r="1.13" fill="#8668d8" stroke="#6a4cbc" stroke-width="0.3"/><circle cx="193.3" cy="378.6" r="0.79" fill="#8668d8" stroke="#6a4cbc" stroke-width="0.3"/><circle cx="180.4" cy="378.1" r="0.86" fill="#8668d8" stroke="#6a4cbc" stroke-width="0.3"/><circle cx="172.1" cy="375.9" r="0.93" fill="#8668d8" stroke="#6a4cbc" stroke-width="0.3"/><circle cx="142.6" cy="372.0" r="1.21" fill="#8668d8" stroke="#6a4cbc" stroke-width="0.3"/><circle cx="121.9" cy="369.5" r="1.06" fill="#8668d8" stroke="#6a4cbc" stroke-width="0.3"/><circle cx="133.3" cy="372.8" r="1.01" fill="#8668d8" stroke="#6a4cbc" stroke-width="0.3"/><circle cx="144.4" cy="376.4" r="0.99" fill="#8668d8" stroke="#6a4cbc" stroke-width="0.3"/><circle cx="158.1" cy="375.9" r="1.14" fill="#8668d8" stroke="#6a4cbc" stroke-width="0.3"/><circle cx="167.8" cy="377.1" r="1.07" fill="#8668d8" stroke="#6a4cbc" stroke-width="0.3"/><circle cx="186.8" cy="371.5" r="0.86" fill="#8668d8" stroke="#6a4cbc" stroke-width="0.3"/><circle cx="176.9" cy="371.9" r="1.27" fill="#8668d8" stroke="#6a4cbc" stroke-width="0.3"/><circle cx="191.3" cy="375.4" r="1.35" fill="#8668d8" stroke="#6a4cbc" stroke-width="0.3"/><circle cx="130.4" cy="373.5" r="1.40" fill="#8668d8" stroke="#6a4cbc" stroke-width="0.3"/><circle cx="190.0" cy="378.1" r="1.21" fill="#8668d8" stroke="#6a4cbc" stroke-width="0.3"/><circle cx="134.1" cy="373.4" r="0.77" fill="#8668d8" stroke="#6a4cbc" stroke-width="0.3"/><circle cx="185.1" cy="371.3" r="0.79" fill="#8668d8" stroke="#6a4cbc" stroke-width="0.3"/><circle cx="146.8" cy="375.8" r="1.18" fill="#8668d8" stroke="#6a4cbc" stroke-width="0.3"/><circle cx="112.6" cy="370.3" r="1.34" fill="#8668d8" stroke="#6a4cbc" stroke-width="0.3"/><circle cx="197.2" cy="381.6" r="0.78" fill="#8668d8" stroke="#6a4cbc" stroke-width="0.3"/><circle cx="156.0" cy="374.7" r="1.18" fill="#8668d8" stroke="#6a4cbc" stroke-width="0.3"/><circle cx="127.8" cy="368.0" r="0.75" fill="#8668d8" stroke="#6a4cbc" stroke-width="0.3"/><circle cx="120.4" cy="373.3" r="1.06" fill="#8668d8" stroke="#6a4cbc" stroke-width="0.3"/><circle cx="161.6" cy="376.0" r="0.80" fill="#8668d8" stroke="#6a4cbc" stroke-width="0.3"/><circle cx="127.4" cy="372.5" r="1.39" fill="#8668d8" stroke="#6a4cbc" stroke-width="0.3"/><circle cx="193.5" cy="382.6" r="0.77" fill="#8668d8" stroke="#6a4cbc" stroke-width="0.3"/><circle cx="116.5" cy="372.3" r="1.24" fill="#8668d8" stroke="#6a4cbc" stroke-width="0.3"/><circle cx="140.1" cy="371.7" r="1.03" fill="#8668d8" stroke="#6a4cbc" stroke-width="0.3"/><circle cx="156.9" cy="371.0" r="0.71" fill="#8668d8" stroke="#6a4cbc" stroke-width="0.3"/><circle cx="173.4" cy="377.5" r="1.29" fill="#8668d8" stroke="#6a4cbc" stroke-width="0.3"/><circle cx="127.1" cy="366.9" r="0.98" fill="#8668d8" stroke="#6a4cbc" stroke-width="0.3"/><circle cx="128.4" cy="372.4" r="0.82" fill="#8668d8" stroke="#6a4cbc" stroke-width="0.3"/><circle cx="156.6" cy="380.8" r="1.26" fill="#8668d8" stroke="#6a4cbc" stroke-width="0.3"/><circle cx="173.7" cy="376.3" r="1.30" fill="#8668d8" stroke="#6a4cbc" stroke-width="0.3"/><circle cx="167.0" cy="371.9" r="1.05" fill="#8668d8" stroke="#6a4cbc" stroke-width="0.3"/><circle cx="198.5" cy="379.4" r="1.26" fill="#8668d8" stroke="#6a4cbc" stroke-width="0.3"/><circle cx="134.0" cy="375.6" r="1.24" fill="#8668d8" stroke="#6a4cbc" stroke-width="0.3"/><circle cx="183.5" cy="373.4" r="0.98" fill="#8668d8" stroke="#6a4cbc" stroke-width="0.3"/><circle cx="190.8" cy="380.2" r="1.24" fill="#8668d8" stroke="#6a4cbc" stroke-width="0.3"/><circle cx="179.1" cy="372.6" r="0.98" fill="#8668d8" stroke="#6a4cbc" stroke-width="0.3"/><circle cx="175.3" cy="378.3" r="1.03" fill="#8668d8" stroke="#6a4cbc" stroke-width="0.3"/><circle cx="111.9" cy="370.1" r="0.95" fill="#8668d8" stroke="#6a4cbc" stroke-width="0.3"/><circle cx="167.8" cy="373.8" r="1.36" fill="#8668d8" stroke="#6a4cbc" stroke-width="0.3"/><circle cx="170.3" cy="373.9" r="0.94" fill="#8668d8" stroke="#6a4cbc" stroke-width="0.3"/><circle cx="169.7" cy="372.1" r="0.97" fill="#8668d8" stroke="#6a4cbc" stroke-width="0.3"/><circle cx="200.0" cy="375.3" r="1.15" fill="#8668d8" stroke="#6a4cbc" stroke-width="0.3"/><circle cx="173.4" cy="376.3" r="0.72" fill="#8668d8" stroke="#6a4cbc" stroke-width="0.3"/><circle cx="165.8" cy="366.8" r="1.22" fill="#8668d8" stroke="#6a4cbc" stroke-width="0.3"/><circle cx="133.8" cy="371.2" r="0.84" fill="#8668d8" stroke="#6a4cbc" stroke-width="0.3"/><circle cx="144.4" cy="373.7" r="0.77" fill="#8668d8" stroke="#6a4cbc" stroke-width="0.3"/><circle cx="133.3" cy="374.6" r="1.06" fill="#8668d8" stroke="#6a4cbc" stroke-width="0.3"/><circle cx="197.1" cy="374.5" r="1.10" fill="#8668d8" stroke="#6a4cbc" stroke-width="0.3"/><circle cx="199.6" cy="373.1" r="0.75" fill="#8668d8" stroke="#6a4cbc" stroke-width="0.3"/><circle cx="164.2" cy="371.0" r="1.23" fill="#8668d8" stroke="#6a4cbc" stroke-width="0.3"/><circle cx="115.0" cy="370.8" r="1.03" fill="#8668d8" stroke="#6a4cbc" stroke-width="0.3"/><circle cx="126.1" cy="370.2" r="1.05" fill="#8668d8" stroke="#6a4cbc" stroke-width="0.3"/><circle cx="165.4" cy="382.1" r="0.99" fill="#8668d8" stroke="#6a4cbc" stroke-width="0.3"/><circle cx="157.9" cy="377.3" r="1.12" fill="#8668d8" stroke="#6a4cbc" stroke-width="0.3"/><circle cx="143.5" cy="372.1" r="1.09" fill="#8668d8" stroke="#6a4cbc" stroke-width="0.3"/><circle cx="136.2" cy="376.0" r="1.20" fill="#8668d8" stroke="#6a4cbc" stroke-width="0.3"/><circle cx="137.3" cy="374.3" r="0.73" fill="#8668d8" stroke="#6a4cbc" stroke-width="0.3"/><circle cx="124.9" cy="370.9" r="1.23" fill="#8668d8" stroke="#6a4cbc" stroke-width="0.3"/><circle cx="145.7" cy="377.0" r="0.74" fill="#8668d8" stroke="#6a4cbc" stroke-width="0.3"/><circle cx="199.0" cy="373.7" r="1.36" fill="#8668d8" stroke="#6a4cbc" stroke-width="0.3"/><circle cx="117.5" cy="372.0" r="1.03" fill="#8668d8" stroke="#6a4cbc" stroke-width="0.3"/><circle cx="197.6" cy="374.9" r="0.87" fill="#8668d8" stroke="#6a4cbc" stroke-width="0.3"/><circle cx="157.6" cy="379.1" r="1.03" fill="#8668d8" stroke="#6a4cbc" stroke-width="0.3"/><circle cx="198.1" cy="374.9" r="1.27" fill="#8668d8" stroke="#6a4cbc" stroke-width="0.3"/><circle cx="164.7" cy="378.4" r="1.02" fill="#8668d8" stroke="#6a4cbc" stroke-width="0.3"/><circle cx="129.1" cy="373.7" r="0.74" fill="#8668d8" stroke="#6a4cbc" stroke-width="0.3"/><circle cx="158.0" cy="377.0" r="1.17" fill="#8668d8" stroke="#6a4cbc" stroke-width="0.3"/><circle cx="151.5" cy="376.2" r="0.88" fill="#8668d8" stroke="#6a4cbc" stroke-width="0.3"/><circle cx="162.8" cy="370.6" r="1.07" fill="#8668d8" stroke="#6a4cbc" stroke-width="0.3"/><circle cx="199.8" cy="379.8" r="1.37" fill="#8668d8" stroke="#6a4cbc" stroke-width="0.3"/><circle cx="176.4" cy="375.9" r="1.32" fill="#8668d8" stroke="#6a4cbc" stroke-width="0.3"/><circle cx="180.8" cy="377.6" r="1.14" fill="#8668d8" stroke="#6a4cbc" stroke-width="0.3"/><circle cx="143.0" cy="372.4" r="1.10" fill="#8668d8" stroke="#6a4cbc" stroke-width="0.3"/><circle cx="163.7" cy="379.7" r="1.14" fill="#8668d8" stroke="#6a4cbc" stroke-width="0.3"/><circle cx="178.0" cy="376.8" r="1.39" fill="#8668d8" stroke="#6a4cbc" stroke-width="0.3"/><circle cx="192.5" cy="378.9" r="1.32" fill="#8668d8" stroke="#6a4cbc" stroke-width="0.3"/><circle cx="114.5" cy="371.2" r="1.00" fill="#8668d8" stroke="#6a4cbc" stroke-width="0.3"/><circle cx="166.5" cy="376.2" r="0.77" fill="#8668d8" stroke="#6a4cbc" stroke-width="0.3"/><circle cx="159.2" cy="376.0" r="1.17" fill="#8668d8" stroke="#6a4cbc" stroke-width="0.3"/><circle cx="160.0" cy="375.6" r="1.14" fill="#8668d8" stroke="#6a4cbc" stroke-width="0.3"/><circle cx="144.2" cy="371.2" r="0.94" fill="#8668d8" stroke="#6a4cbc" stroke-width="0.3"/><circle cx="177.3" cy="376.2" r="1.29" fill="#8668d8" stroke="#6a4cbc" stroke-width="0.3"/><circle cx="117.6" cy="373.1" r="1.14" fill="#8668d8" stroke="#6a4cbc" stroke-width="0.3"/><circle cx="179.4" cy="379.9" r="0.85" fill="#8668d8" stroke="#6a4cbc" stroke-width="0.3"/><circle cx="148.8" cy="373.4" r="0.96" fill="#8668d8" stroke="#6a4cbc" stroke-width="0.3"/><circle cx="169.2" cy="381.0" r="1.39" fill="#8668d8" stroke="#6a4cbc" stroke-width="0.3"/><circle cx="140.0" cy="368.2" r="1.34" fill="#8668d8" stroke="#6a4cbc" stroke-width="0.3"/><circle cx="149.1" cy="372.3" r="0.96" fill="#8668d8" stroke="#6a4cbc" stroke-width="0.3"/><circle cx="119.6" cy="370.8" r="0.76" fill="#8668d8" stroke="#6a4cbc" stroke-width="0.3"/><circle cx="161.2" cy="374.2" r="1.04" fill="#8668d8" stroke="#6a4cbc" stroke-width="0.3"/><circle cx="172.0" cy="374.0" r="0.75" fill="#8668d8" stroke="#6a4cbc" stroke-width="0.3"/><circle cx="130.0" cy="375.7" r="1.16" fill="#8668d8" stroke="#6a4cbc" stroke-width="0.3"/><circle cx="118.3" cy="368.6" r="1.19" fill="#8668d8" stroke="#6a4cbc" stroke-width="0.3"/><circle cx="136.2" cy="376.3" r="0.80" fill="#8668d8" stroke="#6a4cbc" stroke-width="0.3"/><circle cx="142.8" cy="372.5" r="0.78" fill="#8668d8" stroke="#6a4cbc" stroke-width="0.3"/><circle cx="174.1" cy="372.8" r="1.10" fill="#8668d8" stroke="#6a4cbc" stroke-width="0.3"/><circle cx="192.8" cy="383.3" r="1.01" fill="#8668d8" stroke="#6a4cbc" stroke-width="0.3"/><circle cx="182.5" cy="373.5" r="0.91" fill="#8668d8" stroke="#6a4cbc" stroke-width="0.3"/><circle cx="139.3" cy="367.3" r="1.33" fill="#8668d8" stroke="#6a4cbc" stroke-width="0.3"/><circle cx="133.1" cy="375.4" r="0.95" fill="#8668d8" stroke="#6a4cbc" stroke-width="0.3"/><circle cx="143.5" cy="371.2" r="0.97" fill="#8668d8" stroke="#6a4cbc" stroke-width="0.3"/><circle cx="128.4" cy="373.2" r="1.09" fill="#8668d8" stroke="#6a4cbc" stroke-width="0.3"/><circle cx="181.9" cy="370.3" r="1.09" fill="#8668d8" stroke="#6a4cbc" stroke-width="0.3"/><circle cx="126.7" cy="369.7" r="1.23" fill="#8668d8" stroke="#6a4cbc" stroke-width="0.3"/><circle cx="189.4" cy="376.3" r="1.06" fill="#8668d8" stroke="#6a4cbc" stroke-width="0.3"/><circle cx="159.4" cy="375.6" r="1.10" fill="#8668d8" stroke="#6a4cbc" stroke-width="0.3"/><circle cx="197.0" cy="373.4" r="0.74" fill="#8668d8" stroke="#6a4cbc" stroke-width="0.3"/><circle cx="159.7" cy="370.6" r="1.25" fill="#8668d8" stroke="#6a4cbc" stroke-width="0.3"/><circle cx="118.5" cy="373.5" r="1.33" fill="#8668d8" stroke="#6a4cbc" stroke-width="0.3"/><circle cx="118.5" cy="371.9" r="1.14" fill="#8668d8" stroke="#6a4cbc" stroke-width="0.3"/><circle cx="123.8" cy="370.5" r="0.87" fill="#8668d8" stroke="#6a4cbc" stroke-width="0.3"/><circle cx="130.6" cy="367.6" r="1.24" fill="#8668d8" stroke="#6a4cbc" stroke-width="0.3"/><circle cx="157.4" cy="375.0" r="0.94" fill="#8668d8" stroke="#6a4cbc" stroke-width="0.3"/><circle cx="197.2" cy="373.6" r="1.17" fill="#8668d8" stroke="#6a4cbc" stroke-width="0.3"/><circle cx="154.9" cy="369.8" r="1.20" fill="#8668d8" stroke="#6a4cbc" stroke-width="0.3"/><circle cx="192.4" cy="375.4" r="0.99" fill="#8668d8" stroke="#6a4cbc" stroke-width="0.3"/><circle cx="184.5" cy="373.1" r="1.26" fill="#8668d8" stroke="#6a4cbc" stroke-width="0.3"/><circle cx="185.2" cy="370.8" r="1.32" fill="#8668d8" stroke="#6a4cbc" stroke-width="0.3"/><circle cx="196.2" cy="374.3" r="1.20" fill="#8668d8" stroke="#6a4cbc" stroke-width="0.3"/><circle cx="182.4" cy="373.1" r="1.00" fill="#8668d8" stroke="#6a4cbc" stroke-width="0.3"/><circle cx="148.4" cy="376.5" r="1.39" fill="#8668d8" stroke="#6a4cbc" stroke-width="0.3"/><circle cx="144.4" cy="376.8" r="0.82" fill="#8668d8" stroke="#6a4cbc" stroke-width="0.3"/><circle cx="129.2" cy="369.3" r="1.38" fill="#8668d8" stroke="#6a4cbc" stroke-width="0.3"/><circle cx="116.3" cy="370.6" r="0.92" fill="#8668d8" stroke="#6a4cbc" stroke-width="0.3"/><circle cx="121.2" cy="367.7" r="0.83" fill="#8668d8" stroke="#6a4cbc" stroke-width="0.3"/><circle cx="116.5" cy="366.3" r="1.02" fill="#8668d8" stroke="#6a4cbc" stroke-width="0.3"/><circle cx="163.0" cy="375.8" r="0.78" fill="#8668d8" stroke="#6a4cbc" stroke-width="0.3"/><circle cx="127.4" cy="370.7" r="0.85" fill="#8668d8" stroke="#6a4cbc" stroke-width="0.3"/><circle cx="132.0" cy="370.9" r="0.86" fill="#8668d8" stroke="#6a4cbc" stroke-width="0.3"/><circle cx="127.5" cy="367.6" r="0.90" fill="#8668d8" stroke="#6a4cbc" stroke-width="0.3"/><circle cx="126.4" cy="371.0" r="1.08" fill="#8668d8" stroke="#6a4cbc" stroke-width="0.3"/><circle cx="183.7" cy="373.4" r="1.04" fill="#8668d8" stroke="#6a4cbc" stroke-width="0.3"/><circle cx="134.2" cy="376.4" r="0.94" fill="#8668d8" stroke="#6a4cbc" stroke-width="0.3"/><circle cx="159.7" cy="370.6" r="1.37" fill="#8668d8" stroke="#6a4cbc" stroke-width="0.3"/><circle cx="154.0" cy="374.4" r="1.36" fill="#8668d8" stroke="#6a4cbc" stroke-width="0.3"/><circle cx="182.3" cy="377.1" r="0.97" fill="#8668d8" stroke="#6a4cbc" stroke-width="0.3"/><circle cx="158.0" cy="372.4" r="1.39" fill="#8668d8" stroke="#6a4cbc" stroke-width="0.3"/><circle cx="169.5" cy="375.2" r="0.87" fill="#8668d8" stroke="#6a4cbc" stroke-width="0.3"/><circle cx="112.0" cy="366.8" r="1.26" fill="#8668d8" stroke="#6a4cbc" stroke-width="0.3"/><circle cx="174.5" cy="376.2" r="1.12" fill="#8668d8" stroke="#6a4cbc" stroke-width="0.3"/><circle cx="125.0" cy="372.0" r="0.88" fill="#8668d8" stroke="#6a4cbc" stroke-width="0.3"/><circle cx="188.4" cy="378.8" r="1.06" fill="#8668d8" stroke="#6a4cbc" stroke-width="0.3"/><circle cx="167.7" cy="377.8" r="1.07" fill="#8668d8" stroke="#6a4cbc" stroke-width="0.3"/><circle cx="124.4" cy="370.6" r="1.24" fill="#8668d8" stroke="#6a4cbc" stroke-width="0.3"/><circle cx="111.1" cy="371.0" r="1.28" fill="#8668d8" stroke="#6a4cbc" stroke-width="0.3"/><circle cx="118.3" cy="365.6" r="0.89" fill="#8668d8" stroke="#6a4cbc" stroke-width="0.3"/><circle cx="174.8" cy="378.7" r="1.03" fill="#8668d8" stroke="#6a4cbc" stroke-width="0.3"/><circle cx="196.0" cy="378.9" r="1.11" fill="#8668d8" stroke="#6a4cbc" stroke-width="0.3"/><circle cx="187.3" cy="374.5" r="0.99" fill="#8668d8" stroke="#6a4cbc" stroke-width="0.3"/><circle cx="192.6" cy="382.0" r="0.76" fill="#8668d8" stroke="#6a4cbc" stroke-width="0.3"/><circle cx="184.5" cy="377.3" r="1.07" fill="#8668d8" stroke="#6a4cbc" stroke-width="0.3"/><circle cx="125.0" cy="373.9" r="1.28" fill="#8668d8" stroke="#6a4cbc" stroke-width="0.3"/><circle cx="138.7" cy="372.0" r="0.91" fill="#8668d8" stroke="#6a4cbc" stroke-width="0.3"/><circle cx="152.6" cy="375.2" r="1.20" fill="#8668d8" stroke="#6a4cbc" stroke-width="0.3"/><circle cx="143.0" cy="372.5" r="0.98" fill="#8668d8" stroke="#6a4cbc" stroke-width="0.3"/><circle cx="152.1" cy="372.8" r="1.38" fill="#8668d8" stroke="#6a4cbc" stroke-width="0.3"/><circle cx="184.8" cy="376.0" r="0.96" fill="#8668d8" stroke="#6a4cbc" stroke-width="0.3"/><circle cx="174.2" cy="375.3" r="0.87" fill="#8668d8" stroke="#6a4cbc" stroke-width="0.3"/><circle cx="161.2" cy="374.6" r="1.39" fill="#8668d8" stroke="#6a4cbc" stroke-width="0.3"/><circle cx="182.2" cy="376.2" r="0.84" fill="#8668d8" stroke="#6a4cbc" stroke-width="0.3"/><circle cx="165.8" cy="374.5" r="1.08" fill="#8668d8" stroke="#6a4cbc" stroke-width="0.3"/><circle cx="137.5" cy="374.9" r="0.94" fill="#8668d8" stroke="#6a4cbc" stroke-width="0.3"/><circle cx="145.9" cy="372.2" r="0.84" fill="#8668d8" stroke="#6a4cbc" stroke-width="0.3"/><circle cx="176.1" cy="373.7" r="0.93" fill="#8668d8" stroke="#6a4cbc" stroke-width="0.3"/><circle cx="195.1" cy="371.9" r="0.93" fill="#8668d8" stroke="#6a4cbc" stroke-width="0.3"/><circle cx="184.6" cy="374.3" r="0.76" fill="#8668d8" stroke="#6a4cbc" stroke-width="0.3"/><circle cx="123.5" cy="373.8" r="1.20" fill="#8668d8" stroke="#6a4cbc" stroke-width="0.3"/><circle cx="225.2" cy="379.3" r="0.90" fill="#8668d8" stroke="#6a4cbc" stroke-width="0.3"/><circle cx="317.2" cy="374.0" r="0.81" fill="#8668d8" stroke="#6a4cbc" stroke-width="0.3"/><circle cx="222.0" cy="375.6" r="0.76" fill="#8668d8" stroke="#6a4cbc" stroke-width="0.3"/><circle cx="257.0" cy="383.1" r="0.91" fill="#8668d8" stroke="#6a4cbc" stroke-width="0.3"/><circle cx="271.6" cy="379.2" r="1.02" fill="#8668d8" stroke="#6a4cbc" stroke-width="0.3"/><circle cx="307.4" cy="376.9" r="0.87" fill="#8668d8" stroke="#6a4cbc" stroke-width="0.3"/><circle cx="257.7" cy="372.5" r="0.71" fill="#8668d8" stroke="#6a4cbc" stroke-width="0.3"/><circle cx="256.1" cy="372.5" r="1.09" fill="#8668d8" stroke="#6a4cbc" stroke-width="0.3"/><circle cx="292.4" cy="364.5" r="1.00" fill="#8668d8" stroke="#6a4cbc" stroke-width="0.3"/><circle cx="202.6" cy="375.4" r="1.03" fill="#8668d8" stroke="#6a4cbc" stroke-width="0.3"/><circle cx="214.9" cy="379.4" r="0.89" fill="#8668d8" stroke="#6a4cbc" stroke-width="0.3"/><circle cx="271.3" cy="377.2" r="1.01" fill="#8668d8" stroke="#6a4cbc" stroke-width="0.3"/><circle cx="222.2" cy="370.1" r="1.08" fill="#8668d8" stroke="#6a4cbc" stroke-width="0.3"/><circle cx="326.4" cy="372.1" r="0.95" fill="#8668d8" stroke="#6a4cbc" stroke-width="0.3"/><circle cx="219.8" cy="375.5" r="1.06" fill="#8668d8" stroke="#6a4cbc" stroke-width="0.3"/><circle cx="338.1" cy="369.6" r="1.12" fill="#8668d8" stroke="#6a4cbc" stroke-width="0.3"/><circle cx="227.6" cy="375.8" r="1.17" fill="#8668d8" stroke="#6a4cbc" stroke-width="0.3"/><circle cx="287.8" cy="375.7" r="0.82" fill="#8668d8" stroke="#6a4cbc" stroke-width="0.3"/><circle cx="280.7" cy="376.8" r="1.05" fill="#8668d8" stroke="#6a4cbc" stroke-width="0.3"/><circle cx="246.1" cy="378.9" r="0.93" fill="#8668d8" stroke="#6a4cbc" stroke-width="0.3"/><circle cx="217.4" cy="375.1" r="1.19" fill="#8668d8" stroke="#6a4cbc" stroke-width="0.3"/><circle cx="219.0" cy="380.1" r="0.98" fill="#8668d8" stroke="#6a4cbc" stroke-width="0.3"/><circle cx="278.4" cy="372.6" r="0.83" fill="#8668d8" stroke="#6a4cbc" stroke-width="0.3"/><circle cx="327.3" cy="383.1" r="1.00" fill="#8668d8" stroke="#6a4cbc" stroke-width="0.3"/><circle cx="217.2" cy="376.3" r="1.11" fill="#8668d8" stroke="#6a4cbc" stroke-width="0.3"/><circle cx="240.4" cy="378.1" r="0.99" fill="#8668d8" stroke="#6a4cbc" stroke-width="0.3"/><circle cx="316.3" cy="373.6" r="0.79" fill="#8668d8" stroke="#6a4cbc" stroke-width="0.3"/><circle cx="276.7" cy="376.2" r="0.79" fill="#8668d8" stroke="#6a4cbc" stroke-width="0.3"/><circle cx="338.2" cy="376.4" r="1.17" fill="#8668d8" stroke="#6a4cbc" stroke-width="0.3"/><circle cx="292.2" cy="373.1" r="1.07" fill="#8668d8" stroke="#6a4cbc" stroke-width="0.3"/><circle cx="253.4" cy="380.8" r="1.00" fill="#8668d8" stroke="#6a4cbc" stroke-width="0.3"/><circle cx="312.5" cy="378.0" r="0.93" fill="#8668d8" stroke="#6a4cbc" stroke-width="0.3"/><circle cx="220.0" cy="376.7" r="0.89" fill="#8668d8" stroke="#6a4cbc" stroke-width="0.3"/><circle cx="279.7" cy="377.5" r="0.83" fill="#8668d8" stroke="#6a4cbc" stroke-width="0.3"/><circle cx="279.5" cy="379.5" r="0.87" fill="#8668d8" stroke="#6a4cbc" stroke-width="0.3"/><circle cx="57.0" cy="377.4" r="1.30" fill="#8668d8" stroke="#6a4cbc" stroke-width="0.3"/><circle cx="65.0" cy="377.0" r="1.30" fill="#8668d8" stroke="#6a4cbc" stroke-width="0.3"/><circle cx="89.0" cy="379.4" r="1.50" fill="#8668d8" stroke="#6a4cbc" stroke-width="0.3"/><circle cx="93.0" cy="374.0" r="1.10" fill="#8668d8" stroke="#6a4cbc" stroke-width="0.3"/><circle cx="101.0" cy="371.6" r="1.10" fill="#8668d8" stroke="#6a4cbc" stroke-width="0.3"/><circle cx="106.0" cy="371.6" r="1.10" fill="#8668d8" stroke="#6a4cbc" stroke-width="0.3"/><circle cx="111.6" cy="363.6" r="1.50" fill="#8668d8" stroke="#6a4cbc" stroke-width="0.3"/><circle cx="100.0" cy="389.0" r="1.10" fill="#8668d8" stroke="#6a4cbc" stroke-width="0.3"/><circle cx="98.0" cy="398.0" r="1.10" fill="#8668d8" stroke="#6a4cbc" stroke-width="0.3"/><circle cx="97.0" cy="383.0" r="1.10" fill="#8668d8" stroke="#6a4cbc" stroke-width="0.3"/><circle cx="118.0" cy="368.0" r="1.10" fill="#8668d8" stroke="#6a4cbc" stroke-width="0.3"/><circle cx="120.0" cy="371.0" r="1.10" fill="#8668d8" stroke="#6a4cbc" stroke-width="0.3"/><circle cx="171.0" cy="367.0" r="1.10" fill="#8668d8" stroke="#6a4cbc" stroke-width="0.3"/><circle cx="174.0" cy="371.0" r="1.10" fill="#8668d8" stroke="#6a4cbc" stroke-width="0.3"/><circle cx="189.0" cy="390.0" r="1.10" fill="#8668d8" stroke="#6a4cbc" stroke-width="0.3"/><circle cx="142.0" cy="386.0" r="1.10" fill="#8668d8" stroke="#6a4cbc" stroke-width="0.3"/><circle cx="160.0" cy="395.0" r="1.10" fill="#8668d8" stroke="#6a4cbc" stroke-width="0.3"/><circle cx="180.0" cy="387.0" r="1.10" fill="#8668d8" stroke="#6a4cbc" stroke-width="0.3"/><circle cx="205.0" cy="395.0" r="1.10" fill="#8668d8" stroke="#6a4cbc" stroke-width="0.3"/><circle cx="130.0" cy="384.0" r="1.10" fill="#8668d8" stroke="#6a4cbc" stroke-width="0.3"/><circle cx="148.0" cy="362.0" r="1.10" fill="#8668d8" stroke="#6a4cbc" stroke-width="0.3"/><circle cx="185.7" cy="382.4" r="0.77" fill="#d898e6" stroke="#b880cc" stroke-width="0.3"/><circle cx="198.4" cy="379.1" r="1.00" fill="#d898e6" stroke="#b880cc" stroke-width="0.3"/><circle cx="178.8" cy="372.8" r="1.04" fill="#d898e6" stroke="#b880cc" stroke-width="0.3"/><circle cx="190.3" cy="380.1" r="1.08" fill="#d898e6" stroke="#b880cc" stroke-width="0.3"/><circle cx="179.4" cy="383.6" r="1.13" fill="#d898e6" stroke="#b880cc" stroke-width="0.3"/><circle cx="176.4" cy="376.6" r="0.92" fill="#d898e6" stroke="#b880cc" stroke-width="0.3"/><circle cx="182.6" cy="380.7" r="0.96" fill="#d898e6" stroke="#b880cc" stroke-width="0.3"/><circle cx="177.3" cy="374.5" r="1.15" fill="#d898e6" stroke="#b880cc" stroke-width="0.3"/><circle cx="172.8" cy="381.9" r="1.15" fill="#d898e6" stroke="#b880cc" stroke-width="0.3"/><circle cx="189.3" cy="379.4" r="1.00" fill="#d898e6" stroke="#b880cc" stroke-width="0.3"/><circle cx="190.1" cy="375.9" r="0.73" fill="#d898e6" stroke="#b880cc" stroke-width="0.3"/><circle cx="165.0" cy="380.7" r="0.92" fill="#d898e6" stroke="#b880cc" stroke-width="0.3"/><circle cx="180.1" cy="376.1" r="1.05" fill="#d898e6" stroke="#b880cc" stroke-width="0.3"/><circle cx="181.0" cy="377.7" r="0.82" fill="#d898e6" stroke="#b880cc" stroke-width="0.3"/><circle cx="172.3" cy="374.6" r="0.73" fill="#d898e6" stroke="#b880cc" stroke-width="0.3"/><circle cx="196.5" cy="379.4" r="1.18" fill="#d898e6" stroke="#b880cc" stroke-width="0.3"/><circle cx="186.6" cy="379.8" r="1.10" fill="#d898e6" stroke="#b880cc" stroke-width="0.3"/><circle cx="168.9" cy="373.7" r="1.07" fill="#d898e6" stroke="#b880cc" stroke-width="0.3"/><circle cx="182.7" cy="378.4" r="1.10" fill="#d898e6" stroke="#b880cc" stroke-width="0.3"/><circle cx="165.0" cy="375.3" r="0.97" fill="#d898e6" stroke="#b880cc" stroke-width="0.3"/><circle cx="198.0" cy="380.5" r="0.85" fill="#d898e6" stroke="#b880cc" stroke-width="0.3"/><circle cx="173.0" cy="376.7" r="0.73" fill="#d898e6" stroke="#b880cc" stroke-width="0.3"/><circle cx="195.8" cy="379.2" r="0.88" fill="#d898e6" stroke="#b880cc" stroke-width="0.3"/><circle cx="183.4" cy="373.9" r="0.72" fill="#d898e6" stroke="#b880cc" stroke-width="0.3"/><circle cx="161.2" cy="378.5" r="0.95" fill="#d898e6" stroke="#b880cc" stroke-width="0.3"/><circle cx="197.4" cy="376.1" r="1.19" fill="#d898e6" stroke="#b880cc" stroke-width="0.3"/><circle cx="178.9" cy="377.7" r="1.16" fill="#d898e6" stroke="#b880cc" stroke-width="0.3"/><circle cx="195.9" cy="380.6" r="0.80" fill="#d898e6" stroke="#b880cc" stroke-width="0.3"/><circle cx="193.5" cy="375.3" r="0.79" fill="#d898e6" stroke="#b880cc" stroke-width="0.3"/><circle cx="195.2" cy="380.9" r="1.20" fill="#d898e6" stroke="#b880cc" stroke-width="0.3"/><circle cx="218.2" cy="378.3" r="1.13" fill="#d898e6" stroke="#b880cc" stroke-width="0.3"/><circle cx="204.5" cy="377.3" r="0.66" fill="#d898e6" stroke="#b880cc" stroke-width="0.3"/><circle cx="265.3" cy="380.3" r="1.12" fill="#d898e6" stroke="#b880cc" stroke-width="0.3"/><circle cx="264.2" cy="392.8" r="0.68" fill="#d898e6" stroke="#b880cc" stroke-width="0.3"/><circle cx="262.6" cy="388.5" r="0.65" fill="#d898e6" stroke="#b880cc" stroke-width="0.3"/><circle cx="220.1" cy="378.5" r="0.78" fill="#d898e6" stroke="#b880cc" stroke-width="0.3"/><circle cx="263.9" cy="384.9" r="0.74" fill="#d898e6" stroke="#b880cc" stroke-width="0.3"/><circle cx="259.8" cy="386.7" r="1.07" fill="#d898e6" stroke="#b880cc" stroke-width="0.3"/><circle cx="233.5" cy="376.4" r="0.95" fill="#d898e6" stroke="#b880cc" stroke-width="0.3"/><circle cx="220.6" cy="372.7" r="0.78" fill="#d898e6" stroke="#b880cc" stroke-width="0.3"/><circle cx="283.4" cy="382.4" r="0.98" fill="#d898e6" stroke="#b880cc" stroke-width="0.3"/><circle cx="208.1" cy="376.7" r="1.19" fill="#d898e6" stroke="#b880cc" stroke-width="0.3"/><circle cx="239.6" cy="376.5" r="0.63" fill="#d898e6" stroke="#b880cc" stroke-width="0.3"/><circle cx="254.0" cy="382.4" r="0.77" fill="#d898e6" stroke="#b880cc" stroke-width="0.3"/><circle cx="222.6" cy="381.1" r="0.77" fill="#d898e6" stroke="#b880cc" stroke-width="0.3"/><circle cx="268.0" cy="382.2" r="0.75" fill="#d898e6" stroke="#b880cc" stroke-width="0.3"/><circle cx="225.1" cy="378.0" r="1.14" fill="#d898e6" stroke="#b880cc" stroke-width="0.3"/><circle cx="288.9" cy="383.2" r="0.62" fill="#d898e6" stroke="#b880cc" stroke-width="0.3"/><circle cx="241.5" cy="382.2" r="1.16" fill="#d898e6" stroke="#b880cc" stroke-width="0.3"/><circle cx="245.0" cy="378.1" r="0.71" fill="#d898e6" stroke="#b880cc" stroke-width="0.3"/><circle cx="250.0" cy="380.4" r="0.99" fill="#d898e6" stroke="#b880cc" stroke-width="0.3"/><circle cx="270.5" cy="380.8" r="0.91" fill="#d898e6" stroke="#b880cc" stroke-width="0.3"/><circle cx="245.5" cy="386.4" r="0.91" fill="#d898e6" stroke="#b880cc" stroke-width="0.3"/><circle cx="285.6" cy="378.9" r="0.70" fill="#d898e6" stroke="#b880cc" stroke-width="0.3"/><circle cx="270.2" cy="387.0" r="0.74" fill="#d898e6" stroke="#b880cc" stroke-width="0.3"/><circle cx="239.6" cy="387.3" r="1.06" fill="#d898e6" stroke="#b880cc" stroke-width="0.3"/><circle cx="270.8" cy="384.8" r="0.89" fill="#d898e6" stroke="#b880cc" stroke-width="0.3"/><circle cx="219.9" cy="377.3" r="0.95" fill="#d898e6" stroke="#b880cc" stroke-width="0.3"/><circle cx="244.9" cy="388.4" r="1.03" fill="#d898e6" stroke="#b880cc" stroke-width="0.3"/><circle cx="251.5" cy="384.5" r="1.12" fill="#d898e6" stroke="#b880cc" stroke-width="0.3"/><circle cx="216.2" cy="380.5" r="0.90" fill="#d898e6" stroke="#b880cc" stroke-width="0.3"/><circle cx="239.1" cy="382.6" r="0.87" fill="#d898e6" stroke="#b880cc" stroke-width="0.3"/><circle cx="223.7" cy="381.1" r="1.14" fill="#d898e6" stroke="#b880cc" stroke-width="0.3"/><circle cx="251.2" cy="381.5" r="0.93" fill="#d898e6" stroke="#b880cc" stroke-width="0.3"/><circle cx="271.2" cy="384.2" r="0.79" fill="#d898e6" stroke="#b880cc" stroke-width="0.3"/><circle cx="203.8" cy="381.5" r="0.79" fill="#d898e6" stroke="#b880cc" stroke-width="0.3"/><circle cx="255.9" cy="380.1" r="0.95" fill="#d898e6" stroke="#b880cc" stroke-width="0.3"/><circle cx="208.0" cy="379.0" r="1.09" fill="#d898e6" stroke="#b880cc" stroke-width="0.3"/><circle cx="215.4" cy="380.0" r="1.01" fill="#d898e6" stroke="#b880cc" stroke-width="0.3"/><circle cx="274.8" cy="386.5" r="1.07" fill="#d898e6" stroke="#b880cc" stroke-width="0.3"/><circle cx="205.5" cy="376.1" r="0.73" fill="#d898e6" stroke="#b880cc" stroke-width="0.3"/><circle cx="287.3" cy="386.1" r="0.63" fill="#d898e6" stroke="#b880cc" stroke-width="0.3"/><circle cx="244.1" cy="383.3" r="0.69" fill="#d898e6" stroke="#b880cc" stroke-width="0.3"/><circle cx="241.0" cy="369.0" r="1.05" fill="#d898e6" stroke="#b880cc" stroke-width="0.3"/><circle cx="203.5" cy="379.7" r="0.68" fill="#d898e6" stroke="#b880cc" stroke-width="0.3"/><circle cx="235.4" cy="391.0" r="0.78" fill="#d898e6" stroke="#b880cc" stroke-width="0.3"/><circle cx="238.2" cy="382.9" r="1.20" fill="#d898e6" stroke="#b880cc" stroke-width="0.3"/><circle cx="268.7" cy="384.5" r="1.04" fill="#d898e6" stroke="#b880cc" stroke-width="0.3"/><circle cx="220.7" cy="380.3" r="0.75" fill="#d898e6" stroke="#b880cc" stroke-width="0.3"/><circle cx="241.5" cy="387.9" r="1.16" fill="#d898e6" stroke="#b880cc" stroke-width="0.3"/><circle cx="232.8" cy="374.7" r="0.97" fill="#d898e6" stroke="#b880cc" stroke-width="0.3"/><circle cx="203.6" cy="389.0" r="0.84" fill="#d898e6" stroke="#b880cc" stroke-width="0.3"/><circle cx="258.5" cy="387.7" r="1.02" fill="#d898e6" stroke="#b880cc" stroke-width="0.3"/><circle cx="277.8" cy="385.4" r="0.95" fill="#d898e6" stroke="#b880cc" stroke-width="0.3"/><circle cx="279.8" cy="379.9" r="1.11" fill="#d898e6" stroke="#b880cc" stroke-width="0.3"/><circle cx="234.3" cy="382.5" r="1.07" fill="#d898e6" stroke="#b880cc" stroke-width="0.3"/><circle cx="219.4" cy="378.7" r="0.93" fill="#d898e6" stroke="#b880cc" stroke-width="0.3"/><circle cx="214.7" cy="382.2" r="0.72" fill="#d898e6" stroke="#b880cc" stroke-width="0.3"/><circle cx="219.3" cy="376.7" r="0.87" fill="#d898e6" stroke="#b880cc" stroke-width="0.3"/><circle cx="289.4" cy="384.7" r="1.01" fill="#d898e6" stroke="#b880cc" stroke-width="0.3"/><circle cx="277.6" cy="385.2" r="0.64" fill="#d898e6" stroke="#b880cc" stroke-width="0.3"/><circle cx="262.2" cy="388.2" r="0.82" fill="#d898e6" stroke="#b880cc" stroke-width="0.3"/><circle cx="224.7" cy="383.4" r="0.76" fill="#d898e6" stroke="#b880cc" stroke-width="0.3"/><circle cx="235.4" cy="381.9" r="1.15" fill="#d898e6" stroke="#b880cc" stroke-width="0.3"/><circle cx="264.4" cy="383.5" r="0.69" fill="#d898e6" stroke="#b880cc" stroke-width="0.3"/><circle cx="284.3" cy="387.8" r="0.82" fill="#d898e6" stroke="#b880cc" stroke-width="0.3"/><circle cx="268.9" cy="382.4" r="0.61" fill="#d898e6" stroke="#b880cc" stroke-width="0.3"/><circle cx="229.0" cy="371.3" r="0.83" fill="#d898e6" stroke="#b880cc" stroke-width="0.3"/><circle cx="207.5" cy="382.2" r="1.06" fill="#d898e6" stroke="#b880cc" stroke-width="0.3"/><circle cx="246.7" cy="380.0" r="0.63" fill="#d898e6" stroke="#b880cc" stroke-width="0.3"/><circle cx="235.5" cy="381.6" r="0.69" fill="#d898e6" stroke="#b880cc" stroke-width="0.3"/><circle cx="253.6" cy="384.7" r="0.62" fill="#d898e6" stroke="#b880cc" stroke-width="0.3"/><circle cx="228.1" cy="375.9" r="0.68" fill="#d898e6" stroke="#b880cc" stroke-width="0.3"/><circle cx="263.6" cy="386.6" r="0.76" fill="#d898e6" stroke="#b880cc" stroke-width="0.3"/><circle cx="265.3" cy="382.7" r="0.72" fill="#d898e6" stroke="#b880cc" stroke-width="0.3"/><circle cx="225.2" cy="378.5" r="1.03" fill="#d898e6" stroke="#b880cc" stroke-width="0.3"/><circle cx="236.5" cy="374.8" r="0.74" fill="#d898e6" stroke="#b880cc" stroke-width="0.3"/><circle cx="226.3" cy="386.6" r="0.81" fill="#d898e6" stroke="#b880cc" stroke-width="0.3"/><circle cx="219.4" cy="381.2" r="0.98" fill="#d898e6" stroke="#b880cc" stroke-width="0.3"/><circle cx="250.9" cy="383.3" r="1.09" fill="#d898e6" stroke="#b880cc" stroke-width="0.3"/><circle cx="287.8" cy="382.2" r="1.15" fill="#d898e6" stroke="#b880cc" stroke-width="0.3"/><circle cx="219.5" cy="386.4" r="1.01" fill="#d898e6" stroke="#b880cc" stroke-width="0.3"/><circle cx="260.0" cy="392.7" r="0.74" fill="#d898e6" stroke="#b880cc" stroke-width="0.3"/><circle cx="256.9" cy="381.2" r="0.65" fill="#d898e6" stroke="#b880cc" stroke-width="0.3"/><circle cx="238.5" cy="380.6" r="0.83" fill="#d898e6" stroke="#b880cc" stroke-width="0.3"/><circle cx="229.5" cy="382.0" r="0.90" fill="#d898e6" stroke="#b880cc" stroke-width="0.3"/><circle cx="225.2" cy="383.1" r="0.89" fill="#d898e6" stroke="#b880cc" stroke-width="0.3"/><circle cx="215.0" cy="383.6" r="1.00" fill="#d898e6" stroke="#b880cc" stroke-width="0.3"/><circle cx="221.6" cy="383.8" r="0.85" fill="#d898e6" stroke="#b880cc" stroke-width="0.3"/><circle cx="213.6" cy="382.0" r="0.95" fill="#d898e6" stroke="#b880cc" stroke-width="0.3"/><circle cx="263.1" cy="377.5" r="0.61" fill="#d898e6" stroke="#b880cc" stroke-width="0.3"/><circle cx="235.2" cy="379.2" r="0.82" fill="#d898e6" stroke="#b880cc" stroke-width="0.3"/><circle cx="205.7" cy="378.2" r="0.90" fill="#d898e6" stroke="#b880cc" stroke-width="0.3"/><circle cx="252.7" cy="384.1" r="0.88" fill="#d898e6" stroke="#b880cc" stroke-width="0.3"/><circle cx="229.3" cy="380.9" r="0.81" fill="#d898e6" stroke="#b880cc" stroke-width="0.3"/><circle cx="280.3" cy="384.9" r="0.94" fill="#d898e6" stroke="#b880cc" stroke-width="0.3"/><circle cx="223.6" cy="379.2" r="0.88" fill="#d898e6" stroke="#b880cc" stroke-width="0.3"/><circle cx="255.4" cy="381.0" r="1.17" fill="#d898e6" stroke="#b880cc" stroke-width="0.3"/><circle cx="232.6" cy="371.7" r="1.06" fill="#d898e6" stroke="#b880cc" stroke-width="0.3"/><circle cx="256.5" cy="378.7" r="0.97" fill="#d898e6" stroke="#b880cc" stroke-width="0.3"/><circle cx="237.0" cy="378.6" r="1.10" fill="#d898e6" stroke="#b880cc" stroke-width="0.3"/><circle cx="279.2" cy="385.7" r="0.83" fill="#d898e6" stroke="#b880cc" stroke-width="0.3"/><circle cx="281.9" cy="386.2" r="0.90" fill="#d898e6" stroke="#b880cc" stroke-width="0.3"/><circle cx="227.8" cy="381.4" r="0.82" fill="#d898e6" stroke="#b880cc" stroke-width="0.3"/><circle cx="287.9" cy="385.6" r="0.74" fill="#d898e6" stroke="#b880cc" stroke-width="0.3"/><circle cx="261.2" cy="386.4" r="0.74" fill="#d898e6" stroke="#b880cc" stroke-width="0.3"/><circle cx="200.1" cy="375.2" r="0.74" fill="#d898e6" stroke="#b880cc" stroke-width="0.3"/><circle cx="244.4" cy="381.2" r="0.99" fill="#d898e6" stroke="#b880cc" stroke-width="0.3"/><circle cx="249.3" cy="378.8" r="1.10" fill="#d898e6" stroke="#b880cc" stroke-width="0.3"/><circle cx="287.2" cy="380.3" r="0.80" fill="#d898e6" stroke="#b880cc" stroke-width="0.3"/><circle cx="231.2" cy="384.1" r="1.03" fill="#d898e6" stroke="#b880cc" stroke-width="0.3"/><circle cx="262.6" cy="381.5" r="1.01" fill="#d898e6" stroke="#b880cc" stroke-width="0.3"/><circle cx="286.8" cy="385.1" r="0.97" fill="#d898e6" stroke="#b880cc" stroke-width="0.3"/><circle cx="244.2" cy="380.0" r="0.94" fill="#d898e6" stroke="#b880cc" stroke-width="0.3"/><circle cx="233.3" cy="379.7" r="0.92" fill="#d898e6" stroke="#b880cc" stroke-width="0.3"/><circle cx="221.3" cy="387.5" r="0.75" fill="#d898e6" stroke="#b880cc" stroke-width="0.3"/><circle cx="229.2" cy="383.3" r="0.68" fill="#d898e6" stroke="#b880cc" stroke-width="0.3"/><circle cx="205.7" cy="383.8" r="0.64" fill="#d898e6" stroke="#b880cc" stroke-width="0.3"/><circle cx="209.2" cy="379.0" r="0.87" fill="#d898e6" stroke="#b880cc" stroke-width="0.3"/><circle cx="269.5" cy="382.0" r="0.89" fill="#d898e6" stroke="#b880cc" stroke-width="0.3"/><circle cx="214.6" cy="385.7" r="0.63" fill="#d898e6" stroke="#b880cc" stroke-width="0.3"/><circle cx="222.9" cy="373.9" r="0.90" fill="#d898e6" stroke="#b880cc" stroke-width="0.3"/><circle cx="271.7" cy="378.7" r="0.75" fill="#d898e6" stroke="#b880cc" stroke-width="0.3"/><circle cx="264.4" cy="388.4" r="0.80" fill="#d898e6" stroke="#b880cc" stroke-width="0.3"/><circle cx="230.0" cy="381.5" r="1.10" fill="#d898e6" stroke="#b880cc" stroke-width="0.3"/><circle cx="251.1" cy="374.5" r="0.85" fill="#d898e6" stroke="#b880cc" stroke-width="0.3"/><circle cx="263.6" cy="378.0" r="1.08" fill="#d898e6" stroke="#b880cc" stroke-width="0.3"/><circle cx="211.3" cy="374.2" r="0.83" fill="#d898e6" stroke="#b880cc" stroke-width="0.3"/><circle cx="260.2" cy="384.3" r="0.61" fill="#d898e6" stroke="#b880cc" stroke-width="0.3"/><circle cx="252.7" cy="386.1" r="1.16" fill="#d898e6" stroke="#b880cc" stroke-width="0.3"/><circle cx="287.3" cy="388.1" r="0.85" fill="#d898e6" stroke="#b880cc" stroke-width="0.3"/><circle cx="256.8" cy="388.8" r="0.84" fill="#d898e6" stroke="#b880cc" stroke-width="0.3"/><circle cx="284.0" cy="385.3" r="1.03" fill="#d898e6" stroke="#b880cc" stroke-width="0.3"/><circle cx="210.7" cy="379.6" r="0.63" fill="#d898e6" stroke="#b880cc" stroke-width="0.3"/><circle cx="225.7" cy="379.1" r="0.67" fill="#d898e6" stroke="#b880cc" stroke-width="0.3"/><circle cx="229.7" cy="366.8" r="0.62" fill="#d898e6" stroke="#b880cc" stroke-width="0.3"/><circle cx="248.8" cy="378.6" r="0.79" fill="#d898e6" stroke="#b880cc" stroke-width="0.3"/><circle cx="272.0" cy="384.4" r="1.10" fill="#d898e6" stroke="#b880cc" stroke-width="0.3"/><circle cx="225.5" cy="375.9" r="1.06" fill="#d898e6" stroke="#b880cc" stroke-width="0.3"/><circle cx="288.3" cy="387.5" r="0.83" fill="#d898e6" stroke="#b880cc" stroke-width="0.3"/><circle cx="262.5" cy="376.3" r="0.69" fill="#d898e6" stroke="#b880cc" stroke-width="0.3"/><circle cx="215.8" cy="377.9" r="0.66" fill="#d898e6" stroke="#b880cc" stroke-width="0.3"/><circle cx="284.0" cy="384.0" r="0.67" fill="#d898e6" stroke="#b880cc" stroke-width="0.3"/><circle cx="229.1" cy="386.1" r="0.61" fill="#d898e6" stroke="#b880cc" stroke-width="0.3"/><circle cx="250.9" cy="387.0" r="0.76" fill="#d898e6" stroke="#b880cc" stroke-width="0.3"/><circle cx="220.5" cy="385.1" r="0.89" fill="#d898e6" stroke="#b880cc" stroke-width="0.3"/><circle cx="232.9" cy="381.2" r="0.64" fill="#d898e6" stroke="#b880cc" stroke-width="0.3"/><circle cx="280.3" cy="385.3" r="0.79" fill="#d898e6" stroke="#b880cc" stroke-width="0.3"/><circle cx="207.1" cy="381.4" r="1.20" fill="#d898e6" stroke="#b880cc" stroke-width="0.3"/><circle cx="218.2" cy="384.7" r="1.12" fill="#d898e6" stroke="#b880cc" stroke-width="0.3"/><circle cx="243.6" cy="375.3" r="0.84" fill="#d898e6" stroke="#b880cc" stroke-width="0.3"/><circle cx="205.2" cy="383.1" r="0.93" fill="#d898e6" stroke="#b880cc" stroke-width="0.3"/><circle cx="259.1" cy="381.3" r="1.16" fill="#d898e6" stroke="#b880cc" stroke-width="0.3"/><circle cx="277.8" cy="381.6" r="1.20" fill="#d898e6" stroke="#b880cc" stroke-width="0.3"/><circle cx="239.9" cy="385.6" r="0.71" fill="#d898e6" stroke="#b880cc" stroke-width="0.3"/><circle cx="202.4" cy="373.5" r="0.70" fill="#d898e6" stroke="#b880cc" stroke-width="0.3"/><circle cx="210.7" cy="383.2" r="1.05" fill="#d898e6" stroke="#b880cc" stroke-width="0.3"/><circle cx="227.9" cy="382.8" r="0.91" fill="#d898e6" stroke="#b880cc" stroke-width="0.3"/><circle cx="200.9" cy="381.6" r="0.61" fill="#d898e6" stroke="#b880cc" stroke-width="0.3"/><circle cx="247.5" cy="393.8" r="1.09" fill="#d898e6" stroke="#b880cc" stroke-width="0.3"/><circle cx="271.3" cy="383.6" r="1.08" fill="#d898e6" stroke="#b880cc" stroke-width="0.3"/><circle cx="274.5" cy="379.7" r="1.06" fill="#d898e6" stroke="#b880cc" stroke-width="0.3"/><circle cx="288.7" cy="391.9" r="0.84" fill="#d898e6" stroke="#b880cc" stroke-width="0.3"/><circle cx="263.5" cy="390.4" r="0.75" fill="#d898e6" stroke="#b880cc" stroke-width="0.3"/><circle cx="281.9" cy="389.4" r="0.74" fill="#d898e6" stroke="#b880cc" stroke-width="0.3"/><circle cx="235.0" cy="382.4" r="0.82" fill="#d898e6" stroke="#b880cc" stroke-width="0.3"/><circle cx="259.1" cy="385.5" r="0.98" fill="#d898e6" stroke="#b880cc" stroke-width="0.3"/><circle cx="231.9" cy="377.2" r="0.77" fill="#d898e6" stroke="#b880cc" stroke-width="0.3"/><circle cx="281.5" cy="383.2" r="0.80" fill="#d898e6" stroke="#b880cc" stroke-width="0.3"/><circle cx="266.7" cy="385.8" r="0.73" fill="#d898e6" stroke="#b880cc" stroke-width="0.3"/><circle cx="266.9" cy="377.7" r="0.71" fill="#d898e6" stroke="#b880cc" stroke-width="0.3"/><circle cx="209.5" cy="377.8" r="0.69" fill="#d898e6" stroke="#b880cc" stroke-width="0.3"/><circle cx="231.5" cy="380.6" r="0.90" fill="#d898e6" stroke="#b880cc" stroke-width="0.3"/><circle cx="236.3" cy="381.9" r="0.79" fill="#d898e6" stroke="#b880cc" stroke-width="0.3"/><circle cx="248.3" cy="385.7" r="1.13" fill="#d898e6" stroke="#b880cc" stroke-width="0.3"/><circle cx="228.9" cy="380.0" r="1.05" fill="#d898e6" stroke="#b880cc" stroke-width="0.3"/><circle cx="209.8" cy="384.1" r="1.18" fill="#d898e6" stroke="#b880cc" stroke-width="0.3"/><circle cx="219.8" cy="380.0" r="0.84" fill="#d898e6" stroke="#b880cc" stroke-width="0.3"/><circle cx="263.5" cy="385.6" r="1.01" fill="#d898e6" stroke="#b880cc" stroke-width="0.3"/><circle cx="285.3" cy="386.9" r="0.79" fill="#d898e6" stroke="#b880cc" stroke-width="0.3"/><circle cx="216.5" cy="372.1" r="0.69" fill="#d898e6" stroke="#b880cc" stroke-width="0.3"/><circle cx="257.1" cy="394.3" r="0.83" fill="#d898e6" stroke="#b880cc" stroke-width="0.3"/><circle cx="257.9" cy="385.3" r="1.13" fill="#d898e6" stroke="#b880cc" stroke-width="0.3"/><circle cx="277.1" cy="389.7" r="0.98" fill="#d898e6" stroke="#b880cc" stroke-width="0.3"/><circle cx="245.4" cy="380.5" r="1.10" fill="#d898e6" stroke="#b880cc" stroke-width="0.3"/><circle cx="262.1" cy="383.1" r="0.87" fill="#d898e6" stroke="#b880cc" stroke-width="0.3"/><circle cx="259.9" cy="380.1" r="0.74" fill="#d898e6" stroke="#b880cc" stroke-width="0.3"/><circle cx="254.1" cy="385.6" r="0.94" fill="#d898e6" stroke="#b880cc" stroke-width="0.3"/><circle cx="246.4" cy="388.8" r="0.87" fill="#d898e6" stroke="#b880cc" stroke-width="0.3"/><circle cx="253.4" cy="384.6" r="0.96" fill="#d898e6" stroke="#b880cc" stroke-width="0.3"/><circle cx="341.2" cy="378.9" r="1.20" fill="#d898e6" stroke="#b880cc" stroke-width="0.3"/><circle cx="330.6" cy="381.0" r="0.86" fill="#d898e6" stroke="#b880cc" stroke-width="0.3"/><circle cx="330.5" cy="381.4" r="1.13" fill="#d898e6" stroke="#b880cc" stroke-width="0.3"/><circle cx="297.0" cy="380.1" r="1.20" fill="#d898e6" stroke="#b880cc" stroke-width="0.3"/><circle cx="317.0" cy="379.3" r="1.02" fill="#d898e6" stroke="#b880cc" stroke-width="0.3"/><circle cx="341.6" cy="383.9" r="1.11" fill="#d898e6" stroke="#b880cc" stroke-width="0.3"/><circle cx="333.9" cy="364.3" r="0.73" fill="#d898e6" stroke="#b880cc" stroke-width="0.3"/><circle cx="337.9" cy="375.7" r="1.06" fill="#d898e6" stroke="#b880cc" stroke-width="0.3"/><circle cx="303.8" cy="381.3" r="0.97" fill="#d898e6" stroke="#b880cc" stroke-width="0.3"/><circle cx="337.6" cy="372.6" r="0.80" fill="#d898e6" stroke="#b880cc" stroke-width="0.3"/><circle cx="305.4" cy="378.6" r="0.98" fill="#d898e6" stroke="#b880cc" stroke-width="0.3"/><circle cx="333.3" cy="375.8" r="0.95" fill="#d898e6" stroke="#b880cc" stroke-width="0.3"/><circle cx="303.3" cy="382.2" r="1.09" fill="#d898e6" stroke="#b880cc" stroke-width="0.3"/><circle cx="320.2" cy="370.8" r="1.15" fill="#d898e6" stroke="#b880cc" stroke-width="0.3"/><circle cx="333.8" cy="379.2" r="0.75" fill="#d898e6" stroke="#b880cc" stroke-width="0.3"/><circle cx="292.0" cy="383.9" r="0.87" fill="#d898e6" stroke="#b880cc" stroke-width="0.3"/><circle cx="337.6" cy="377.7" r="0.79" fill="#d898e6" stroke="#b880cc" stroke-width="0.3"/><circle cx="311.4" cy="377.3" r="1.12" fill="#d898e6" stroke="#b880cc" stroke-width="0.3"/><circle cx="323.9" cy="379.2" r="1.19" fill="#d898e6" stroke="#b880cc" stroke-width="0.3"/><circle cx="301.4" cy="379.1" r="1.01" fill="#d898e6" stroke="#b880cc" stroke-width="0.3"/><circle cx="338.2" cy="376.2" r="1.03" fill="#d898e6" stroke="#b880cc" stroke-width="0.3"/><circle cx="313.7" cy="376.2" r="0.71" fill="#d898e6" stroke="#b880cc" stroke-width="0.3"/><circle cx="308.7" cy="377.1" r="0.84" fill="#d898e6" stroke="#b880cc" stroke-width="0.3"/><circle cx="323.2" cy="383.2" r="1.05" fill="#d898e6" stroke="#b880cc" stroke-width="0.3"/><circle cx="299.9" cy="384.4" r="0.93" fill="#d898e6" stroke="#b880cc" stroke-width="0.3"/><circle cx="297.1" cy="384.8" r="0.76" fill="#d898e6" stroke="#b880cc" stroke-width="0.3"/><circle cx="341.8" cy="373.4" r="0.80" fill="#d898e6" stroke="#b880cc" stroke-width="0.3"/><circle cx="344.7" cy="373.6" r="1.05" fill="#d898e6" stroke="#b880cc" stroke-width="0.3"/><circle cx="330.5" cy="375.1" r="0.90" fill="#d898e6" stroke="#b880cc" stroke-width="0.3"/><circle cx="298.0" cy="382.9" r="1.02" fill="#d898e6" stroke="#b880cc" stroke-width="0.3"/><circle cx="313.4" cy="380.6" r="0.93" fill="#d898e6" stroke="#b880cc" stroke-width="0.3"/><circle cx="317.9" cy="374.8" r="1.17" fill="#d898e6" stroke="#b880cc" stroke-width="0.3"/><circle cx="309.0" cy="378.4" r="0.99" fill="#d898e6" stroke="#b880cc" stroke-width="0.3"/><circle cx="305.7" cy="376.8" r="1.14" fill="#d898e6" stroke="#b880cc" stroke-width="0.3"/><circle cx="305.8" cy="383.2" r="0.93" fill="#d898e6" stroke="#b880cc" stroke-width="0.3"/><circle cx="341.4" cy="371.6" r="0.89" fill="#d898e6" stroke="#b880cc" stroke-width="0.3"/><circle cx="330.9" cy="373.8" r="0.73" fill="#d898e6" stroke="#b880cc" stroke-width="0.3"/><circle cx="313.1" cy="376.3" r="0.84" fill="#d898e6" stroke="#b880cc" stroke-width="0.3"/><circle cx="314.2" cy="382.0" r="1.05" fill="#d898e6" stroke="#b880cc" stroke-width="0.3"/><circle cx="327.0" cy="376.7" r="0.82" fill="#d898e6" stroke="#b880cc" stroke-width="0.3"/><circle cx="212.0" cy="364.0" r="1.20" fill="#d898e6" stroke="#b880cc" stroke-width="0.3"/><circle cx="218.0" cy="366.0" r="1.20" fill="#d898e6" stroke="#b880cc" stroke-width="0.3"/><circle cx="226.0" cy="362.0" r="1.20" fill="#d898e6" stroke="#b880cc" stroke-width="0.3"/><circle cx="250.0" cy="370.0" r="1.20" fill="#d898e6" stroke="#b880cc" stroke-width="0.3"/><circle cx="265.0" cy="370.0" r="1.20" fill="#d898e6" stroke="#b880cc" stroke-width="0.3"/><circle cx="275.0" cy="372.0" r="1.20" fill="#d898e6" stroke="#b880cc" stroke-width="0.3"/><circle cx="203.0" cy="366.0" r="1.20" fill="#d898e6" stroke="#b880cc" stroke-width="0.3"/><circle cx="211.0" cy="364.4" r="1.20" fill="#d898e6" stroke="#b880cc" stroke-width="0.3"/><circle cx="193.0" cy="369.0" r="1.20" fill="#d898e6" stroke="#b880cc" stroke-width="0.3"/><circle cx="184.0" cy="368.0" r="1.20" fill="#d898e6" stroke="#b880cc" stroke-width="0.3"/><circle cx="294.0" cy="376.0" r="2.10" fill="#d898e6" stroke="#b880cc" stroke-width="0.3"/><circle cx="297.0" cy="377.0" r="1.80" fill="#d898e6" stroke="#b880cc" stroke-width="0.3"/><circle cx="291.0" cy="378.0" r="1.60" fill="#d898e6" stroke="#b880cc" stroke-width="0.3"/><circle cx="268.0" cy="393.0" r="2.00" fill="#d898e6" stroke="#b880cc" stroke-width="0.3"/><circle cx="262.0" cy="392.0" r="1.60" fill="#d898e6" stroke="#b880cc" stroke-width="0.3"/><circle cx="258.0" cy="392.0" r="1.60" fill="#d898e6" stroke="#b880cc" stroke-width="0.3"/><circle cx="227.0" cy="373.0" r="1.80" fill="#d898e6" stroke="#b880cc" stroke-width="0.3"/><circle cx="233.0" cy="374.0" r="1.60" fill="#d898e6" stroke="#b880cc" stroke-width="0.3"/><circle cx="289.0" cy="371.0" r="1.20" fill="#d898e6" stroke="#b880cc" stroke-width="0.3"/><circle cx="305.0" cy="372.0" r="1.20" fill="#d898e6" stroke="#b880cc" stroke-width="0.3"/><circle cx="325.0" cy="374.0" r="1.20" fill="#d898e6" stroke="#b880cc" stroke-width="0.3"/><circle cx="330.0" cy="378.0" r="1.20" fill="#d898e6" stroke="#b880cc" stroke-width="0.3"/><circle cx="320.0" cy="382.0" r="1.50" fill="#d898e6" stroke="#b880cc" stroke-width="0.3"/><circle cx="335.0" cy="380.0" r="1.20" fill="#d898e6" stroke="#b880cc" stroke-width="0.3"/><circle cx="256.0" cy="379.0" r="1.80" fill="#d898e6" stroke="#b880cc" stroke-width="0.3"/><circle cx="244.0" cy="384.0" r="1.60" fill="#d898e6" stroke="#b880cc" stroke-width="0.3"/><circle cx="203.5" cy="416.2" r="0.73" fill="#eeae84" stroke="#d09070" stroke-width="0.3"/><circle cx="204.7" cy="417.4" r="0.77" fill="#eeae84" stroke="#d09070" stroke-width="0.3"/><circle cx="256.7" cy="419.9" r="0.87" fill="#eeae84" stroke="#d09070" stroke-width="0.3"/><circle cx="162.9" cy="396.7" r="1.05" fill="#eeae84" stroke="#d09070" stroke-width="0.3"/><circle cx="161.5" cy="399.8" r="0.96" fill="#eeae84" stroke="#d09070" stroke-width="0.3"/><circle cx="237.0" cy="416.3" r="0.77" fill="#eeae84" stroke="#d09070" stroke-width="0.3"/><circle cx="266.7" cy="417.9" r="0.92" fill="#eeae84" stroke="#d09070" stroke-width="0.3"/><circle cx="211.0" cy="406.8" r="0.78" fill="#eeae84" stroke="#d09070" stroke-width="0.3"/><circle cx="210.4" cy="403.0" r="0.90" fill="#eeae84" stroke="#d09070" stroke-width="0.3"/><circle cx="276.2" cy="426.6" r="1.09" fill="#eeae84" stroke="#d09070" stroke-width="0.3"/><circle cx="279.0" cy="409.9" r="0.92" fill="#eeae84" stroke="#d09070" stroke-width="0.3"/><circle cx="241.1" cy="419.8" r="1.10" fill="#eeae84" stroke="#d09070" stroke-width="0.3"/><circle cx="158.7" cy="397.3" r="0.93" fill="#eeae84" stroke="#d09070" stroke-width="0.3"/><circle cx="178.3" cy="406.3" r="1.09" fill="#eeae84" stroke="#d09070" stroke-width="0.3"/><circle cx="177.2" cy="401.9" r="0.80" fill="#eeae84" stroke="#d09070" stroke-width="0.3"/><circle cx="246.4" cy="415.7" r="0.64" fill="#eeae84" stroke="#d09070" stroke-width="0.3"/><circle cx="171.7" cy="398.7" r="0.97" fill="#eeae84" stroke="#d09070" stroke-width="0.3"/><circle cx="182.9" cy="396.9" r="1.01" fill="#eeae84" stroke="#d09070" stroke-width="0.3"/><circle cx="245.0" cy="413.3" r="0.83" fill="#eeae84" stroke="#d09070" stroke-width="0.3"/><circle cx="152.1" cy="400.6" r="1.03" fill="#eeae84" stroke="#d09070" stroke-width="0.3"/><circle cx="272.8" cy="418.8" r="0.78" fill="#eeae84" stroke="#d09070" stroke-width="0.3"/><circle cx="219.7" cy="407.6" r="0.87" fill="#eeae84" stroke="#d09070" stroke-width="0.3"/><circle cx="164.5" cy="405.8" r="0.85" fill="#eeae84" stroke="#d09070" stroke-width="0.3"/><circle cx="166.2" cy="398.6" r="0.88" fill="#eeae84" stroke="#d09070" stroke-width="0.3"/><circle cx="166.9" cy="411.5" r="0.75" fill="#eeae84" stroke="#d09070" stroke-width="0.3"/><circle cx="251.1" cy="417.9" r="0.72" fill="#eeae84" stroke="#d09070" stroke-width="0.3"/><circle cx="203.8" cy="410.9" r="0.83" fill="#eeae84" stroke="#d09070" stroke-width="0.3"/><circle cx="222.6" cy="410.6" r="0.83" fill="#eeae84" stroke="#d09070" stroke-width="0.3"/><circle cx="260.6" cy="425.4" r="0.68" fill="#eeae84" stroke="#d09070" stroke-width="0.3"/><circle cx="276.1" cy="425.5" r="0.86" fill="#eeae84" stroke="#d09070" stroke-width="0.3"/><circle cx="202.8" cy="395.5" r="1.08" fill="#eeae84" stroke="#d09070" stroke-width="0.3"/><circle cx="203.7" cy="397.2" r="0.61" fill="#eeae84" stroke="#d09070" stroke-width="0.3"/><circle cx="170.0" cy="409.2" r="0.96" fill="#eeae84" stroke="#d09070" stroke-width="0.3"/><circle cx="170.4" cy="394.1" r="0.87" fill="#eeae84" stroke="#d09070" stroke-width="0.3"/><circle cx="153.7" cy="408.6" r="1.08" fill="#eeae84" stroke="#d09070" stroke-width="0.3"/><circle cx="233.6" cy="414.4" r="1.02" fill="#eeae84" stroke="#d09070" stroke-width="0.3"/><circle cx="156.0" cy="401.7" r="0.73" fill="#eeae84" stroke="#d09070" stroke-width="0.3"/><circle cx="164.5" cy="405.7" r="1.06" fill="#eeae84" stroke="#d09070" stroke-width="0.3"/><circle cx="192.7" cy="394.8" r="1.04" fill="#eeae84" stroke="#d09070" stroke-width="0.3"/><circle cx="273.0" cy="418.4" r="0.88" fill="#eeae84" stroke="#d09070" stroke-width="0.3"/><circle cx="215.1" cy="413.6" r="0.75" fill="#eeae84" stroke="#d09070" stroke-width="0.3"/><circle cx="246.1" cy="409.1" r="0.73" fill="#eeae84" stroke="#d09070" stroke-width="0.3"/><circle cx="197.8" cy="398.2" r="0.78" fill="#eeae84" stroke="#d09070" stroke-width="0.3"/><circle cx="206.0" cy="410.0" r="0.83" fill="#eeae84" stroke="#d09070" stroke-width="0.3"/><circle cx="156.4" cy="405.4" r="0.86" fill="#eeae84" stroke="#d09070" stroke-width="0.3"/><circle cx="221.2" cy="406.6" r="0.80" fill="#eeae84" stroke="#d09070" stroke-width="0.3"/><circle cx="178.9" cy="410.1" r="0.76" fill="#eeae84" stroke="#d09070" stroke-width="0.3"/><circle cx="212.9" cy="411.5" r="0.72" fill="#eeae84" stroke="#d09070" stroke-width="0.3"/><circle cx="247.4" cy="412.2" r="0.80" fill="#eeae84" stroke="#d09070" stroke-width="0.3"/><circle cx="275.6" cy="418.3" r="0.60" fill="#eeae84" stroke="#d09070" stroke-width="0.3"/><circle cx="227.1" cy="416.1" r="0.90" fill="#eeae84" stroke="#d09070" stroke-width="0.3"/><circle cx="198.0" cy="403.8" r="0.75" fill="#eeae84" stroke="#d09070" stroke-width="0.3"/><circle cx="229.2" cy="404.7" r="0.85" fill="#eeae84" stroke="#d09070" stroke-width="0.3"/><circle cx="217.1" cy="404.9" r="0.98" fill="#eeae84" stroke="#d09070" stroke-width="0.3"/><circle cx="156.9" cy="408.6" r="0.74" fill="#eeae84" stroke="#d09070" stroke-width="0.3"/><circle cx="253.4" cy="417.0" r="0.81" fill="#eeae84" stroke="#d09070" stroke-width="0.3"/><circle cx="261.8" cy="411.5" r="0.94" fill="#eeae84" stroke="#d09070" stroke-width="0.3"/><circle cx="161.1" cy="407.6" r="1.09" fill="#eeae84" stroke="#d09070" stroke-width="0.3"/><circle cx="258.1" cy="412.4" r="1.01" fill="#eeae84" stroke="#d09070" stroke-width="0.3"/><circle cx="252.5" cy="419.1" r="0.92" fill="#eeae84" stroke="#d09070" stroke-width="0.3"/><circle cx="157.4" cy="404.4" r="0.91" fill="#eeae84" stroke="#d09070" stroke-width="0.3"/><circle cx="221.8" cy="406.6" r="1.06" fill="#eeae84" stroke="#d09070" stroke-width="0.3"/><circle cx="233.0" cy="426.6" r="0.98" fill="#eeae84" stroke="#d09070" stroke-width="0.3"/><circle cx="225.4" cy="411.6" r="0.60" fill="#eeae84" stroke="#d09070" stroke-width="0.3"/><circle cx="245.8" cy="404.1" r="1.09" fill="#eeae84" stroke="#d09070" stroke-width="0.3"/><circle cx="269.2" cy="421.7" r="0.64" fill="#eeae84" stroke="#d09070" stroke-width="0.3"/><circle cx="251.6" cy="403.7" r="0.79" fill="#eeae84" stroke="#d09070" stroke-width="0.3"/><circle cx="208.2" cy="411.2" r="0.82" fill="#eeae84" stroke="#d09070" stroke-width="0.3"/><circle cx="165.3" cy="399.5" r="0.64" fill="#eeae84" stroke="#d09070" stroke-width="0.3"/><circle cx="165.1" cy="414.7" r="1.02" fill="#eeae84" stroke="#d09070" stroke-width="0.3"/><circle cx="236.6" cy="408.0" r="0.66" fill="#eeae84" stroke="#d09070" stroke-width="0.3"/><circle cx="190.3" cy="403.9" r="1.08" fill="#eeae84" stroke="#d09070" stroke-width="0.3"/><circle cx="222.8" cy="413.2" r="0.81" fill="#eeae84" stroke="#d09070" stroke-width="0.3"/><circle cx="219.7" cy="406.3" r="1.02" fill="#eeae84" stroke="#d09070" stroke-width="0.3"/><circle cx="166.0" cy="409.9" r="0.62" fill="#eeae84" stroke="#d09070" stroke-width="0.3"/><circle cx="206.2" cy="401.0" r="0.79" fill="#eeae84" stroke="#d09070" stroke-width="0.3"/><circle cx="237.7" cy="418.6" r="0.94" fill="#eeae84" stroke="#d09070" stroke-width="0.3"/><circle cx="200.4" cy="402.2" r="0.99" fill="#eeae84" stroke="#d09070" stroke-width="0.3"/><circle cx="163.7" cy="404.1" r="0.89" fill="#eeae84" stroke="#d09070" stroke-width="0.3"/><circle cx="176.3" cy="400.4" r="0.77" fill="#eeae84" stroke="#d09070" stroke-width="0.3"/><circle cx="171.3" cy="399.0" r="0.86" fill="#eeae84" stroke="#d09070" stroke-width="0.3"/><circle cx="200.5" cy="413.4" r="0.89" fill="#eeae84" stroke="#d09070" stroke-width="0.3"/><circle cx="259.5" cy="410.0" r="0.84" fill="#eeae84" stroke="#d09070" stroke-width="0.3"/><circle cx="277.5" cy="424.8" r="0.76" fill="#eeae84" stroke="#d09070" stroke-width="0.3"/><circle cx="240.7" cy="412.5" r="0.97" fill="#eeae84" stroke="#d09070" stroke-width="0.3"/><circle cx="224.7" cy="414.7" r="0.73" fill="#eeae84" stroke="#d09070" stroke-width="0.3"/><circle cx="158.3" cy="407.3" r="0.96" fill="#eeae84" stroke="#d09070" stroke-width="0.3"/><circle cx="206.3" cy="400.5" r="0.91" fill="#eeae84" stroke="#d09070" stroke-width="0.3"/><circle cx="222.7" cy="424.1" r="0.83" fill="#eeae84" stroke="#d09070" stroke-width="0.3"/><circle cx="213.3" cy="405.3" r="0.72" fill="#eeae84" stroke="#d09070" stroke-width="0.3"/><circle cx="247.9" cy="417.8" r="1.02" fill="#eeae84" stroke="#d09070" stroke-width="0.3"/><circle cx="154.6" cy="407.7" r="0.95" fill="#eeae84" stroke="#d09070" stroke-width="0.3"/><circle cx="223.9" cy="403.1" r="0.68" fill="#eeae84" stroke="#d09070" stroke-width="0.3"/><circle cx="273.6" cy="416.1" r="0.98" fill="#eeae84" stroke="#d09070" stroke-width="0.3"/><circle cx="254.7" cy="423.8" r="0.71" fill="#eeae84" stroke="#d09070" stroke-width="0.3"/><circle cx="175.9" cy="411.6" r="0.87" fill="#eeae84" stroke="#d09070" stroke-width="0.3"/><circle cx="229.3" cy="418.5" r="0.89" fill="#eeae84" stroke="#d09070" stroke-width="0.3"/><circle cx="266.9" cy="424.0" r="1.06" fill="#eeae84" stroke="#d09070" stroke-width="0.3"/><circle cx="239.6" cy="400.7" r="0.96" fill="#eeae84" stroke="#d09070" stroke-width="0.3"/><circle cx="187.8" cy="417.8" r="1.03" fill="#eeae84" stroke="#d09070" stroke-width="0.3"/><circle cx="244.5" cy="412.1" r="0.61" fill="#eeae84" stroke="#d09070" stroke-width="0.3"/><circle cx="219.8" cy="413.8" r="0.73" fill="#eeae84" stroke="#d09070" stroke-width="0.3"/><circle cx="188.1" cy="404.8" r="0.84" fill="#eeae84" stroke="#d09070" stroke-width="0.3"/><circle cx="185.4" cy="408.5" r="0.74" fill="#eeae84" stroke="#d09070" stroke-width="0.3"/><circle cx="186.1" cy="390.6" r="0.68" fill="#eeae84" stroke="#d09070" stroke-width="0.3"/><circle cx="261.7" cy="415.0" r="1.03" fill="#eeae84" stroke="#d09070" stroke-width="0.3"/><circle cx="229.2" cy="398.9" r="0.87" fill="#eeae84" stroke="#d09070" stroke-width="0.3"/><circle cx="235.8" cy="408.0" r="1.06" fill="#eeae84" stroke="#d09070" stroke-width="0.3"/><circle cx="250.8" cy="413.6" r="1.07" fill="#eeae84" stroke="#d09070" stroke-width="0.3"/><circle cx="197.1" cy="407.6" r="0.99" fill="#eeae84" stroke="#d09070" stroke-width="0.3"/><circle cx="180.3" cy="398.2" r="0.96" fill="#eeae84" stroke="#d09070" stroke-width="0.3"/><circle cx="272.7" cy="419.4" r="0.85" fill="#eeae84" stroke="#d09070" stroke-width="0.3"/><circle cx="223.6" cy="406.1" r="1.07" fill="#eeae84" stroke="#d09070" stroke-width="0.3"/><circle cx="164.3" cy="408.5" r="1.07" fill="#eeae84" stroke="#d09070" stroke-width="0.3"/><circle cx="235.4" cy="424.3" r="0.65" fill="#eeae84" stroke="#d09070" stroke-width="0.3"/><circle cx="223.5" cy="415.6" r="0.66" fill="#eeae84" stroke="#d09070" stroke-width="0.3"/><circle cx="278.5" cy="414.3" r="0.63" fill="#eeae84" stroke="#d09070" stroke-width="0.3"/><circle cx="236.6" cy="424.2" r="0.63" fill="#eeae84" stroke="#d09070" stroke-width="0.3"/><circle cx="153.9" cy="386.1" r="0.94" fill="#eeae84" stroke="#d09070" stroke-width="0.3"/><circle cx="261.2" cy="407.8" r="0.99" fill="#eeae84" stroke="#d09070" stroke-width="0.3"/><circle cx="217.8" cy="415.8" r="0.69" fill="#eeae84" stroke="#d09070" stroke-width="0.3"/><circle cx="218.5" cy="412.3" r="0.78" fill="#eeae84" stroke="#d09070" stroke-width="0.3"/><circle cx="214.9" cy="411.4" r="0.81" fill="#eeae84" stroke="#d09070" stroke-width="0.3"/><circle cx="213.2" cy="417.9" r="0.64" fill="#eeae84" stroke="#d09070" stroke-width="0.3"/><circle cx="213.3" cy="390.1" r="0.88" fill="#eeae84" stroke="#d09070" stroke-width="0.3"/><circle cx="167.5" cy="397.7" r="0.75" fill="#eeae84" stroke="#d09070" stroke-width="0.3"/><circle cx="193.6" cy="400.1" r="1.09" fill="#eeae84" stroke="#d09070" stroke-width="0.3"/><circle cx="273.5" cy="404.0" r="1.06" fill="#eeae84" stroke="#d09070" stroke-width="0.3"/><circle cx="261.6" cy="416.9" r="0.84" fill="#eeae84" stroke="#d09070" stroke-width="0.3"/><circle cx="226.8" cy="409.0" r="0.94" fill="#eeae84" stroke="#d09070" stroke-width="0.3"/><circle cx="229.7" cy="397.6" r="0.64" fill="#eeae84" stroke="#d09070" stroke-width="0.3"/><circle cx="217.5" cy="397.6" r="1.08" fill="#eeae84" stroke="#d09070" stroke-width="0.3"/><circle cx="154.1" cy="414.9" r="1.08" fill="#eeae84" stroke="#d09070" stroke-width="0.3"/><circle cx="153.1" cy="413.2" r="0.62" fill="#eeae84" stroke="#d09070" stroke-width="0.3"/><circle cx="257.9" cy="412.1" r="0.89" fill="#eeae84" stroke="#d09070" stroke-width="0.3"/><circle cx="248.5" cy="405.9" r="1.00" fill="#eeae84" stroke="#d09070" stroke-width="0.3"/><circle cx="150.1" cy="415.3" r="1.09" fill="#eeae84" stroke="#d09070" stroke-width="0.3"/><circle cx="258.3" cy="419.8" r="0.80" fill="#eeae84" stroke="#d09070" stroke-width="0.3"/><circle cx="193.6" cy="404.3" r="0.99" fill="#eeae84" stroke="#d09070" stroke-width="0.3"/><circle cx="184.1" cy="405.8" r="0.89" fill="#eeae84" stroke="#d09070" stroke-width="0.3"/><circle cx="218.4" cy="403.0" r="0.83" fill="#eeae84" stroke="#d09070" stroke-width="0.3"/><circle cx="180.5" cy="413.7" r="1.04" fill="#eeae84" stroke="#d09070" stroke-width="0.3"/><circle cx="172.8" cy="407.7" r="0.84" fill="#eeae84" stroke="#d09070" stroke-width="0.3"/><circle cx="251.9" cy="418.0" r="0.77" fill="#eeae84" stroke="#d09070" stroke-width="0.3"/><circle cx="181.0" cy="401.6" r="0.86" fill="#eeae84" stroke="#d09070" stroke-width="0.3"/><circle cx="183.1" cy="400.3" r="1.04" fill="#eeae84" stroke="#d09070" stroke-width="0.3"/><circle cx="174.0" cy="405.2" r="0.76" fill="#eeae84" stroke="#d09070" stroke-width="0.3"/><circle cx="244.4" cy="418.2" r="0.94" fill="#eeae84" stroke="#d09070" stroke-width="0.3"/><circle cx="252.7" cy="411.5" r="0.98" fill="#eeae84" stroke="#d09070" stroke-width="0.3"/><circle cx="181.8" cy="404.0" r="0.71" fill="#eeae84" stroke="#d09070" stroke-width="0.3"/><circle cx="203.9" cy="413.0" r="0.78" fill="#eeae84" stroke="#d09070" stroke-width="0.3"/><circle cx="268.4" cy="416.5" r="1.10" fill="#eeae84" stroke="#d09070" stroke-width="0.3"/><circle cx="200.3" cy="413.9" r="0.99" fill="#eeae84" stroke="#d09070" stroke-width="0.3"/><circle cx="194.0" cy="414.3" r="1.00" fill="#eeae84" stroke="#d09070" stroke-width="0.3"/><circle cx="199.3" cy="403.5" r="0.97" fill="#eeae84" stroke="#d09070" stroke-width="0.3"/><circle cx="211.9" cy="416.5" r="1.01" fill="#eeae84" stroke="#d09070" stroke-width="0.3"/><circle cx="151.8" cy="397.2" r="0.63" fill="#eeae84" stroke="#d09070" stroke-width="0.3"/><circle cx="268.9" cy="417.0" r="0.67" fill="#eeae84" stroke="#d09070" stroke-width="0.3"/><circle cx="176.7" cy="417.4" r="1.07" fill="#eeae84" stroke="#d09070" stroke-width="0.3"/><circle cx="194.4" cy="392.7" r="1.07" fill="#eeae84" stroke="#d09070" stroke-width="0.3"/><circle cx="168.4" cy="400.7" r="0.70" fill="#eeae84" stroke="#d09070" stroke-width="0.3"/><circle cx="167.6" cy="387.9" r="0.94" fill="#eeae84" stroke="#d09070" stroke-width="0.3"/><circle cx="264.7" cy="414.0" r="0.83" fill="#eeae84" stroke="#d09070" stroke-width="0.3"/><circle cx="198.4" cy="388.6" r="0.66" fill="#eeae84" stroke="#d09070" stroke-width="0.3"/><circle cx="185.5" cy="407.3" r="0.69" fill="#eeae84" stroke="#d09070" stroke-width="0.3"/><circle cx="195.2" cy="404.0" r="0.62" fill="#eeae84" stroke="#d09070" stroke-width="0.3"/><circle cx="189.9" cy="406.4" r="0.86" fill="#eeae84" stroke="#d09070" stroke-width="0.3"/><circle cx="220.2" cy="411.9" r="0.88" fill="#eeae84" stroke="#d09070" stroke-width="0.3"/><circle cx="249.1" cy="397.6" r="0.64" fill="#eeae84" stroke="#d09070" stroke-width="0.3"/><circle cx="179.0" cy="401.8" r="0.64" fill="#eeae84" stroke="#d09070" stroke-width="0.3"/><circle cx="190.2" cy="406.0" r="0.85" fill="#eeae84" stroke="#d09070" stroke-width="0.3"/><circle cx="170.8" cy="388.6" r="0.77" fill="#eeae84" stroke="#d09070" stroke-width="0.3"/><circle cx="223.9" cy="405.7" r="1.09" fill="#eeae84" stroke="#d09070" stroke-width="0.3"/><circle cx="209.8" cy="419.0" r="0.90" fill="#eeae84" stroke="#d09070" stroke-width="0.3"/><circle cx="260.0" cy="411.3" r="1.07" fill="#eeae84" stroke="#d09070" stroke-width="0.3"/><circle cx="277.1" cy="419.3" r="0.61" fill="#eeae84" stroke="#d09070" stroke-width="0.3"/><circle cx="249.2" cy="411.7" r="0.68" fill="#eeae84" stroke="#d09070" stroke-width="0.3"/><circle cx="172.5" cy="405.8" r="0.97" fill="#eeae84" stroke="#d09070" stroke-width="0.3"/><circle cx="177.5" cy="409.5" r="1.00" fill="#eeae84" stroke="#d09070" stroke-width="0.3"/><circle cx="214.9" cy="408.4" r="0.93" fill="#eeae84" stroke="#d09070" stroke-width="0.3"/><circle cx="210.5" cy="407.7" r="0.75" fill="#eeae84" stroke="#d09070" stroke-width="0.3"/><circle cx="155.4" cy="405.2" r="0.73" fill="#eeae84" stroke="#d09070" stroke-width="0.3"/><circle cx="230.4" cy="404.7" r="0.91" fill="#eeae84" stroke="#d09070" stroke-width="0.3"/><circle cx="191.2" cy="410.7" r="0.78" fill="#eeae84" stroke="#d09070" stroke-width="0.3"/><circle cx="264.9" cy="410.6" r="0.87" fill="#eeae84" stroke="#d09070" stroke-width="0.3"/><circle cx="209.8" cy="403.6" r="0.77" fill="#eeae84" stroke="#d09070" stroke-width="0.3"/><circle cx="268.8" cy="418.5" r="1.03" fill="#eeae84" stroke="#d09070" stroke-width="0.3"/><circle cx="264.7" cy="430.9" r="0.68" fill="#eeae84" stroke="#d09070" stroke-width="0.3"/><circle cx="216.2" cy="413.8" r="0.69" fill="#eeae84" stroke="#d09070" stroke-width="0.3"/><circle cx="244.0" cy="412.0" r="0.72" fill="#eeae84" stroke="#d09070" stroke-width="0.3"/><circle cx="225.9" cy="418.7" r="0.74" fill="#eeae84" stroke="#d09070" stroke-width="0.3"/><circle cx="162.6" cy="418.5" r="0.94" fill="#eeae84" stroke="#d09070" stroke-width="0.3"/><circle cx="195.1" cy="397.4" r="1.06" fill="#eeae84" stroke="#d09070" stroke-width="0.3"/><circle cx="216.8" cy="405.1" r="0.79" fill="#eeae84" stroke="#d09070" stroke-width="0.3"/><circle cx="150.2" cy="398.5" r="0.89" fill="#eeae84" stroke="#d09070" stroke-width="0.3"/><circle cx="232.1" cy="410.5" r="0.83" fill="#eeae84" stroke="#d09070" stroke-width="0.3"/><circle cx="161.7" cy="396.2" r="0.92" fill="#eeae84" stroke="#d09070" stroke-width="0.3"/><circle cx="276.1" cy="418.4" r="0.74" fill="#eeae84" stroke="#d09070" stroke-width="0.3"/><circle cx="207.6" cy="417.6" r="0.72" fill="#eeae84" stroke="#d09070" stroke-width="0.3"/><circle cx="257.8" cy="420.9" r="1.00" fill="#eeae84" stroke="#d09070" stroke-width="0.3"/><circle cx="206.6" cy="406.1" r="0.86" fill="#eeae84" stroke="#d09070" stroke-width="0.3"/><circle cx="226.1" cy="402.2" r="1.17" fill="#eeae84" stroke="#d09070" stroke-width="0.3"/><circle cx="221.8" cy="400.7" r="1.10" fill="#eeae84" stroke="#d09070" stroke-width="0.3"/><circle cx="222.7" cy="405.0" r="0.81" fill="#eeae84" stroke="#d09070" stroke-width="0.3"/><circle cx="202.8" cy="403.3" r="1.08" fill="#eeae84" stroke="#d09070" stroke-width="0.3"/><circle cx="253.6" cy="419.0" r="1.15" fill="#eeae84" stroke="#d09070" stroke-width="0.3"/><circle cx="234.5" cy="409.0" r="1.09" fill="#eeae84" stroke="#d09070" stroke-width="0.3"/><circle cx="242.1" cy="401.6" r="0.71" fill="#eeae84" stroke="#d09070" stroke-width="0.3"/><circle cx="243.0" cy="407.5" r="1.15" fill="#eeae84" stroke="#d09070" stroke-width="0.3"/><circle cx="191.5" cy="402.7" r="0.91" fill="#eeae84" stroke="#d09070" stroke-width="0.3"/><circle cx="212.3" cy="404.5" r="1.15" fill="#eeae84" stroke="#d09070" stroke-width="0.3"/><circle cx="250.6" cy="404.2" r="0.99" fill="#eeae84" stroke="#d09070" stroke-width="0.3"/><circle cx="194.2" cy="399.7" r="1.19" fill="#eeae84" stroke="#d09070" stroke-width="0.3"/><circle cx="246.6" cy="407.4" r="0.79" fill="#eeae84" stroke="#d09070" stroke-width="0.3"/><circle cx="202.1" cy="399.4" r="1.19" fill="#eeae84" stroke="#d09070" stroke-width="0.3"/><circle cx="230.5" cy="399.0" r="0.68" fill="#eeae84" stroke="#d09070" stroke-width="0.3"/><circle cx="237.2" cy="415.9" r="1.06" fill="#eeae84" stroke="#d09070" stroke-width="0.3"/><circle cx="241.0" cy="411.5" r="1.12" fill="#eeae84" stroke="#d09070" stroke-width="0.3"/><circle cx="227.0" cy="411.4" r="0.90" fill="#eeae84" stroke="#d09070" stroke-width="0.3"/><circle cx="215.0" cy="401.2" r="0.81" fill="#eeae84" stroke="#d09070" stroke-width="0.3"/><circle cx="191.5" cy="403.6" r="0.74" fill="#eeae84" stroke="#d09070" stroke-width="0.3"/><circle cx="232.5" cy="413.3" r="1.07" fill="#eeae84" stroke="#d09070" stroke-width="0.3"/><circle cx="235.1" cy="403.1" r="0.76" fill="#eeae84" stroke="#d09070" stroke-width="0.3"/><circle cx="202.2" cy="401.3" r="0.99" fill="#eeae84" stroke="#d09070" stroke-width="0.3"/><circle cx="234.6" cy="410.7" r="1.16" fill="#eeae84" stroke="#d09070" stroke-width="0.3"/><circle cx="249.2" cy="408.4" r="0.77" fill="#eeae84" stroke="#d09070" stroke-width="0.3"/><circle cx="251.9" cy="401.9" r="1.06" fill="#eeae84" stroke="#d09070" stroke-width="0.3"/><circle cx="211.7" cy="395.5" r="0.77" fill="#eeae84" stroke="#d09070" stroke-width="0.3"/><circle cx="224.0" cy="403.6" r="1.12" fill="#eeae84" stroke="#d09070" stroke-width="0.3"/><circle cx="224.8" cy="405.1" r="0.88" fill="#eeae84" stroke="#d09070" stroke-width="0.3"/><circle cx="238.4" cy="407.7" r="0.95" fill="#eeae84" stroke="#d09070" stroke-width="0.3"/><circle cx="205.7" cy="404.8" r="0.80" fill="#eeae84" stroke="#d09070" stroke-width="0.3"/><circle cx="194.5" cy="403.8" r="0.92" fill="#eeae84" stroke="#d09070" stroke-width="0.3"/><circle cx="251.7" cy="411.7" r="0.98" fill="#eeae84" stroke="#d09070" stroke-width="0.3"/><circle cx="216.9" cy="400.9" r="0.88" fill="#eeae84" stroke="#d09070" stroke-width="0.3"/><circle cx="252.3" cy="412.3" r="0.67" fill="#eeae84" stroke="#d09070" stroke-width="0.3"/><circle cx="218.1" cy="400.8" r="0.93" fill="#eeae84" stroke="#d09070" stroke-width="0.3"/><circle cx="231.7" cy="399.3" r="1.16" fill="#eeae84" stroke="#d09070" stroke-width="0.3"/><circle cx="248.7" cy="409.7" r="1.20" fill="#eeae84" stroke="#d09070" stroke-width="0.3"/><circle cx="224.3" cy="410.5" r="0.71" fill="#eeae84" stroke="#d09070" stroke-width="0.3"/><circle cx="239.8" cy="410.4" r="0.93" fill="#eeae84" stroke="#d09070" stroke-width="0.3"/><circle cx="207.7" cy="403.2" r="1.03" fill="#eeae84" stroke="#d09070" stroke-width="0.3"/><circle cx="237.2" cy="404.2" r="0.99" fill="#eeae84" stroke="#d09070" stroke-width="0.3"/><circle cx="235.9" cy="414.1" r="0.87" fill="#eeae84" stroke="#d09070" stroke-width="0.3"/><circle cx="218.1" cy="407.7" r="1.17" fill="#eeae84" stroke="#d09070" stroke-width="0.3"/><circle cx="247.7" cy="412.7" r="0.63" fill="#eeae84" stroke="#d09070" stroke-width="0.3"/><circle cx="194.6" cy="399.9" r="0.86" fill="#eeae84" stroke="#d09070" stroke-width="0.3"/><circle cx="198.3" cy="406.9" r="0.86" fill="#eeae84" stroke="#d09070" stroke-width="0.3"/><circle cx="227.3" cy="405.3" r="0.99" fill="#eeae84" stroke="#d09070" stroke-width="0.3"/><circle cx="234.3" cy="402.3" r="0.97" fill="#eeae84" stroke="#d09070" stroke-width="0.3"/><circle cx="193.0" cy="399.9" r="0.63" fill="#eeae84" stroke="#d09070" stroke-width="0.3"/><circle cx="220.8" cy="401.9" r="0.61" fill="#eeae84" stroke="#d09070" stroke-width="0.3"/><circle cx="194.7" cy="397.4" r="0.66" fill="#eeae84" stroke="#d09070" stroke-width="0.3"/><circle cx="252.0" cy="413.6" r="1.11" fill="#eeae84" stroke="#d09070" stroke-width="0.3"/><circle cx="221.6" cy="401.0" r="1.19" fill="#eeae84" stroke="#d09070" stroke-width="0.3"/><circle cx="197.8" cy="399.3" r="0.78" fill="#eeae84" stroke="#d09070" stroke-width="0.3"/><circle cx="204.4" cy="405.1" r="0.85" fill="#eeae84" stroke="#d09070" stroke-width="0.3"/><circle cx="215.9" cy="399.6" r="1.13" fill="#eeae84" stroke="#d09070" stroke-width="0.3"/><circle cx="206.7" cy="403.9" r="0.87" fill="#eeae84" stroke="#d09070" stroke-width="0.3"/><circle cx="213.8" cy="396.7" r="0.86" fill="#eeae84" stroke="#d09070" stroke-width="0.3"/><circle cx="219.4" cy="401.4" r="0.85" fill="#eeae84" stroke="#d09070" stroke-width="0.3"/><circle cx="209.7" cy="408.0" r="1.06" fill="#eeae84" stroke="#d09070" stroke-width="0.3"/><circle cx="219.6" cy="394.8" r="0.87" fill="#eeae84" stroke="#d09070" stroke-width="0.3"/><circle cx="214.4" cy="404.7" r="1.14" fill="#eeae84" stroke="#d09070" stroke-width="0.3"/><circle cx="253.5" cy="411.7" r="1.00" fill="#eeae84" stroke="#d09070" stroke-width="0.3"/><circle cx="238.2" cy="403.2" r="0.78" fill="#eeae84" stroke="#d09070" stroke-width="0.3"/><circle cx="237.1" cy="413.7" r="1.00" fill="#eeae84" stroke="#d09070" stroke-width="0.3"/><circle cx="218.3" cy="401.8" r="0.99" fill="#eeae84" stroke="#d09070" stroke-width="0.3"/><circle cx="204.7" cy="402.6" r="1.19" fill="#eeae84" stroke="#d09070" stroke-width="0.3"/><circle cx="212.2" cy="397.7" r="1.03" fill="#eeae84" stroke="#d09070" stroke-width="0.3"/><circle cx="191.1" cy="394.9" r="0.76" fill="#eeae84" stroke="#d09070" stroke-width="0.3"/><circle cx="229.9" cy="409.8" r="0.73" fill="#eeae84" stroke="#d09070" stroke-width="0.3"/><circle cx="215.9" cy="406.3" r="1.15" fill="#eeae84" stroke="#d09070" stroke-width="0.3"/><circle cx="193.9" cy="400.4" r="0.95" fill="#eeae84" stroke="#d09070" stroke-width="0.3"/><circle cx="243.4" cy="411.0" r="0.95" fill="#eeae84" stroke="#d09070" stroke-width="0.3"/><circle cx="236.3" cy="403.4" r="1.06" fill="#eeae84" stroke="#d09070" stroke-width="0.3"/><circle cx="238.5" cy="404.7" r="1.02" fill="#eeae84" stroke="#d09070" stroke-width="0.3"/><circle cx="226.5" cy="403.7" r="0.93" fill="#eeae84" stroke="#d09070" stroke-width="0.3"/><circle cx="254.2" cy="416.0" r="0.79" fill="#eeae84" stroke="#d09070" stroke-width="0.3"/><circle cx="237.2" cy="413.4" r="1.17" fill="#eeae84" stroke="#d09070" stroke-width="0.3"/><circle cx="207.8" cy="397.8" r="0.90" fill="#eeae84" stroke="#d09070" stroke-width="0.3"/><circle cx="200.9" cy="399.5" r="0.98" fill="#eeae84" stroke="#d09070" stroke-width="0.3"/><circle cx="248.1" cy="407.7" r="1.08" fill="#eeae84" stroke="#d09070" stroke-width="0.3"/><circle cx="217.3" cy="400.5" r="0.69" fill="#eeae84" stroke="#d09070" stroke-width="0.3"/><circle cx="229.4" cy="400.5" r="1.19" fill="#eeae84" stroke="#d09070" stroke-width="0.3"/><circle cx="227.0" cy="406.8" r="1.17" fill="#eeae84" stroke="#d09070" stroke-width="0.3"/><circle cx="212.9" cy="403.2" r="0.78" fill="#eeae84" stroke="#d09070" stroke-width="0.3"/><circle cx="235.0" cy="405.2" r="1.01" fill="#eeae84" stroke="#d09070" stroke-width="0.3"/><circle cx="243.8" cy="406.1" r="0.82" fill="#eeae84" stroke="#d09070" stroke-width="0.3"/><circle cx="224.9" cy="407.4" r="0.61" fill="#eeae84" stroke="#d09070" stroke-width="0.3"/><circle cx="214.3" cy="401.9" r="0.79" fill="#eeae84" stroke="#d09070" stroke-width="0.3"/><circle cx="246.7" cy="407.2" r="1.16" fill="#eeae84" stroke="#d09070" stroke-width="0.3"/><circle cx="206.2" cy="403.0" r="0.65" fill="#eeae84" stroke="#d09070" stroke-width="0.3"/><circle cx="241.6" cy="410.3" r="1.04" fill="#eeae84" stroke="#d09070" stroke-width="0.3"/><circle cx="207.2" cy="396.0" r="0.62" fill="#eeae84" stroke="#d09070" stroke-width="0.3"/><circle cx="243.2" cy="409.1" r="1.12" fill="#eeae84" stroke="#d09070" stroke-width="0.3"/><circle cx="203.7" cy="400.1" r="0.80" fill="#eeae84" stroke="#d09070" stroke-width="0.3"/><circle cx="247.1" cy="402.7" r="0.73" fill="#eeae84" stroke="#d09070" stroke-width="0.3"/><circle cx="220.8" cy="402.3" r="1.09" fill="#eeae84" stroke="#d09070" stroke-width="0.3"/><circle cx="227.0" cy="409.9" r="0.97" fill="#eeae84" stroke="#d09070" stroke-width="0.3"/><circle cx="254.2" cy="411.4" r="0.97" fill="#eeae84" stroke="#d09070" stroke-width="0.3"/><circle cx="199.8" cy="404.0" r="1.18" fill="#eeae84" stroke="#d09070" stroke-width="0.3"/><circle cx="212.2" cy="398.8" r="1.10" fill="#eeae84" stroke="#d09070" stroke-width="0.3"/><circle cx="249.5" cy="411.7" r="1.01" fill="#eeae84" stroke="#d09070" stroke-width="0.3"/><circle cx="201.1" cy="397.8" r="0.73" fill="#eeae84" stroke="#d09070" stroke-width="0.3"/><circle cx="247.4" cy="415.0" r="1.12" fill="#eeae84" stroke="#d09070" stroke-width="0.3"/><circle cx="204.7" cy="400.1" r="1.03" fill="#eeae84" stroke="#d09070" stroke-width="0.3"/><circle cx="193.1" cy="402.4" r="1.02" fill="#eeae84" stroke="#d09070" stroke-width="0.3"/><circle cx="194.1" cy="403.0" r="0.95" fill="#eeae84" stroke="#d09070" stroke-width="0.3"/><circle cx="196.2" cy="396.9" r="0.63" fill="#eeae84" stroke="#d09070" stroke-width="0.3"/><circle cx="213.0" cy="408.8" r="1.12" fill="#eeae84" stroke="#d09070" stroke-width="0.3"/><circle cx="194.1" cy="400.1" r="0.66" fill="#eeae84" stroke="#d09070" stroke-width="0.3"/><circle cx="191.4" cy="399.5" r="0.76" fill="#eeae84" stroke="#d09070" stroke-width="0.3"/><circle cx="233.4" cy="404.0" r="1.02" fill="#eeae84" stroke="#d09070" stroke-width="0.3"/><circle cx="211.0" cy="399.4" r="0.94" fill="#eeae84" stroke="#d09070" stroke-width="0.3"/><circle cx="213.1" cy="403.8" r="0.82" fill="#eeae84" stroke="#d09070" stroke-width="0.3"/><circle cx="206.2" cy="401.3" r="0.61" fill="#eeae84" stroke="#d09070" stroke-width="0.3"/><circle cx="210.2" cy="405.8" r="0.96" fill="#eeae84" stroke="#d09070" stroke-width="0.3"/><circle cx="207.5" cy="408.3" r="0.88" fill="#eeae84" stroke="#d09070" stroke-width="0.3"/><circle cx="223.3" cy="410.3" r="0.79" fill="#eeae84" stroke="#d09070" stroke-width="0.3"/><circle cx="247.7" cy="409.7" r="1.00" fill="#eeae84" stroke="#d09070" stroke-width="0.3"/><circle cx="235.0" cy="400.7" r="0.90" fill="#eeae84" stroke="#d09070" stroke-width="0.3"/><circle cx="216.9" cy="399.6" r="0.88" fill="#eeae84" stroke="#d09070" stroke-width="0.3"/><circle cx="224.4" cy="408.3" r="0.92" fill="#eeae84" stroke="#d09070" stroke-width="0.3"/><circle cx="241.3" cy="410.8" r="0.61" fill="#eeae84" stroke="#d09070" stroke-width="0.3"/><circle cx="209.6" cy="400.8" r="0.62" fill="#eeae84" stroke="#d09070" stroke-width="0.3"/><circle cx="241.8" cy="405.7" r="0.71" fill="#eeae84" stroke="#d09070" stroke-width="0.3"/><circle cx="246.5" cy="406.8" r="1.10" fill="#eeae84" stroke="#d09070" stroke-width="0.3"/><circle cx="234.4" cy="404.2" r="0.87" fill="#eeae84" stroke="#d09070" stroke-width="0.3"/><circle cx="215.8" cy="396.7" r="0.93" fill="#eeae84" stroke="#d09070" stroke-width="0.3"/><circle cx="247.2" cy="419.5" r="1.10" fill="#eeae84" stroke="#d09070" stroke-width="0.3"/><circle cx="194.8" cy="400.2" r="0.75" fill="#eeae84" stroke="#d09070" stroke-width="0.3"/><circle cx="253.1" cy="405.4" r="0.79" fill="#eeae84" stroke="#d09070" stroke-width="0.3"/><circle cx="246.0" cy="407.7" r="0.91" fill="#eeae84" stroke="#d09070" stroke-width="0.3"/><circle cx="254.4" cy="423.5" r="0.61" fill="#eeae84" stroke="#d09070" stroke-width="0.3"/><circle cx="199.6" cy="406.8" r="0.83" fill="#eeae84" stroke="#d09070" stroke-width="0.3"/><circle cx="231.6" cy="410.8" r="1.16" fill="#eeae84" stroke="#d09070" stroke-width="0.3"/><circle cx="218.3" cy="407.4" r="1.06" fill="#eeae84" stroke="#d09070" stroke-width="0.3"/><circle cx="228.5" cy="403.3" r="0.88" fill="#eeae84" stroke="#d09070" stroke-width="0.3"/><circle cx="248.5" cy="408.3" r="1.00" fill="#eeae84" stroke="#d09070" stroke-width="0.3"/><circle cx="204.1" cy="397.2" r="0.80" fill="#eeae84" stroke="#d09070" stroke-width="0.3"/><circle cx="227.6" cy="407.4" r="0.98" fill="#eeae84" stroke="#d09070" stroke-width="0.3"/><circle cx="191.2" cy="401.1" r="0.73" fill="#eeae84" stroke="#d09070" stroke-width="0.3"/><circle cx="194.7" cy="405.9" r="1.06" fill="#eeae84" stroke="#d09070" stroke-width="0.3"/><circle cx="211.7" cy="408.1" r="0.66" fill="#eeae84" stroke="#d09070" stroke-width="0.3"/><circle cx="231.4" cy="404.8" r="0.76" fill="#eeae84" stroke="#d09070" stroke-width="0.3"/><circle cx="242.9" cy="407.4" r="0.63" fill="#eeae84" stroke="#d09070" stroke-width="0.3"/><circle cx="192.2" cy="394.4" r="1.08" fill="#eeae84" stroke="#d09070" stroke-width="0.3"/><circle cx="199.1" cy="401.5" r="0.70" fill="#eeae84" stroke="#d09070" stroke-width="0.3"/><circle cx="220.8" cy="405.2" r="1.17" fill="#eeae84" stroke="#d09070" stroke-width="0.3"/><circle cx="210.9" cy="402.3" r="0.71" fill="#eeae84" stroke="#d09070" stroke-width="0.3"/><circle cx="231.3" cy="414.7" r="0.97" fill="#eeae84" stroke="#d09070" stroke-width="0.3"/><circle cx="250.8" cy="415.7" r="0.83" fill="#eeae84" stroke="#d09070" stroke-width="0.3"/><circle cx="243.5" cy="410.3" r="0.75" fill="#eeae84" stroke="#d09070" stroke-width="0.3"/><circle cx="236.5" cy="409.4" r="1.18" fill="#eeae84" stroke="#d09070" stroke-width="0.3"/><circle cx="205.6" cy="406.4" r="0.77" fill="#eeae84" stroke="#d09070" stroke-width="0.3"/><circle cx="249.6" cy="409.2" r="0.71" fill="#eeae84" stroke="#d09070" stroke-width="0.3"/><circle cx="205.4" cy="400.7" r="0.77" fill="#eeae84" stroke="#d09070" stroke-width="0.3"/><circle cx="244.9" cy="405.1" r="1.00" fill="#eeae84" stroke="#d09070" stroke-width="0.3"/><circle cx="230.8" cy="394.2" r="0.83" fill="#eeae84" stroke="#d09070" stroke-width="0.3"/><circle cx="236.6" cy="405.8" r="0.90" fill="#eeae84" stroke="#d09070" stroke-width="0.3"/><circle cx="215.0" cy="403.4" r="0.92" fill="#eeae84" stroke="#d09070" stroke-width="0.3"/><circle cx="193.2" cy="410.5" r="0.82" fill="#eeae84" stroke="#d09070" stroke-width="0.3"/><circle cx="211.5" cy="405.0" r="0.69" fill="#eeae84" stroke="#d09070" stroke-width="0.3"/><circle cx="228.5" cy="408.1" r="0.90" fill="#eeae84" stroke="#d09070" stroke-width="0.3"/><circle cx="222.5" cy="403.0" r="1.06" fill="#eeae84" stroke="#d09070" stroke-width="0.3"/><circle cx="226.7" cy="405.5" r="1.03" fill="#eeae84" stroke="#d09070" stroke-width="0.3"/><circle cx="195.1" cy="403.1" r="1.12" fill="#eeae84" stroke="#d09070" stroke-width="0.3"/><circle cx="192.2" cy="401.8" r="1.11" fill="#eeae84" stroke="#d09070" stroke-width="0.3"/><circle cx="230.3" cy="410.7" r="1.05" fill="#eeae84" stroke="#d09070" stroke-width="0.3"/><circle cx="239.5" cy="407.6" r="1.10" fill="#eeae84" stroke="#d09070" stroke-width="0.3"/><circle cx="199.6" cy="400.1" r="0.70" fill="#eeae84" stroke="#d09070" stroke-width="0.3"/><circle cx="192.4" cy="407.5" r="0.83" fill="#eeae84" stroke="#d09070" stroke-width="0.3"/><circle cx="195.6" cy="402.1" r="0.63" fill="#eeae84" stroke="#d09070" stroke-width="0.3"/><circle cx="245.0" cy="401.0" r="0.62" fill="#eeae84" stroke="#d09070" stroke-width="0.3"/><circle cx="197.3" cy="396.0" r="0.77" fill="#eeae84" stroke="#d09070" stroke-width="0.3"/><circle cx="202.4" cy="403.7" r="0.98" fill="#eeae84" stroke="#d09070" stroke-width="0.3"/><circle cx="200.9" cy="403.1" r="0.70" fill="#eeae84" stroke="#d09070" stroke-width="0.3"/><circle cx="224.8" cy="403.1" r="0.94" fill="#eeae84" stroke="#d09070" stroke-width="0.3"/><circle cx="223.0" cy="406.4" r="0.83" fill="#eeae84" stroke="#d09070" stroke-width="0.3"/><circle cx="220.8" cy="410.2" r="0.72" fill="#eeae84" stroke="#d09070" stroke-width="0.3"/><circle cx="211.8" cy="404.4" r="0.61" fill="#eeae84" stroke="#d09070" stroke-width="0.3"/><circle cx="247.7" cy="405.7" r="0.93" fill="#eeae84" stroke="#d09070" stroke-width="0.3"/><circle cx="251.1" cy="407.9" r="0.68" fill="#eeae84" stroke="#d09070" stroke-width="0.3"/><circle cx="214.9" cy="402.2" r="1.02" fill="#eeae84" stroke="#d09070" stroke-width="0.3"/><circle cx="249.0" cy="405.6" r="0.62" fill="#eeae84" stroke="#d09070" stroke-width="0.3"/><circle cx="208.5" cy="400.6" r="1.07" fill="#eeae84" stroke="#d09070" stroke-width="0.3"/><circle cx="235.5" cy="414.3" r="1.15" fill="#eeae84" stroke="#d09070" stroke-width="0.3"/><circle cx="202.1" cy="395.6" r="1.06" fill="#eeae84" stroke="#d09070" stroke-width="0.3"/><circle cx="197.3" cy="405.5" r="1.19" fill="#eeae84" stroke="#d09070" stroke-width="0.3"/><circle cx="238.1" cy="410.5" r="0.96" fill="#eeae84" stroke="#d09070" stroke-width="0.3"/><circle cx="252.3" cy="407.3" r="1.14" fill="#eeae84" stroke="#d09070" stroke-width="0.3"/><circle cx="227.5" cy="418.4" r="1.10" fill="#eeae84" stroke="#d09070" stroke-width="0.3"/><circle cx="232.6" cy="395.9" r="1.18" fill="#eeae84" stroke="#d09070" stroke-width="0.3"/><circle cx="199.3" cy="397.2" r="0.68" fill="#eeae84" stroke="#d09070" stroke-width="0.3"/><circle cx="240.7" cy="411.4" r="0.64" fill="#eeae84" stroke="#d09070" stroke-width="0.3"/><circle cx="230.9" cy="405.4" r="0.96" fill="#eeae84" stroke="#d09070" stroke-width="0.3"/><circle cx="202.4" cy="405.1" r="0.87" fill="#eeae84" stroke="#d09070" stroke-width="0.3"/><circle cx="245.7" cy="412.6" r="0.82" fill="#eeae84" stroke="#d09070" stroke-width="0.3"/><circle cx="235.1" cy="406.7" r="0.71" fill="#eeae84" stroke="#d09070" stroke-width="0.3"/><circle cx="245.2" cy="410.9" r="0.80" fill="#eeae84" stroke="#d09070" stroke-width="0.3"/><circle cx="190.1" cy="404.2" r="0.60" fill="#eeae84" stroke="#d09070" stroke-width="0.3"/><circle cx="190.1" cy="398.7" r="1.19" fill="#eeae84" stroke="#d09070" stroke-width="0.3"/><circle cx="231.4" cy="409.5" r="0.64" fill="#eeae84" stroke="#d09070" stroke-width="0.3"/><circle cx="236.5" cy="407.9" r="1.03" fill="#eeae84" stroke="#d09070" stroke-width="0.3"/><circle cx="245.7" cy="414.3" r="1.16" fill="#eeae84" stroke="#d09070" stroke-width="0.3"/><circle cx="217.4" cy="401.8" r="0.79" fill="#eeae84" stroke="#d09070" stroke-width="0.3"/><circle cx="238.2" cy="411.8" r="0.88" fill="#eeae84" stroke="#d09070" stroke-width="0.3"/><circle cx="234.6" cy="411.5" r="1.18" fill="#eeae84" stroke="#d09070" stroke-width="0.3"/><circle cx="203.2" cy="407.4" r="0.97" fill="#eeae84" stroke="#d09070" stroke-width="0.3"/><circle cx="200.5" cy="405.3" r="0.71" fill="#eeae84" stroke="#d09070" stroke-width="0.3"/><circle cx="237.5" cy="408.5" r="0.94" fill="#eeae84" stroke="#d09070" stroke-width="0.3"/><circle cx="233.8" cy="408.3" r="0.66" fill="#eeae84" stroke="#d09070" stroke-width="0.3"/><circle cx="192.3" cy="400.1" r="0.88" fill="#eeae84" stroke="#d09070" stroke-width="0.3"/><circle cx="243.6" cy="406.4" r="1.11" fill="#eeae84" stroke="#d09070" stroke-width="0.3"/><circle cx="214.2" cy="398.3" r="0.67" fill="#eeae84" stroke="#d09070" stroke-width="0.3"/><circle cx="231.7" cy="409.5" r="0.62" fill="#eeae84" stroke="#d09070" stroke-width="0.3"/><circle cx="200.5" cy="401.8" r="0.64" fill="#eeae84" stroke="#d09070" stroke-width="0.3"/><circle cx="224.6" cy="409.2" r="1.09" fill="#eeae84" stroke="#d09070" stroke-width="0.3"/><circle cx="212.4" cy="407.1" r="0.67" fill="#eeae84" stroke="#d09070" stroke-width="0.3"/><circle cx="233.6" cy="405.5" r="0.93" fill="#eeae84" stroke="#d09070" stroke-width="0.3"/><circle cx="227.8" cy="396.3" r="1.12" fill="#eeae84" stroke="#d09070" stroke-width="0.3"/><circle cx="234.0" cy="410.5" r="1.06" fill="#eeae84" stroke="#d09070" stroke-width="0.3"/><circle cx="231.1" cy="405.6" r="0.88" fill="#eeae84" stroke="#d09070" stroke-width="0.3"/><circle cx="190.7" cy="397.4" r="0.96" fill="#eeae84" stroke="#d09070" stroke-width="0.3"/><circle cx="223.1" cy="405.1" r="0.91" fill="#eeae84" stroke="#d09070" stroke-width="0.3"/><circle cx="193.8" cy="403.9" r="1.01" fill="#eeae84" stroke="#d09070" stroke-width="0.3"/><circle cx="254.4" cy="415.4" r="1.08" fill="#eeae84" stroke="#d09070" stroke-width="0.3"/><circle cx="208.9" cy="397.8" r="1.08" fill="#eeae84" stroke="#d09070" stroke-width="0.3"/><circle cx="215.6" cy="404.8" r="1.15" fill="#eeae84" stroke="#d09070" stroke-width="0.3"/><circle cx="221.5" cy="400.2" r="0.81" fill="#eeae84" stroke="#d09070" stroke-width="0.3"/><circle cx="255.0" cy="414.1" r="0.63" fill="#eeae84" stroke="#d09070" stroke-width="0.3"/><circle cx="216.0" cy="409.2" r="0.69" fill="#eeae84" stroke="#d09070" stroke-width="0.3"/><circle cx="199.7" cy="404.0" r="0.85" fill="#eeae84" stroke="#d09070" stroke-width="0.3"/><circle cx="229.1" cy="406.2" r="0.78" fill="#eeae84" stroke="#d09070" stroke-width="0.3"/><circle cx="213.9" cy="398.5" r="1.13" fill="#eeae84" stroke="#d09070" stroke-width="0.3"/><circle cx="203.9" cy="410.1" r="0.89" fill="#eeae84" stroke="#d09070" stroke-width="0.3"/><circle cx="198.6" cy="401.7" r="0.68" fill="#eeae84" stroke="#d09070" stroke-width="0.3"/><circle cx="247.9" cy="409.6" r="1.01" fill="#eeae84" stroke="#d09070" stroke-width="0.3"/><circle cx="203.9" cy="400.4" r="0.87" fill="#eeae84" stroke="#d09070" stroke-width="0.3"/><circle cx="229.3" cy="415.9" r="0.80" fill="#eeae84" stroke="#d09070" stroke-width="0.3"/><circle cx="199.4" cy="404.1" r="1.07" fill="#eeae84" stroke="#d09070" stroke-width="0.3"/><circle cx="197.1" cy="406.2" r="0.88" fill="#eeae84" stroke="#d09070" stroke-width="0.3"/><circle cx="248.5" cy="411.2" r="1.07" fill="#eeae84" stroke="#d09070" stroke-width="0.3"/><circle cx="203.4" cy="406.9" r="0.88" fill="#eeae84" stroke="#d09070" stroke-width="0.3"/><circle cx="209.6" cy="404.2" r="1.15" fill="#eeae84" stroke="#d09070" stroke-width="0.3"/><circle cx="203.6" cy="400.8" r="1.15" fill="#eeae84" stroke="#d09070" stroke-width="0.3"/><circle cx="251.7" cy="409.0" r="0.97" fill="#eeae84" stroke="#d09070" stroke-width="0.3"/><circle cx="210.8" cy="401.3" r="1.08" fill="#eeae84" stroke="#d09070" stroke-width="0.3"/><circle cx="192.6" cy="392.7" r="0.90" fill="#eeae84" stroke="#d09070" stroke-width="0.3"/><circle cx="199.1" cy="392.3" r="1.12" fill="#eeae84" stroke="#d09070" stroke-width="0.3"/><circle cx="206.2" cy="399.3" r="0.93" fill="#eeae84" stroke="#d09070" stroke-width="0.3"/><circle cx="210.6" cy="406.1" r="1.06" fill="#eeae84" stroke="#d09070" stroke-width="0.3"/><circle cx="211.9" cy="409.0" r="0.85" fill="#eeae84" stroke="#d09070" stroke-width="0.3"/><circle cx="235.3" cy="406.3" r="0.67" fill="#eeae84" stroke="#d09070" stroke-width="0.3"/><circle cx="196.2" cy="396.7" r="0.70" fill="#eeae84" stroke="#d09070" stroke-width="0.3"/><circle cx="243.7" cy="402.3" r="0.82" fill="#eeae84" stroke="#d09070" stroke-width="0.3"/><circle cx="214.0" cy="403.3" r="0.71" fill="#eeae84" stroke="#d09070" stroke-width="0.3"/><circle cx="253.3" cy="408.8" r="1.02" fill="#eeae84" stroke="#d09070" stroke-width="0.3"/><circle cx="228.9" cy="404.3" r="0.97" fill="#eeae84" stroke="#d09070" stroke-width="0.3"/><circle cx="240.0" cy="400.9" r="1.18" fill="#eeae84" stroke="#d09070" stroke-width="0.3"/><circle cx="216.4" cy="397.9" r="0.99" fill="#eeae84" stroke="#d09070" stroke-width="0.3"/><circle cx="214.3" cy="399.8" r="0.99" fill="#eeae84" stroke="#d09070" stroke-width="0.3"/><circle cx="212.9" cy="405.2" r="0.81" fill="#eeae84" stroke="#d09070" stroke-width="0.3"/><circle cx="245.0" cy="411.1" r="1.11" fill="#eeae84" stroke="#d09070" stroke-width="0.3"/><circle cx="215.1" cy="397.1" r="0.99" fill="#eeae84" stroke="#d09070" stroke-width="0.3"/><circle cx="206.3" cy="401.4" r="1.08" fill="#eeae84" stroke="#d09070" stroke-width="0.3"/><circle cx="249.9" cy="411.9" r="0.78" fill="#eeae84" stroke="#d09070" stroke-width="0.3"/><circle cx="214.6" cy="405.1" r="0.98" fill="#eeae84" stroke="#d09070" stroke-width="0.3"/><circle cx="248.0" cy="411.3" r="0.65" fill="#eeae84" stroke="#d09070" stroke-width="0.3"/><circle cx="206.5" cy="402.4" r="1.13" fill="#eeae84" stroke="#d09070" stroke-width="0.3"/><circle cx="212.9" cy="400.0" r="0.88" fill="#eeae84" stroke="#d09070" stroke-width="0.3"/><circle cx="203.1" cy="400.7" r="0.77" fill="#eeae84" stroke="#d09070" stroke-width="0.3"/><circle cx="237.4" cy="412.1" r="0.62" fill="#eeae84" stroke="#d09070" stroke-width="0.3"/><circle cx="231.5" cy="407.6" r="0.71" fill="#eeae84" stroke="#d09070" stroke-width="0.3"/><circle cx="197.8" cy="397.9" r="0.65" fill="#eeae84" stroke="#d09070" stroke-width="0.3"/><circle cx="241.5" cy="407.7" r="0.87" fill="#eeae84" stroke="#d09070" stroke-width="0.3"/><circle cx="228.9" cy="405.3" r="0.79" fill="#eeae84" stroke="#d09070" stroke-width="0.3"/><circle cx="192.3" cy="397.4" r="1.18" fill="#eeae84" stroke="#d09070" stroke-width="0.3"/><circle cx="213.4" cy="405.0" r="1.15" fill="#eeae84" stroke="#d09070" stroke-width="0.3"/><circle cx="246.4" cy="407.2" r="1.08" fill="#eeae84" stroke="#d09070" stroke-width="0.3"/><circle cx="195.9" cy="399.9" r="0.93" fill="#eeae84" stroke="#d09070" stroke-width="0.3"/><circle cx="196.3" cy="404.0" r="0.69" fill="#eeae84" stroke="#d09070" stroke-width="0.3"/><circle cx="254.5" cy="413.4" r="0.95" fill="#eeae84" stroke="#d09070" stroke-width="0.3"/><circle cx="248.3" cy="417.0" r="0.99" fill="#eeae84" stroke="#d09070" stroke-width="0.3"/><circle cx="220.7" cy="402.1" r="1.07" fill="#eeae84" stroke="#d09070" stroke-width="0.3"/><circle cx="233.5" cy="409.7" r="0.85" fill="#eeae84" stroke="#d09070" stroke-width="0.3"/><circle cx="223.5" cy="409.3" r="1.03" fill="#eeae84" stroke="#d09070" stroke-width="0.3"/><circle cx="234.8" cy="399.8" r="1.10" fill="#eeae84" stroke="#d09070" stroke-width="0.3"/><circle cx="196.0" cy="398.0" r="0.69" fill="#eeae84" stroke="#d09070" stroke-width="0.3"/><circle cx="193.1" cy="405.3" r="0.79" fill="#eeae84" stroke="#d09070" stroke-width="0.3"/><circle cx="218.5" cy="413.3" r="0.88" fill="#eeae84" stroke="#d09070" stroke-width="0.3"/><circle cx="226.7" cy="403.9" r="0.80" fill="#eeae84" stroke="#d09070" stroke-width="0.3"/><circle cx="245.0" cy="416.7" r="1.08" fill="#eeae84" stroke="#d09070" stroke-width="0.3"/><circle cx="190.1" cy="398.5" r="1.13" fill="#eeae84" stroke="#d09070" stroke-width="0.3"/><circle cx="194.5" cy="400.1" r="0.76" fill="#eeae84" stroke="#d09070" stroke-width="0.3"/><circle cx="240.0" cy="402.4" r="0.85" fill="#eeae84" stroke="#d09070" stroke-width="0.3"/><circle cx="223.8" cy="401.2" r="0.72" fill="#eeae84" stroke="#d09070" stroke-width="0.3"/><circle cx="220.1" cy="403.7" r="0.66" fill="#eeae84" stroke="#d09070" stroke-width="0.3"/><circle cx="198.9" cy="406.9" r="0.72" fill="#eeae84" stroke="#d09070" stroke-width="0.3"/><circle cx="118.4" cy="394.0" r="1.10" fill="#eeae84" stroke="#d09070" stroke-width="0.3"/><circle cx="144.0" cy="396.0" r="1.10" fill="#eeae84" stroke="#d09070" stroke-width="0.3"/><circle cx="155.0" cy="405.0" r="1.10" fill="#eeae84" stroke="#d09070" stroke-width="0.3"/><circle cx="170.0" cy="410.0" r="1.10" fill="#eeae84" stroke="#d09070" stroke-width="0.3"/><circle cx="165.0" cy="420.0" r="1.10" fill="#eeae84" stroke="#d09070" stroke-width="0.3"/><circle cx="175.2" cy="431.2" r="1.10" fill="#eeae84" stroke="#d09070" stroke-width="0.3"/><circle cx="191.2" cy="424.8" r="1.10" fill="#eeae84" stroke="#d09070" stroke-width="0.3"/><circle cx="232.8" cy="465.2" r="1.50" fill="#eeae84" stroke="#d09070" stroke-width="0.3"/><circle cx="138.0" cy="392.0" r="1.10" fill="#eeae84" stroke="#d09070" stroke-width="0.3"/><circle cx="158.0" cy="392.0" r="1.10" fill="#eeae84" stroke="#d09070" stroke-width="0.3"/><circle cx="180.0" cy="415.0" r="1.10" fill="#eeae84" stroke="#d09070" stroke-width="0.3"/><circle cx="195.0" cy="420.0" r="1.10" fill="#eeae84" stroke="#d09070" stroke-width="0.3"/><circle cx="235.0" cy="420.0" r="1.10" fill="#eeae84" stroke="#d09070" stroke-width="0.3"/><circle cx="250.0" cy="425.0" r="1.10" fill="#eeae84" stroke="#d09070" stroke-width="0.3"/><circle cx="205.0" cy="425.0" r="1.10" fill="#eeae84" stroke="#d09070" stroke-width="0.3"/><circle cx="266.6" cy="417.2" r="1.19" fill="#b47474" stroke="#8a5050" stroke-width="0.3"/><circle cx="281.8" cy="418.3" r="0.83" fill="#b47474" stroke="#8a5050" stroke-width="0.3"/><circle cx="247.9" cy="424.0" r="0.71" fill="#b47474" stroke="#8a5050" stroke-width="0.3"/><circle cx="277.8" cy="403.6" r="1.09" fill="#b47474" stroke="#8a5050" stroke-width="0.3"/><circle cx="286.9" cy="419.6" r="0.70" fill="#b47474" stroke="#8a5050" stroke-width="0.3"/><circle cx="251.6" cy="419.6" r="1.14" fill="#b47474" stroke="#8a5050" stroke-width="0.3"/><circle cx="285.5" cy="415.6" r="0.81" fill="#b47474" stroke="#8a5050" stroke-width="0.3"/><circle cx="252.1" cy="417.2" r="0.99" fill="#b47474" stroke="#8a5050" stroke-width="0.3"/><circle cx="276.0" cy="419.2" r="0.87" fill="#b47474" stroke="#8a5050" stroke-width="0.3"/><circle cx="263.4" cy="411.1" r="0.82" fill="#b47474" stroke="#8a5050" stroke-width="0.3"/><circle cx="262.8" cy="413.6" r="0.80" fill="#b47474" stroke="#8a5050" stroke-width="0.3"/><circle cx="268.3" cy="409.0" r="0.69" fill="#b47474" stroke="#8a5050" stroke-width="0.3"/><circle cx="242.3" cy="411.8" r="0.62" fill="#b47474" stroke="#8a5050" stroke-width="0.3"/><circle cx="244.0" cy="419.9" r="0.86" fill="#b47474" stroke="#8a5050" stroke-width="0.3"/><circle cx="287.1" cy="419.6" r="0.79" fill="#b47474" stroke="#8a5050" stroke-width="0.3"/><circle cx="258.4" cy="415.8" r="0.79" fill="#b47474" stroke="#8a5050" stroke-width="0.3"/><circle cx="246.9" cy="406.7" r="0.83" fill="#b47474" stroke="#8a5050" stroke-width="0.3"/><circle cx="248.8" cy="410.4" r="0.66" fill="#b47474" stroke="#8a5050" stroke-width="0.3"/><circle cx="240.8" cy="416.5" r="1.03" fill="#b47474" stroke="#8a5050" stroke-width="0.3"/><circle cx="279.5" cy="414.0" r="0.65" fill="#b47474" stroke="#8a5050" stroke-width="0.3"/><circle cx="249.4" cy="412.5" r="1.04" fill="#b47474" stroke="#8a5050" stroke-width="0.3"/><circle cx="255.1" cy="426.3" r="0.87" fill="#b47474" stroke="#8a5050" stroke-width="0.3"/><circle cx="257.8" cy="406.6" r="0.76" fill="#b47474" stroke="#8a5050" stroke-width="0.3"/><circle cx="280.5" cy="420.3" r="1.15" fill="#b47474" stroke="#8a5050" stroke-width="0.3"/><circle cx="270.0" cy="431.5" r="0.70" fill="#b47474" stroke="#8a5050" stroke-width="0.3"/><circle cx="289.6" cy="415.4" r="0.72" fill="#b47474" stroke="#8a5050" stroke-width="0.3"/><circle cx="280.2" cy="422.1" r="0.87" fill="#b47474" stroke="#8a5050" stroke-width="0.3"/><circle cx="282.0" cy="422.0" r="1.01" fill="#b47474" stroke="#8a5050" stroke-width="0.3"/><circle cx="250.2" cy="426.2" r="0.91" fill="#b47474" stroke="#8a5050" stroke-width="0.3"/><circle cx="242.5" cy="409.0" r="0.77" fill="#b47474" stroke="#8a5050" stroke-width="0.3"/><circle cx="254.6" cy="404.4" r="0.96" fill="#b47474" stroke="#8a5050" stroke-width="0.3"/><circle cx="281.0" cy="425.5" r="0.64" fill="#b47474" stroke="#8a5050" stroke-width="0.3"/><circle cx="252.3" cy="416.1" r="0.74" fill="#b47474" stroke="#8a5050" stroke-width="0.3"/><circle cx="243.2" cy="410.8" r="0.63" fill="#b47474" stroke="#8a5050" stroke-width="0.3"/><circle cx="260.6" cy="411.4" r="0.94" fill="#b47474" stroke="#8a5050" stroke-width="0.3"/><circle cx="254.5" cy="415.1" r="0.61" fill="#b47474" stroke="#8a5050" stroke-width="0.3"/><circle cx="273.7" cy="414.4" r="0.83" fill="#b47474" stroke="#8a5050" stroke-width="0.3"/><circle cx="253.5" cy="422.8" r="0.63" fill="#b47474" stroke="#8a5050" stroke-width="0.3"/><circle cx="254.8" cy="416.0" r="0.62" fill="#b47474" stroke="#8a5050" stroke-width="0.3"/><circle cx="264.0" cy="420.3" r="0.61" fill="#b47474" stroke="#8a5050" stroke-width="0.3"/><circle cx="283.9" cy="414.5" r="0.92" fill="#b47474" stroke="#8a5050" stroke-width="0.3"/><circle cx="241.2" cy="421.1" r="0.66" fill="#b47474" stroke="#8a5050" stroke-width="0.3"/><circle cx="279.3" cy="411.8" r="0.81" fill="#b47474" stroke="#8a5050" stroke-width="0.3"/><circle cx="277.6" cy="415.8" r="0.90" fill="#b47474" stroke="#8a5050" stroke-width="0.3"/><circle cx="279.6" cy="424.9" r="1.04" fill="#b47474" stroke="#8a5050" stroke-width="0.3"/><circle cx="273.7" cy="407.1" r="0.88" fill="#b47474" stroke="#8a5050" stroke-width="0.3"/><circle cx="266.7" cy="411.2" r="1.09" fill="#b47474" stroke="#8a5050" stroke-width="0.3"/><circle cx="282.9" cy="415.1" r="0.63" fill="#b47474" stroke="#8a5050" stroke-width="0.3"/><circle cx="277.6" cy="412.2" r="1.14" fill="#b47474" stroke="#8a5050" stroke-width="0.3"/><circle cx="242.5" cy="410.7" r="0.89" fill="#b47474" stroke="#8a5050" stroke-width="0.3"/><circle cx="258.8" cy="420.5" r="0.94" fill="#b47474" stroke="#8a5050" stroke-width="0.3"/><circle cx="247.2" cy="415.3" r="1.05" fill="#b47474" stroke="#8a5050" stroke-width="0.3"/><circle cx="264.5" cy="417.0" r="1.13" fill="#b47474" stroke="#8a5050" stroke-width="0.3"/><circle cx="240.4" cy="410.9" r="0.73" fill="#b47474" stroke="#8a5050" stroke-width="0.3"/><circle cx="276.7" cy="425.7" r="0.77" fill="#b47474" stroke="#8a5050" stroke-width="0.3"/><circle cx="244.0" cy="409.1" r="1.03" fill="#b47474" stroke="#8a5050" stroke-width="0.3"/><circle cx="276.6" cy="431.2" r="0.92" fill="#b47474" stroke="#8a5050" stroke-width="0.3"/><circle cx="241.7" cy="421.3" r="0.89" fill="#b47474" stroke="#8a5050" stroke-width="0.3"/><circle cx="256.9" cy="426.9" r="1.16" fill="#b47474" stroke="#8a5050" stroke-width="0.3"/><circle cx="246.2" cy="424.0" r="0.87" fill="#b47474" stroke="#8a5050" stroke-width="0.3"/><circle cx="253.7" cy="415.5" r="0.80" fill="#b47474" stroke="#8a5050" stroke-width="0.3"/><circle cx="260.5" cy="414.7" r="0.88" fill="#b47474" stroke="#8a5050" stroke-width="0.3"/><circle cx="261.8" cy="405.6" r="1.16" fill="#b47474" stroke="#8a5050" stroke-width="0.3"/><circle cx="285.4" cy="410.6" r="1.10" fill="#b47474" stroke="#8a5050" stroke-width="0.3"/><circle cx="251.4" cy="416.9" r="0.99" fill="#b47474" stroke="#8a5050" stroke-width="0.3"/><circle cx="270.3" cy="424.5" r="0.81" fill="#b47474" stroke="#8a5050" stroke-width="0.3"/><circle cx="289.6" cy="418.5" r="0.65" fill="#b47474" stroke="#8a5050" stroke-width="0.3"/><circle cx="250.5" cy="417.7" r="1.04" fill="#b47474" stroke="#8a5050" stroke-width="0.3"/><circle cx="282.0" cy="422.8" r="0.75" fill="#b47474" stroke="#8a5050" stroke-width="0.3"/><circle cx="279.3" cy="419.5" r="1.14" fill="#b47474" stroke="#8a5050" stroke-width="0.3"/><circle cx="253.2" cy="429.3" r="1.18" fill="#b47474" stroke="#8a5050" stroke-width="0.3"/><circle cx="275.8" cy="427.5" r="0.88" fill="#b47474" stroke="#8a5050" stroke-width="0.3"/><circle cx="277.3" cy="419.0" r="0.76" fill="#b47474" stroke="#8a5050" stroke-width="0.3"/><circle cx="266.3" cy="410.5" r="1.00" fill="#b47474" stroke="#8a5050" stroke-width="0.3"/><circle cx="256.2" cy="414.8" r="1.18" fill="#b47474" stroke="#8a5050" stroke-width="0.3"/><circle cx="250.6" cy="414.0" r="0.74" fill="#b47474" stroke="#8a5050" stroke-width="0.3"/><circle cx="288.0" cy="431.9" r="1.10" fill="#b47474" stroke="#8a5050" stroke-width="0.3"/><circle cx="282.4" cy="414.3" r="1.09" fill="#b47474" stroke="#8a5050" stroke-width="0.3"/><circle cx="268.3" cy="426.4" r="1.10" fill="#b47474" stroke="#8a5050" stroke-width="0.3"/><circle cx="281.9" cy="422.9" r="0.63" fill="#b47474" stroke="#8a5050" stroke-width="0.3"/><circle cx="243.1" cy="415.3" r="1.14" fill="#b47474" stroke="#8a5050" stroke-width="0.3"/><circle cx="289.5" cy="412.1" r="0.87" fill="#b47474" stroke="#8a5050" stroke-width="0.3"/><circle cx="273.8" cy="413.3" r="0.82" fill="#b47474" stroke="#8a5050" stroke-width="0.3"/><circle cx="272.0" cy="410.0" r="0.64" fill="#b47474" stroke="#8a5050" stroke-width="0.3"/><circle cx="285.0" cy="416.9" r="0.88" fill="#b47474" stroke="#8a5050" stroke-width="0.3"/><circle cx="250.3" cy="406.0" r="0.87" fill="#b47474" stroke="#8a5050" stroke-width="0.3"/><circle cx="274.0" cy="415.3" r="0.60" fill="#b47474" stroke="#8a5050" stroke-width="0.3"/><circle cx="259.9" cy="416.3" r="0.75" fill="#b47474" stroke="#8a5050" stroke-width="0.3"/><circle cx="251.3" cy="417.8" r="1.02" fill="#b47474" stroke="#8a5050" stroke-width="0.3"/><circle cx="285.7" cy="424.9" r="1.01" fill="#b47474" stroke="#8a5050" stroke-width="0.3"/><circle cx="241.0" cy="421.6" r="1.04" fill="#b47474" stroke="#8a5050" stroke-width="0.3"/><circle cx="270.7" cy="411.8" r="0.81" fill="#b47474" stroke="#8a5050" stroke-width="0.3"/><circle cx="257.0" cy="425.0" r="0.63" fill="#b47474" stroke="#8a5050" stroke-width="0.3"/><circle cx="274.1" cy="421.9" r="1.15" fill="#b47474" stroke="#8a5050" stroke-width="0.3"/><circle cx="273.4" cy="409.4" r="1.18" fill="#b47474" stroke="#8a5050" stroke-width="0.3"/><circle cx="280.6" cy="411.7" r="1.19" fill="#b47474" stroke="#8a5050" stroke-width="0.3"/><circle cx="263.0" cy="425.6" r="0.98" fill="#b47474" stroke="#8a5050" stroke-width="0.3"/><circle cx="283.2" cy="419.3" r="0.97" fill="#b47474" stroke="#8a5050" stroke-width="0.3"/><circle cx="258.2" cy="428.4" r="0.97" fill="#b47474" stroke="#8a5050" stroke-width="0.3"/><circle cx="289.3" cy="419.3" r="0.96" fill="#b47474" stroke="#8a5050" stroke-width="0.3"/><circle cx="282.6" cy="421.1" r="0.88" fill="#b47474" stroke="#8a5050" stroke-width="0.3"/><circle cx="284.9" cy="400.5" r="0.84" fill="#b47474" stroke="#8a5050" stroke-width="0.3"/><circle cx="240.6" cy="413.5" r="1.20" fill="#b47474" stroke="#8a5050" stroke-width="0.3"/><circle cx="259.7" cy="422.1" r="0.76" fill="#b47474" stroke="#8a5050" stroke-width="0.3"/><circle cx="274.5" cy="422.3" r="0.84" fill="#b47474" stroke="#8a5050" stroke-width="0.3"/><circle cx="246.2" cy="419.3" r="0.96" fill="#b47474" stroke="#8a5050" stroke-width="0.3"/><circle cx="261.1" cy="419.0" r="1.19" fill="#b47474" stroke="#8a5050" stroke-width="0.3"/><circle cx="249.8" cy="411.4" r="0.92" fill="#b47474" stroke="#8a5050" stroke-width="0.3"/><circle cx="251.3" cy="421.7" r="1.14" fill="#b47474" stroke="#8a5050" stroke-width="0.3"/><circle cx="254.6" cy="417.3" r="0.89" fill="#b47474" stroke="#8a5050" stroke-width="0.3"/><circle cx="261.5" cy="424.9" r="0.84" fill="#eeae84" stroke="#d09070" stroke-width="0.3"/><circle cx="257.7" cy="426.6" r="0.97" fill="#eeae84" stroke="#d09070" stroke-width="0.3"/><circle cx="267.9" cy="427.3" r="1.16" fill="#eeae84" stroke="#d09070" stroke-width="0.3"/><circle cx="269.1" cy="424.1" r="1.24" fill="#eeae84" stroke="#d09070" stroke-width="0.3"/><circle cx="251.2" cy="424.6" r="1.30" fill="#eeae84" stroke="#d09070" stroke-width="0.3"/><circle cx="271.8" cy="430.4" r="1.27" fill="#eeae84" stroke="#d09070" stroke-width="0.3"/><circle cx="253.5" cy="420.4" r="1.16" fill="#eeae84" stroke="#d09070" stroke-width="0.3"/><circle cx="253.0" cy="421.7" r="1.38" fill="#eeae84" stroke="#d09070" stroke-width="0.3"/><circle cx="261.2" cy="424.4" r="1.03" fill="#eeae84" stroke="#d09070" stroke-width="0.3"/><circle cx="251.5" cy="428.0" r="1.20" fill="#eeae84" stroke="#d09070" stroke-width="0.3"/><circle cx="255.7" cy="423.9" r="1.16" fill="#eeae84" stroke="#d09070" stroke-width="0.3"/><circle cx="257.0" cy="425.6" r="1.20" fill="#eeae84" stroke="#d09070" stroke-width="0.3"/><circle cx="269.9" cy="431.6" r="1.35" fill="#eeae84" stroke="#d09070" stroke-width="0.3"/><circle cx="255.6" cy="423.3" r="1.29" fill="#eeae84" stroke="#d09070" stroke-width="0.3"/><circle cx="252.0" cy="421.8" r="0.86" fill="#eeae84" stroke="#d09070" stroke-width="0.3"/><circle cx="270.9" cy="427.3" r="0.88" fill="#eeae84" stroke="#d09070" stroke-width="0.3"/><circle cx="265.8" cy="426.2" r="1.28" fill="#eeae84" stroke="#d09070" stroke-width="0.3"/><circle cx="251.3" cy="422.3" r="1.33" fill="#eeae84" stroke="#d09070" stroke-width="0.3"/><circle cx="268.0" cy="424.7" r="0.82" fill="#eeae84" stroke="#d09070" stroke-width="0.3"/><circle cx="265.4" cy="426.3" r="0.82" fill="#eeae84" stroke="#d09070" stroke-width="0.3"/><circle cx="261.6" cy="427.8" r="0.87" fill="#eeae84" stroke="#d09070" stroke-width="0.3"/><circle cx="265.9" cy="425.0" r="1.22" fill="#eeae84" stroke="#d09070" stroke-width="0.3"/><circle cx="257.2" cy="424.3" r="1.05" fill="#eeae84" stroke="#d09070" stroke-width="0.3"/><circle cx="261.6" cy="422.5" r="0.97" fill="#eeae84" stroke="#d09070" stroke-width="0.3"/><circle cx="256.3" cy="425.1" r="1.26" fill="#eeae84" stroke="#d09070" stroke-width="0.3"/><circle cx="339.5" cy="414.5" r="0.83" fill="#b47474" stroke="#8a5050" stroke-width="0.3"/><circle cx="290.2" cy="427.1" r="1.39" fill="#b47474" stroke="#8a5050" stroke-width="0.3"/><circle cx="369.5" cy="410.7" r="0.74" fill="#b47474" stroke="#8a5050" stroke-width="0.3"/><circle cx="312.0" cy="425.6" r="1.14" fill="#b47474" stroke="#8a5050" stroke-width="0.3"/><circle cx="419.0" cy="409.9" r="0.91" fill="#b47474" stroke="#8a5050" stroke-width="0.3"/><circle cx="321.5" cy="419.5" r="0.72" fill="#b47474" stroke="#8a5050" stroke-width="0.3"/><circle cx="356.7" cy="417.5" r="0.99" fill="#b47474" stroke="#8a5050" stroke-width="0.3"/><circle cx="339.7" cy="421.6" r="1.28" fill="#b47474" stroke="#8a5050" stroke-width="0.3"/><circle cx="361.9" cy="412.5" r="0.77" fill="#b47474" stroke="#8a5050" stroke-width="0.3"/><circle cx="294.0" cy="411.1" r="0.74" fill="#b47474" stroke="#8a5050" stroke-width="0.3"/><circle cx="384.8" cy="404.0" r="0.86" fill="#b47474" stroke="#8a5050" stroke-width="0.3"/><circle cx="382.8" cy="413.9" r="0.87" fill="#b47474" stroke="#8a5050" stroke-width="0.3"/><circle cx="311.1" cy="412.0" r="1.38" fill="#b47474" stroke="#8a5050" stroke-width="0.3"/><circle cx="413.6" cy="412.9" r="0.74" fill="#b47474" stroke="#8a5050" stroke-width="0.3"/><circle cx="339.8" cy="414.5" r="1.34" fill="#b47474" stroke="#8a5050" stroke-width="0.3"/><circle cx="299.0" cy="418.6" r="1.32" fill="#b47474" stroke="#8a5050" stroke-width="0.3"/><circle cx="337.7" cy="419.2" r="0.76" fill="#b47474" stroke="#8a5050" stroke-width="0.3"/><circle cx="338.1" cy="419.2" r="1.13" fill="#b47474" stroke="#8a5050" stroke-width="0.3"/><circle cx="378.8" cy="415.7" r="0.77" fill="#b47474" stroke="#8a5050" stroke-width="0.3"/><circle cx="362.1" cy="418.7" r="1.27" fill="#b47474" stroke="#8a5050" stroke-width="0.3"/><circle cx="325.4" cy="420.9" r="1.28" fill="#b47474" stroke="#8a5050" stroke-width="0.3"/><circle cx="322.9" cy="412.1" r="0.70" fill="#b47474" stroke="#8a5050" stroke-width="0.3"/><circle cx="364.8" cy="418.7" r="1.08" fill="#b47474" stroke="#8a5050" stroke-width="0.3"/><circle cx="386.5" cy="416.2" r="0.86" fill="#b47474" stroke="#8a5050" stroke-width="0.3"/><circle cx="316.9" cy="416.5" r="1.04" fill="#b47474" stroke="#8a5050" stroke-width="0.3"/><circle cx="328.0" cy="417.0" r="1.19" fill="#b47474" stroke="#8a5050" stroke-width="0.3"/><circle cx="346.2" cy="415.7" r="0.73" fill="#b47474" stroke="#8a5050" stroke-width="0.3"/><circle cx="306.3" cy="427.9" r="1.32" fill="#b47474" stroke="#8a5050" stroke-width="0.3"/><circle cx="342.6" cy="413.1" r="1.39" fill="#b47474" stroke="#8a5050" stroke-width="0.3"/><circle cx="313.0" cy="417.2" r="0.85" fill="#b47474" stroke="#8a5050" stroke-width="0.3"/><circle cx="290.6" cy="407.2" r="0.79" fill="#b47474" stroke="#8a5050" stroke-width="0.3"/><circle cx="301.3" cy="421.3" r="1.03" fill="#b47474" stroke="#8a5050" stroke-width="0.3"/><circle cx="305.5" cy="412.6" r="1.15" fill="#b47474" stroke="#8a5050" stroke-width="0.3"/><circle cx="308.5" cy="423.5" r="1.15" fill="#b47474" stroke="#8a5050" stroke-width="0.3"/><circle cx="398.1" cy="413.1" r="1.28" fill="#b47474" stroke="#8a5050" stroke-width="0.3"/><circle cx="308.5" cy="418.1" r="1.04" fill="#b47474" stroke="#8a5050" stroke-width="0.3"/><circle cx="293.8" cy="421.6" r="1.31" fill="#b47474" stroke="#8a5050" stroke-width="0.3"/><circle cx="382.0" cy="412.3" r="1.34" fill="#b47474" stroke="#8a5050" stroke-width="0.3"/><circle cx="402.7" cy="404.0" r="1.28" fill="#b47474" stroke="#8a5050" stroke-width="0.3"/><circle cx="398.8" cy="409.6" r="0.74" fill="#b47474" stroke="#8a5050" stroke-width="0.3"/><circle cx="393.2" cy="412.9" r="1.03" fill="#b47474" stroke="#8a5050" stroke-width="0.3"/><circle cx="423.2" cy="407.0" r="1.31" fill="#b47474" stroke="#8a5050" stroke-width="0.3"/><circle cx="420.8" cy="412.3" r="1.23" fill="#b47474" stroke="#8a5050" stroke-width="0.3"/><circle cx="409.1" cy="411.4" r="1.13" fill="#b47474" stroke="#8a5050" stroke-width="0.3"/><circle cx="298.6" cy="417.2" r="1.17" fill="#b47474" stroke="#8a5050" stroke-width="0.3"/><circle cx="418.6" cy="405.9" r="1.10" fill="#b47474" stroke="#8a5050" stroke-width="0.3"/><circle cx="298.8" cy="418.9" r="1.02" fill="#b47474" stroke="#8a5050" stroke-width="0.3"/><circle cx="300.8" cy="411.0" r="1.22" fill="#b47474" stroke="#8a5050" stroke-width="0.3"/><circle cx="405.2" cy="412.5" r="1.02" fill="#b47474" stroke="#8a5050" stroke-width="0.3"/><circle cx="349.5" cy="424.2" r="1.10" fill="#b47474" stroke="#8a5050" stroke-width="0.3"/><circle cx="345.1" cy="419.6" r="0.80" fill="#b47474" stroke="#8a5050" stroke-width="0.3"/><circle cx="351.9" cy="417.8" r="0.76" fill="#b47474" stroke="#8a5050" stroke-width="0.3"/><circle cx="347.4" cy="417.2" r="0.80" fill="#b47474" stroke="#8a5050" stroke-width="0.3"/><circle cx="401.7" cy="402.0" r="1.09" fill="#b47474" stroke="#8a5050" stroke-width="0.3"/><circle cx="311.6" cy="412.6" r="0.89" fill="#b47474" stroke="#8a5050" stroke-width="0.3"/><circle cx="403.3" cy="403.3" r="1.14" fill="#b47474" stroke="#8a5050" stroke-width="0.3"/><circle cx="296.5" cy="415.3" r="0.84" fill="#b47474" stroke="#8a5050" stroke-width="0.3"/><circle cx="348.3" cy="422.8" r="1.11" fill="#b47474" stroke="#8a5050" stroke-width="0.3"/><circle cx="325.0" cy="409.1" r="0.73" fill="#b47474" stroke="#8a5050" stroke-width="0.3"/><circle cx="365.4" cy="403.8" r="0.84" fill="#b47474" stroke="#8a5050" stroke-width="0.3"/><circle cx="317.6" cy="425.2" r="0.71" fill="#b47474" stroke="#8a5050" stroke-width="0.3"/><circle cx="293.9" cy="422.6" r="0.81" fill="#b47474" stroke="#8a5050" stroke-width="0.3"/><circle cx="292.1" cy="409.5" r="1.10" fill="#b47474" stroke="#8a5050" stroke-width="0.3"/><circle cx="323.3" cy="410.7" r="1.22" fill="#b47474" stroke="#8a5050" stroke-width="0.3"/><circle cx="327.8" cy="411.7" r="1.12" fill="#b47474" stroke="#8a5050" stroke-width="0.3"/><circle cx="329.1" cy="419.2" r="1.31" fill="#b47474" stroke="#8a5050" stroke-width="0.3"/><circle cx="381.6" cy="406.9" r="1.32" fill="#b47474" stroke="#8a5050" stroke-width="0.3"/><circle cx="336.7" cy="424.3" r="0.88" fill="#b47474" stroke="#8a5050" stroke-width="0.3"/><circle cx="377.3" cy="409.4" r="0.92" fill="#b47474" stroke="#8a5050" stroke-width="0.3"/><circle cx="305.3" cy="425.7" r="0.87" fill="#b47474" stroke="#8a5050" stroke-width="0.3"/><circle cx="303.5" cy="420.7" r="1.24" fill="#b47474" stroke="#8a5050" stroke-width="0.3"/><circle cx="309.2" cy="419.1" r="0.95" fill="#b47474" stroke="#8a5050" stroke-width="0.3"/><circle cx="415.9" cy="405.0" r="1.28" fill="#b47474" stroke="#8a5050" stroke-width="0.3"/><circle cx="402.7" cy="414.5" r="1.35" fill="#b47474" stroke="#8a5050" stroke-width="0.3"/><circle cx="374.0" cy="410.9" r="1.11" fill="#b47474" stroke="#8a5050" stroke-width="0.3"/><circle cx="333.7" cy="413.7" r="0.87" fill="#b47474" stroke="#8a5050" stroke-width="0.3"/><circle cx="376.7" cy="415.5" r="1.30" fill="#b47474" stroke="#8a5050" stroke-width="0.3"/><circle cx="387.2" cy="409.6" r="0.96" fill="#b47474" stroke="#8a5050" stroke-width="0.3"/><circle cx="348.6" cy="417.2" r="1.29" fill="#b47474" stroke="#8a5050" stroke-width="0.3"/><circle cx="363.8" cy="406.9" r="1.09" fill="#b47474" stroke="#8a5050" stroke-width="0.3"/><circle cx="381.6" cy="409.7" r="1.09" fill="#b47474" stroke="#8a5050" stroke-width="0.3"/><circle cx="364.6" cy="413.6" r="1.01" fill="#b47474" stroke="#8a5050" stroke-width="0.3"/><circle cx="409.7" cy="410.6" r="1.36" fill="#b47474" stroke="#8a5050" stroke-width="0.3"/><circle cx="329.6" cy="413.6" r="1.02" fill="#b47474" stroke="#8a5050" stroke-width="0.3"/><circle cx="314.1" cy="416.3" r="1.25" fill="#b47474" stroke="#8a5050" stroke-width="0.3"/><circle cx="301.5" cy="419.6" r="0.84" fill="#b47474" stroke="#8a5050" stroke-width="0.3"/><circle cx="316.1" cy="423.0" r="0.76" fill="#b47474" stroke="#8a5050" stroke-width="0.3"/><circle cx="360.7" cy="417.3" r="1.12" fill="#b47474" stroke="#8a5050" stroke-width="0.3"/><circle cx="374.3" cy="417.7" r="1.04" fill="#b47474" stroke="#8a5050" stroke-width="0.3"/><circle cx="372.7" cy="410.5" r="1.18" fill="#b47474" stroke="#8a5050" stroke-width="0.3"/><circle cx="319.1" cy="424.4" r="1.21" fill="#b47474" stroke="#8a5050" stroke-width="0.3"/><circle cx="369.0" cy="419.2" r="1.08" fill="#b47474" stroke="#8a5050" stroke-width="0.3"/><circle cx="393.7" cy="407.9" r="0.90" fill="#b47474" stroke="#8a5050" stroke-width="0.3"/><circle cx="340.3" cy="409.9" r="1.20" fill="#b47474" stroke="#8a5050" stroke-width="0.3"/><circle cx="315.0" cy="422.4" r="1.37" fill="#b47474" stroke="#8a5050" stroke-width="0.3"/><circle cx="422.6" cy="394.8" r="1.13" fill="#b47474" stroke="#8a5050" stroke-width="0.3"/><circle cx="341.9" cy="417.6" r="0.76" fill="#b47474" stroke="#8a5050" stroke-width="0.3"/><circle cx="292.3" cy="412.3" r="1.13" fill="#b47474" stroke="#8a5050" stroke-width="0.3"/><circle cx="395.7" cy="405.0" r="1.01" fill="#b47474" stroke="#8a5050" stroke-width="0.3"/><circle cx="390.2" cy="403.9" r="1.08" fill="#b47474" stroke="#8a5050" stroke-width="0.3"/><circle cx="380.1" cy="406.7" r="1.09" fill="#b47474" stroke="#8a5050" stroke-width="0.3"/><circle cx="302.2" cy="415.5" r="1.00" fill="#b47474" stroke="#8a5050" stroke-width="0.3"/><circle cx="420.9" cy="402.5" r="1.04" fill="#b47474" stroke="#8a5050" stroke-width="0.3"/><circle cx="312.5" cy="414.3" r="0.82" fill="#b47474" stroke="#8a5050" stroke-width="0.3"/><circle cx="410.0" cy="408.1" r="0.82" fill="#b47474" stroke="#8a5050" stroke-width="0.3"/><circle cx="386.2" cy="412.3" r="1.40" fill="#b47474" stroke="#8a5050" stroke-width="0.3"/><circle cx="302.0" cy="424.3" r="1.30" fill="#b47474" stroke="#8a5050" stroke-width="0.3"/><circle cx="290.8" cy="429.8" r="1.01" fill="#b47474" stroke="#8a5050" stroke-width="0.3"/><circle cx="376.1" cy="409.9" r="1.02" fill="#b47474" stroke="#8a5050" stroke-width="0.3"/><circle cx="312.1" cy="415.7" r="1.31" fill="#b47474" stroke="#8a5050" stroke-width="0.3"/><circle cx="305.4" cy="423.2" r="1.08" fill="#b47474" stroke="#8a5050" stroke-width="0.3"/><circle cx="353.6" cy="406.8" r="1.12" fill="#b47474" stroke="#8a5050" stroke-width="0.3"/><circle cx="333.7" cy="415.5" r="1.37" fill="#b47474" stroke="#8a5050" stroke-width="0.3"/><circle cx="370.9" cy="411.5" r="1.31" fill="#b47474" stroke="#8a5050" stroke-width="0.3"/><circle cx="296.3" cy="425.2" r="1.15" fill="#b47474" stroke="#8a5050" stroke-width="0.3"/><circle cx="355.8" cy="414.2" r="0.86" fill="#b47474" stroke="#8a5050" stroke-width="0.3"/><circle cx="349.1" cy="418.8" r="1.00" fill="#b47474" stroke="#8a5050" stroke-width="0.3"/><circle cx="371.2" cy="411.4" r="1.03" fill="#b47474" stroke="#8a5050" stroke-width="0.3"/><circle cx="397.4" cy="414.9" r="1.26" fill="#b47474" stroke="#8a5050" stroke-width="0.3"/><circle cx="322.0" cy="425.2" r="0.93" fill="#b47474" stroke="#8a5050" stroke-width="0.3"/><circle cx="324.4" cy="418.1" r="1.20" fill="#b47474" stroke="#8a5050" stroke-width="0.3"/><circle cx="349.0" cy="414.4" r="1.30" fill="#b47474" stroke="#8a5050" stroke-width="0.3"/><circle cx="325.7" cy="415.5" r="1.31" fill="#b47474" stroke="#8a5050" stroke-width="0.3"/><circle cx="349.2" cy="410.6" r="1.07" fill="#b47474" stroke="#8a5050" stroke-width="0.3"/><circle cx="364.0" cy="417.2" r="1.09" fill="#b47474" stroke="#8a5050" stroke-width="0.3"/><circle cx="418.2" cy="408.1" r="1.39" fill="#b47474" stroke="#8a5050" stroke-width="0.3"/><circle cx="292.1" cy="416.8" r="0.74" fill="#b47474" stroke="#8a5050" stroke-width="0.3"/><circle cx="400.5" cy="408.5" r="0.82" fill="#b47474" stroke="#8a5050" stroke-width="0.3"/><circle cx="356.9" cy="415.9" r="1.29" fill="#b47474" stroke="#8a5050" stroke-width="0.3"/><circle cx="292.7" cy="419.4" r="0.74" fill="#b47474" stroke="#8a5050" stroke-width="0.3"/><circle cx="332.5" cy="419.3" r="1.04" fill="#b47474" stroke="#8a5050" stroke-width="0.3"/><circle cx="420.8" cy="403.4" r="1.11" fill="#b47474" stroke="#8a5050" stroke-width="0.3"/><circle cx="412.9" cy="401.8" r="1.17" fill="#b47474" stroke="#8a5050" stroke-width="0.3"/><circle cx="322.4" cy="415.0" r="0.78" fill="#b47474" stroke="#8a5050" stroke-width="0.3"/><circle cx="414.8" cy="411.7" r="1.04" fill="#b47474" stroke="#8a5050" stroke-width="0.3"/><circle cx="317.0" cy="410.0" r="0.89" fill="#b47474" stroke="#8a5050" stroke-width="0.3"/><circle cx="369.3" cy="413.0" r="0.76" fill="#b47474" stroke="#8a5050" stroke-width="0.3"/><circle cx="322.6" cy="421.3" r="1.18" fill="#b47474" stroke="#8a5050" stroke-width="0.3"/><circle cx="320.7" cy="424.5" r="1.18" fill="#b47474" stroke="#8a5050" stroke-width="0.3"/><circle cx="369.1" cy="412.7" r="0.93" fill="#b47474" stroke="#8a5050" stroke-width="0.3"/><circle cx="424.5" cy="394.8" r="1.02" fill="#b47474" stroke="#8a5050" stroke-width="0.3"/><circle cx="358.8" cy="415.3" r="1.15" fill="#b47474" stroke="#8a5050" stroke-width="0.3"/><circle cx="303.9" cy="420.9" r="0.72" fill="#b47474" stroke="#8a5050" stroke-width="0.3"/><circle cx="301.4" cy="415.8" r="0.88" fill="#b47474" stroke="#8a5050" stroke-width="0.3"/><circle cx="393.6" cy="408.1" r="1.01" fill="#b47474" stroke="#8a5050" stroke-width="0.3"/><circle cx="309.9" cy="412.0" r="1.14" fill="#b47474" stroke="#8a5050" stroke-width="0.3"/><circle cx="350.1" cy="401.1" r="1.08" fill="#b47474" stroke="#8a5050" stroke-width="0.3"/><circle cx="384.9" cy="414.1" r="0.87" fill="#b47474" stroke="#8a5050" stroke-width="0.3"/><circle cx="395.3" cy="402.2" r="0.77" fill="#b47474" stroke="#8a5050" stroke-width="0.3"/><circle cx="307.3" cy="415.8" r="1.09" fill="#b47474" stroke="#8a5050" stroke-width="0.3"/><circle cx="328.3" cy="418.8" r="1.36" fill="#b47474" stroke="#8a5050" stroke-width="0.3"/><circle cx="348.5" cy="420.9" r="1.02" fill="#b47474" stroke="#8a5050" stroke-width="0.3"/><circle cx="393.8" cy="399.1" r="1.04" fill="#b47474" stroke="#8a5050" stroke-width="0.3"/><circle cx="343.9" cy="422.0" r="1.35" fill="#b47474" stroke="#8a5050" stroke-width="0.3"/><circle cx="382.9" cy="415.0" r="0.92" fill="#b47474" stroke="#8a5050" stroke-width="0.3"/><circle cx="360.9" cy="411.0" r="1.24" fill="#b47474" stroke="#8a5050" stroke-width="0.3"/><circle cx="290.9" cy="422.9" r="1.04" fill="#b47474" stroke="#8a5050" stroke-width="0.3"/><circle cx="359.1" cy="419.1" r="0.88" fill="#b47474" stroke="#8a5050" stroke-width="0.3"/><circle cx="344.5" cy="423.2" r="0.87" fill="#b47474" stroke="#8a5050" stroke-width="0.3"/><circle cx="370.7" cy="405.7" r="1.00" fill="#b47474" stroke="#8a5050" stroke-width="0.3"/><circle cx="395.8" cy="411.7" r="1.09" fill="#b47474" stroke="#8a5050" stroke-width="0.3"/><circle cx="304.2" cy="415.2" r="0.91" fill="#b47474" stroke="#8a5050" stroke-width="0.3"/><circle cx="418.0" cy="408.4" r="1.04" fill="#b47474" stroke="#8a5050" stroke-width="0.3"/><circle cx="389.7" cy="412.6" r="0.78" fill="#b47474" stroke="#8a5050" stroke-width="0.3"/><circle cx="319.9" cy="424.9" r="0.79" fill="#b47474" stroke="#8a5050" stroke-width="0.3"/><circle cx="293.3" cy="429.8" r="0.96" fill="#b47474" stroke="#8a5050" stroke-width="0.3"/><circle cx="291.7" cy="411.9" r="1.21" fill="#b47474" stroke="#8a5050" stroke-width="0.3"/><circle cx="379.5" cy="418.4" r="0.75" fill="#b47474" stroke="#8a5050" stroke-width="0.3"/><circle cx="321.5" cy="421.4" r="1.25" fill="#b47474" stroke="#8a5050" stroke-width="0.3"/><circle cx="393.6" cy="409.4" r="1.26" fill="#b47474" stroke="#8a5050" stroke-width="0.3"/><circle cx="371.5" cy="417.8" r="1.07" fill="#b47474" stroke="#8a5050" stroke-width="0.3"/><circle cx="315.0" cy="421.9" r="1.07" fill="#b47474" stroke="#8a5050" stroke-width="0.3"/><circle cx="370.5" cy="413.6" r="1.02" fill="#b47474" stroke="#8a5050" stroke-width="0.3"/><circle cx="375.9" cy="405.2" r="0.99" fill="#b47474" stroke="#8a5050" stroke-width="0.3"/><circle cx="403.7" cy="406.2" r="1.07" fill="#b47474" stroke="#8a5050" stroke-width="0.3"/><circle cx="408.9" cy="416.4" r="1.24" fill="#b47474" stroke="#8a5050" stroke-width="0.3"/><circle cx="383.2" cy="409.4" r="1.09" fill="#b47474" stroke="#8a5050" stroke-width="0.3"/><circle cx="323.4" cy="424.9" r="0.87" fill="#b47474" stroke="#8a5050" stroke-width="0.3"/><circle cx="372.7" cy="416.2" r="1.08" fill="#b47474" stroke="#8a5050" stroke-width="0.3"/><circle cx="372.0" cy="408.9" r="0.91" fill="#b47474" stroke="#8a5050" stroke-width="0.3"/><circle cx="384.1" cy="411.5" r="1.32" fill="#b47474" stroke="#8a5050" stroke-width="0.3"/><circle cx="333.0" cy="416.4" r="1.00" fill="#b47474" stroke="#8a5050" stroke-width="0.3"/><circle cx="375.4" cy="416.2" r="1.23" fill="#b47474" stroke="#8a5050" stroke-width="0.3"/><circle cx="393.6" cy="411.5" r="1.38" fill="#b47474" stroke="#8a5050" stroke-width="0.3"/><circle cx="350.6" cy="408.2" r="1.01" fill="#b47474" stroke="#8a5050" stroke-width="0.3"/><circle cx="377.9" cy="407.6" r="0.99" fill="#b47474" stroke="#8a5050" stroke-width="0.3"/><circle cx="365.2" cy="421.7" r="1.06" fill="#b47474" stroke="#8a5050" stroke-width="0.3"/><circle cx="339.2" cy="421.6" r="1.03" fill="#b47474" stroke="#8a5050" stroke-width="0.3"/><circle cx="418.4" cy="408.4" r="0.80" fill="#b47474" stroke="#8a5050" stroke-width="0.3"/><circle cx="411.9" cy="415.7" r="0.90" fill="#b47474" stroke="#8a5050" stroke-width="0.3"/><circle cx="292.6" cy="417.5" r="1.32" fill="#b47474" stroke="#8a5050" stroke-width="0.3"/><circle cx="299.2" cy="415.5" r="1.17" fill="#b47474" stroke="#8a5050" stroke-width="0.3"/><circle cx="401.2" cy="418.5" r="1.28" fill="#b47474" stroke="#8a5050" stroke-width="0.3"/><circle cx="314.1" cy="416.8" r="0.97" fill="#b47474" stroke="#8a5050" stroke-width="0.3"/><circle cx="356.9" cy="414.6" r="1.27" fill="#b47474" stroke="#8a5050" stroke-width="0.3"/><circle cx="329.0" cy="417.6" r="0.88" fill="#b47474" stroke="#8a5050" stroke-width="0.3"/><circle cx="297.9" cy="416.6" r="1.11" fill="#b47474" stroke="#8a5050" stroke-width="0.3"/><circle cx="369.1" cy="411.4" r="1.36" fill="#b47474" stroke="#8a5050" stroke-width="0.3"/><circle cx="387.5" cy="404.8" r="1.10" fill="#b47474" stroke="#8a5050" stroke-width="0.3"/><circle cx="407.9" cy="410.0" r="1.09" fill="#b47474" stroke="#8a5050" stroke-width="0.3"/><circle cx="370.9" cy="415.9" r="1.37" fill="#b47474" stroke="#8a5050" stroke-width="0.3"/><circle cx="381.7" cy="421.1" r="1.03" fill="#b47474" stroke="#8a5050" stroke-width="0.3"/><circle cx="317.8" cy="422.5" r="1.23" fill="#b47474" stroke="#8a5050" stroke-width="0.3"/><circle cx="374.8" cy="415.3" r="0.88" fill="#b47474" stroke="#8a5050" stroke-width="0.3"/><circle cx="353.5" cy="410.2" r="1.03" fill="#b47474" stroke="#8a5050" stroke-width="0.3"/><circle cx="337.5" cy="415.3" r="0.88" fill="#b47474" stroke="#8a5050" stroke-width="0.3"/><circle cx="306.0" cy="417.6" r="0.72" fill="#b47474" stroke="#8a5050" stroke-width="0.3"/><circle cx="360.9" cy="413.6" r="1.33" fill="#b47474" stroke="#8a5050" stroke-width="0.3"/><circle cx="372.1" cy="407.3" r="1.16" fill="#b47474" stroke="#8a5050" stroke-width="0.3"/><circle cx="328.6" cy="422.7" r="1.29" fill="#b47474" stroke="#8a5050" stroke-width="0.3"/><circle cx="323.0" cy="416.3" r="1.37" fill="#b47474" stroke="#8a5050" stroke-width="0.3"/><circle cx="382.2" cy="413.6" r="0.81" fill="#b47474" stroke="#8a5050" stroke-width="0.3"/><circle cx="342.0" cy="424.4" r="0.96" fill="#b47474" stroke="#8a5050" stroke-width="0.3"/><circle cx="335.2" cy="416.3" r="0.98" fill="#b47474" stroke="#8a5050" stroke-width="0.3"/><circle cx="302.6" cy="421.3" r="1.26" fill="#b47474" stroke="#8a5050" stroke-width="0.3"/><circle cx="337.8" cy="416.5" r="1.38" fill="#b47474" stroke="#8a5050" stroke-width="0.3"/><circle cx="408.7" cy="404.1" r="1.19" fill="#b47474" stroke="#8a5050" stroke-width="0.3"/><circle cx="403.5" cy="417.1" r="0.99" fill="#b47474" stroke="#8a5050" stroke-width="0.3"/><circle cx="370.0" cy="406.7" r="0.75" fill="#b47474" stroke="#8a5050" stroke-width="0.3"/><circle cx="339.2" cy="414.2" r="0.71" fill="#b47474" stroke="#8a5050" stroke-width="0.3"/><circle cx="391.8" cy="414.5" r="0.75" fill="#b47474" stroke="#8a5050" stroke-width="0.3"/><circle cx="347.1" cy="406.7" r="1.14" fill="#b47474" stroke="#8a5050" stroke-width="0.3"/><circle cx="309.9" cy="419.9" r="1.17" fill="#b47474" stroke="#8a5050" stroke-width="0.3"/><circle cx="321.7" cy="415.2" r="1.37" fill="#b47474" stroke="#8a5050" stroke-width="0.3"/><circle cx="350.6" cy="412.2" r="0.89" fill="#b47474" stroke="#8a5050" stroke-width="0.3"/><circle cx="331.9" cy="423.2" r="0.87" fill="#b47474" stroke="#8a5050" stroke-width="0.3"/><circle cx="362.2" cy="412.6" r="1.17" fill="#b47474" stroke="#8a5050" stroke-width="0.3"/><circle cx="417.0" cy="411.5" r="1.21" fill="#b47474" stroke="#8a5050" stroke-width="0.3"/><circle cx="356.9" cy="416.8" r="1.18" fill="#b47474" stroke="#8a5050" stroke-width="0.3"/><circle cx="381.1" cy="411.8" r="0.82" fill="#b47474" stroke="#8a5050" stroke-width="0.3"/><circle cx="331.0" cy="419.7" r="0.83" fill="#b47474" stroke="#8a5050" stroke-width="0.3"/><circle cx="328.7" cy="419.9" r="1.07" fill="#b47474" stroke="#8a5050" stroke-width="0.3"/><circle cx="392.3" cy="409.6" r="0.81" fill="#b47474" stroke="#8a5050" stroke-width="0.3"/><circle cx="302.7" cy="418.7" r="0.80" fill="#b47474" stroke="#8a5050" stroke-width="0.3"/><circle cx="356.2" cy="412.8" r="0.91" fill="#b47474" stroke="#8a5050" stroke-width="0.3"/><circle cx="396.0" cy="403.5" r="0.96" fill="#b47474" stroke="#8a5050" stroke-width="0.3"/><circle cx="293.7" cy="418.8" r="1.27" fill="#b47474" stroke="#8a5050" stroke-width="0.3"/><circle cx="342.6" cy="418.1" r="1.00" fill="#b47474" stroke="#8a5050" stroke-width="0.3"/><circle cx="362.9" cy="411.6" r="0.81" fill="#b47474" stroke="#8a5050" stroke-width="0.3"/><circle cx="300.0" cy="429.9" r="1.40" fill="#b47474" stroke="#8a5050" stroke-width="0.3"/><circle cx="363.5" cy="409.0" r="1.21" fill="#b47474" stroke="#8a5050" stroke-width="0.3"/><circle cx="371.2" cy="409.3" r="1.15" fill="#b47474" stroke="#8a5050" stroke-width="0.3"/><circle cx="349.8" cy="416.3" r="1.18" fill="#b47474" stroke="#8a5050" stroke-width="0.3"/><circle cx="295.7" cy="418.3" r="1.23" fill="#b47474" stroke="#8a5050" stroke-width="0.3"/><circle cx="354.7" cy="417.4" r="0.90" fill="#b47474" stroke="#8a5050" stroke-width="0.3"/><circle cx="395.5" cy="405.2" r="0.97" fill="#b47474" stroke="#8a5050" stroke-width="0.3"/><circle cx="290.3" cy="418.5" r="0.74" fill="#b47474" stroke="#8a5050" stroke-width="0.3"/><circle cx="295.0" cy="429.0" r="1.08" fill="#b47474" stroke="#8a5050" stroke-width="0.3"/><circle cx="417.0" cy="406.2" r="1.08" fill="#b47474" stroke="#8a5050" stroke-width="0.3"/><circle cx="382.0" cy="414.3" r="1.13" fill="#b47474" stroke="#8a5050" stroke-width="0.3"/><circle cx="345.2" cy="419.8" r="1.16" fill="#b47474" stroke="#8a5050" stroke-width="0.3"/><circle cx="336.3" cy="416.1" r="1.04" fill="#b47474" stroke="#8a5050" stroke-width="0.3"/><circle cx="347.8" cy="413.3" r="1.07" fill="#b47474" stroke="#8a5050" stroke-width="0.3"/><circle cx="297.4" cy="419.4" r="0.82" fill="#b47474" stroke="#8a5050" stroke-width="0.3"/><circle cx="354.3" cy="423.0" r="1.40" fill="#b47474" stroke="#8a5050" stroke-width="0.3"/><circle cx="372.3" cy="411.2" r="1.38" fill="#b47474" stroke="#8a5050" stroke-width="0.3"/><circle cx="342.3" cy="408.5" r="0.98" fill="#b47474" stroke="#8a5050" stroke-width="0.3"/><circle cx="391.9" cy="413.9" r="0.89" fill="#b47474" stroke="#8a5050" stroke-width="0.3"/><circle cx="365.2" cy="414.1" r="1.21" fill="#b47474" stroke="#8a5050" stroke-width="0.3"/><circle cx="406.3" cy="402.0" r="0.76" fill="#b47474" stroke="#8a5050" stroke-width="0.3"/><circle cx="144.0" cy="425.2" r="1.10" fill="#b47474" stroke="#8a5050" stroke-width="0.3"/><circle cx="180.8" cy="450.8" r="1.10" fill="#b47474" stroke="#8a5050" stroke-width="0.3"/><circle cx="218.0" cy="446.8" r="1.50" fill="#b47474" stroke="#8a5050" stroke-width="0.3"/><circle cx="270.0" cy="452.8" r="0.90" fill="#b47474" stroke="#8a5050" stroke-width="0.3"/><circle cx="261.0" cy="399.0" r="2.00" fill="#b47474" stroke="#8a5050" stroke-width="0.3"/><circle cx="228.0" cy="346.8" r="0.90" fill="#b47474" stroke="#8a5050" stroke-width="0.3"/><circle cx="344.6" cy="384.2" r="1.10" fill="#b47474" stroke="#8a5050" stroke-width="0.3"/><circle cx="347.0" cy="383.6" r="1.10" fill="#b47474" stroke="#8a5050" stroke-width="0.3"/><circle cx="380.0" cy="393.0" r="1.10" fill="#b47474" stroke="#8a5050" stroke-width="0.3"/><circle cx="400.0" cy="398.0" r="1.10" fill="#b47474" stroke="#8a5050" stroke-width="0.3"/><circle cx="370.0" cy="399.0" r="1.10" fill="#b47474" stroke="#8a5050" stroke-width="0.3"/><circle cx="410.0" cy="402.0" r="1.10" fill="#b47474" stroke="#8a5050" stroke-width="0.3"/><circle cx="420.0" cy="404.0" r="1.10" fill="#b47474" stroke="#8a5050" stroke-width="0.3"/><circle cx="413.0" cy="431.0" r="1.10" fill="#b47474" stroke="#8a5050" stroke-width="0.3"/><circle cx="371.0" cy="428.0" r="1.10" fill="#b47474" stroke="#8a5050" stroke-width="0.3"/><circle cx="384.0" cy="431.0" r="1.10" fill="#b47474" stroke="#8a5050" stroke-width="0.3"/><circle cx="350.0" cy="436.0" r="1.10" fill="#b47474" stroke="#8a5050" stroke-width="0.3"/><circle cx="338.0" cy="432.0" r="1.10" fill="#b47474" stroke="#8a5050" stroke-width="0.3"/><circle cx="300.0" cy="435.0" r="1.10" fill="#b47474" stroke="#8a5050" stroke-width="0.3"/><circle cx="262.0" cy="430.0" r="1.10" fill="#b47474" stroke="#8a5050" stroke-width="0.3"/><circle cx="258.0" cy="440.0" r="1.10" fill="#b47474" stroke="#8a5050" stroke-width="0.3"/><circle cx="286.0" cy="437.0" r="1.30" fill="#b4f0c0" stroke="#48a058" stroke-width="0.5"/><circle cx="305.0" cy="436.0" r="1.30" fill="#b4f0c0" stroke="#48a058" stroke-width="0.5"/><circle cx="310.0" cy="438.0" r="1.30" fill="#b4f0c0" stroke="#48a058" stroke-width="0.5"/><circle cx="314.0" cy="440.0" r="1.30" fill="#b4f0c0" stroke="#48a058" stroke-width="0.5"/><circle cx="272.0" cy="438.0" r="1.30" fill="#b4f0c0" stroke="#48a058" stroke-width="0.5"/><circle cx="298.0" cy="442.0" r="1.30" fill="#b4f0c0" stroke="#48a058" stroke-width="0.5"/><circle cx="85.6" cy="382.0" r="0.90" fill="#1e4a22" stroke="#10300f" stroke-width="0.3"/><circle cx="153.0" cy="365.6" r="0.80" fill="#1e4a22" stroke="#10300f" stroke-width="0.3"/><circle cx="150.0" cy="391.0" r="1.50" fill="#1e4a22" stroke="#10300f" stroke-width="0.3"/><circle cx="156.0" cy="392.4" r="1.10" fill="#1e4a22" stroke="#10300f" stroke-width="0.3"/><circle cx="181.0" cy="392.0" r="1.20" fill="#1e4a22" stroke="#10300f" stroke-width="0.3"/><circle cx="176.8" cy="428.8" r="0.90" fill="#1e4a22" stroke="#10300f" stroke-width="0.3"/><circle cx="210.8" cy="432.0" r="0.90" fill="#1e4a22" stroke="#10300f" stroke-width="0.3"/><circle cx="256.0" cy="399.0" r="1.00" fill="#1e4a22" stroke="#10300f" stroke-width="0.3"/><circle cx="298.0" cy="409.0" r="1.20" fill="#1e4a22" stroke="#10300f" stroke-width="0.3"/><circle cx="302.0" cy="415.0" r="1.80" fill="#1e4a22" stroke="#10300f" stroke-width="0.3"/><circle cx="309.0" cy="405.0" r="1.00" fill="#1e4a22" stroke="#10300f" stroke-width="0.3"/><circle cx="322.0" cy="398.0" r="1.00" fill="#1e4a22" stroke="#10300f" stroke-width="0.3"/><circle cx="331.0" cy="407.0" r="1.00" fill="#1e4a22" stroke="#10300f" stroke-width="0.3"/><circle cx="322.0" cy="417.0" r="1.00" fill="#1e4a22" stroke="#10300f" stroke-width="0.3"/><circle cx="284.0" cy="429.0" r="1.00" fill="#1e4a22" stroke="#10300f" stroke-width="0.3"/><circle cx="294.0" cy="442.0" r="1.00" fill="#1e4a22" stroke="#10300f" stroke-width="0.3"/><circle cx="348.0" cy="405.0" r="0.90" fill="#1e4a22" stroke="#10300f" stroke-width="0.3"/><circle cx="332.0" cy="407.0" r="0.90" fill="#1e4a22" stroke="#10300f" stroke-width="0.3"/><circle cx="338.0" cy="429.0" r="0.90" fill="#1e4a22" stroke="#10300f" stroke-width="0.3"/><circle cx="380.0" cy="443.0" r="1.00" fill="#1e4a22" stroke="#10300f" stroke-width="0.3"/><circle cx="334.0" cy="507.2" r="1.80" fill="#1e4a22" stroke="#10300f" stroke-width="0.3"/><circle cx="240.0" cy="440.0" r="0.90" fill="#1e4a22" stroke="#10300f" stroke-width="0.3"/><circle cx="292.0" cy="432.0" r="1.00" fill="#1e4a22" stroke="#10300f" stroke-width="0.3"/><circle cx="265.0" cy="409.0" r="1.00" fill="#1e4a22" stroke="#10300f" stroke-width="0.3"/><circle cx="275.0" cy="420.0" r="0.90" fill="#1e4a22" stroke="#10300f" stroke-width="0.3"/><circle cx="315.0" cy="425.0" r="1.00" fill="#1e4a22" stroke="#10300f" stroke-width="0.3"/><circle cx="345.0" cy="418.0" r="0.90" fill="#1e4a22" stroke="#10300f" stroke-width="0.3"/><circle cx="360.0" cy="410.0" r="0.80" fill="#1e4a22" stroke="#10300f" stroke-width="0.3"/><circle cx="245.0" cy="412.0" r="0.90" fill="#1e4a22" stroke="#10300f" stroke-width="0.3"/><circle cx="312.7" cy="417.0" r="0.97" fill="#1e4a22" stroke="#10300f" stroke-width="0.3"/><circle cx="308.5" cy="409.3" r="0.76" fill="#1e4a22" stroke="#10300f" stroke-width="0.3"/><circle cx="267.0" cy="415.9" r="0.68" fill="#1e4a22" stroke="#10300f" stroke-width="0.3"/><circle cx="325.5" cy="414.9" r="0.85" fill="#1e4a22" stroke="#10300f" stroke-width="0.3"/><circle cx="328.9" cy="416.5" r="0.86" fill="#1e4a22" stroke="#10300f" stroke-width="0.3"/><circle cx="267.1" cy="419.6" r="0.80" fill="#1e4a22" stroke="#10300f" stroke-width="0.3"/><circle cx="293.7" cy="416.2" r="0.67" fill="#1e4a22" stroke="#10300f" stroke-width="0.3"/><circle cx="275.4" cy="417.7" r="0.62" fill="#1e4a22" stroke="#10300f" stroke-width="0.3"/><circle cx="311.3" cy="421.4" r="0.87" fill="#1e4a22" stroke="#10300f" stroke-width="0.3"/><circle cx="273.9" cy="422.9" r="0.78" fill="#1e4a22" stroke="#10300f" stroke-width="0.3"/><circle cx="338.1" cy="414.1" r="0.86" fill="#1e4a22" stroke="#10300f" stroke-width="0.3"/><circle cx="294.3" cy="417.3" r="0.72" fill="#1e4a22" stroke="#10300f" stroke-width="0.3"/><circle cx="256.6" cy="403.0" r="0.89" fill="#1e4a22" stroke="#10300f" stroke-width="0.3"/><circle cx="321.1" cy="414.2" r="0.90" fill="#1e4a22" stroke="#10300f" stroke-width="0.3"/><circle cx="266.7" cy="413.3" r="0.92" fill="#1e4a22" stroke="#10300f" stroke-width="0.3"/><circle cx="309.1" cy="415.8" r="0.75" fill="#1e4a22" stroke="#10300f" stroke-width="0.3"/><circle cx="319.6" cy="415.0" r="0.64" fill="#1e4a22" stroke="#10300f" stroke-width="0.3"/><circle cx="253.7" cy="402.6" r="0.85" fill="#1e4a22" stroke="#10300f" stroke-width="0.3"/><circle cx="271.8" cy="422.8" r="0.63" fill="#1e4a22" stroke="#10300f" stroke-width="0.3"/><circle cx="329.5" cy="422.7" r="0.68" fill="#1e4a22" stroke="#10300f" stroke-width="0.3"/><circle cx="321.3" cy="408.0" r="0.60" fill="#1e4a22" stroke="#10300f" stroke-width="0.3"/><circle cx="266.4" cy="407.8" r="0.61" fill="#1e4a22" stroke="#10300f" stroke-width="0.3"/><circle cx="182.9" cy="419.8" r="0.89" fill="#1e4a22" stroke="#10300f" stroke-width="0.3"/><circle cx="231.0" cy="408.3" r="0.94" fill="#1e4a22" stroke="#10300f" stroke-width="0.3"/><circle cx="247.6" cy="414.8" r="0.96" fill="#1e4a22" stroke="#10300f" stroke-width="0.3"/><circle cx="215.3" cy="417.2" r="0.86" fill="#1e4a22" stroke="#10300f" stroke-width="0.3"/><circle cx="236.5" cy="416.3" r="0.90" fill="#1e4a22" stroke="#10300f" stroke-width="0.3"/><circle cx="210.2" cy="413.8" r="0.78" fill="#1e4a22" stroke="#10300f" stroke-width="0.3"/><circle cx="221.0" cy="405.6" r="0.92" fill="#1e4a22" stroke="#10300f" stroke-width="0.3"/><circle cx="217.0" cy="412.2" r="0.96" fill="#1e4a22" stroke="#10300f" stroke-width="0.3"/><circle cx="240.3" cy="408.0" r="0.74" fill="#1e4a22" stroke="#10300f" stroke-width="0.3"/><circle cx="172.3" cy="391.3" r="0.98" fill="#1e4a22" stroke="#10300f" stroke-width="0.3"/><circle cx="214.7" cy="399.2" r="0.89" fill="#1e4a22" stroke="#10300f" stroke-width="0.3"/><circle cx="230.8" cy="414.4" r="0.78" fill="#1e4a22" stroke="#10300f" stroke-width="0.3"/><circle cx="187.3" cy="412.5" r="0.71" fill="#1e4a22" stroke="#10300f" stroke-width="0.3"/><circle cx="199.0" cy="402.7" r="0.73" fill="#1e4a22" stroke="#10300f" stroke-width="0.3"/><circle cx="178.0" cy="444.8" r="1.10" fill="#8668d8" stroke="#6a4cbc" stroke-width="0.3"/><circle cx="180.8" cy="459.2" r="1.10" fill="#8668d8" stroke="#6a4cbc" stroke-width="0.3"/><circle cx="338.0" cy="402.0" r="1.00" fill="#8668d8" stroke="#6a4cbc" stroke-width="0.3"/><line x1="49.8" y1="347.7" x2="446.9" y2="493.4" stroke="#000" stroke-width="2.75"/><line x1="245.8" y1="305.8" x2="454.6" y2="482.3" stroke="#000" stroke-width="2.75"/><circle cx="446.9" cy="493.2" r="2.7" fill="#000"/><circle cx="454.6" cy="482" r="2.7" fill="#000"/><polygon points="100,362.5 102.6,366 100,369.5 97.4,366" fill="#8ee8a0" stroke="#3a8a4a" stroke-width="0.5"/><polygon points="124.4,371.2 127.0,374.7 124.4,378.2 121.80000000000001,374.7" fill="#8a66dc" stroke="#4a30a0" stroke-width="0.5"/><polygon points="137.5,376.0 140.1,379.5 137.5,383.0 134.9,379.5" fill="#1e4a22" stroke="#0a200a" stroke-width="0.5"/><polygon points="165,386.1 167.6,389.6 165,393.1 162.4,389.6" fill="#de8ae6" stroke="#8a4a9a" stroke-width="0.5"/><polygon points="200.6,399.5 203.2,403 200.6,406.5 198.0,403" fill="#f0a070" stroke="#a06030" stroke-width="0.5"/><polygon points="247,416.1 249.6,419.6 247,423.1 244.4,419.6" fill="#b06868" stroke="#6a3030" stroke-width="0.5"/><polygon points="266,423.5 268.6,427 266,430.5 263.4,427" fill="#1e4a22" stroke="#0a200a" stroke-width="0.5"/><polygon points="318,442.5 320.6,446 318,449.5 315.4,446" fill="#8ee8a0" stroke="#3a8a4a" stroke-width="0.5"/><polygon points="266.8,319.7 269.40000000000003,323.2 266.8,326.7 264.2,323.2" fill="#8a66dc" stroke="#4a30a0" stroke-width="0.5"/><polygon points="273.8,325.1 276.40000000000003,328.6 273.8,332.1 271.2,328.6" fill="#de8ae6" stroke="#8a4a9a" stroke-width="0.5"/><polygon points="381.4,416.5 384.0,420 381.4,423.5 378.79999999999995,420" fill="#b06868" stroke="#6a3030" stroke-width="0.5"/><text x="76.4" y="376.8" font-size="10.6" fill="#fff" stroke="#505050" stroke-width="1.0" paint-order="stroke" font-family="Liberation Sans, sans-serif" font-style="italic" font-weight="bold" text-rendering="geometricPrecision">HS2</text><text x="102.8" y="387.2" font-size="10.6" fill="#fff" stroke="#505050" stroke-width="1.0" paint-order="stroke" font-family="Liberation Sans, sans-serif" font-style="italic" font-weight="bold" text-rendering="geometricPrecision">HF2</text><text x="126.8" y="394.4" font-size="10.6" fill="#fff" stroke="#505050" stroke-width="1.0" paint-order="stroke" font-family="Liberation Sans, sans-serif" font-style="italic" font-weight="bold" text-rendering="geometricPrecision">HS3</text><text x="150" y="404" font-size="10.6" fill="#fff" stroke="#505050" stroke-width="1.0" paint-order="stroke" font-family="Liberation Sans, sans-serif" font-style="italic" font-weight="bold" text-rendering="geometricPrecision">HS5</text><text x="183" y="416" font-size="10.6" fill="#fff" stroke="#505050" stroke-width="1.0" paint-order="stroke" font-family="Liberation Sans, sans-serif" font-style="italic" font-weight="bold" text-rendering="geometricPrecision">HS4</text><text x="221" y="432" font-size="10.6" fill="#fff" stroke="#505050" stroke-width="1.0" paint-order="stroke" font-family="Liberation Sans, sans-serif" font-style="italic" font-weight="bold" text-rendering="geometricPrecision">HS8</text><text x="256" y="442.8" font-size="10.6" fill="#fff" stroke="#505050" stroke-width="1.0" paint-order="stroke" font-family="Liberation Sans, sans-serif" font-style="italic" font-weight="bold" text-rendering="geometricPrecision">HF3</text><text x="307.2" y="460.8" font-size="10.6" fill="#fff" stroke="#505050" stroke-width="1.0" paint-order="stroke" font-family="Liberation Sans, sans-serif" font-style="italic" font-weight="bold" text-rendering="geometricPrecision">HF5</text><text x="268" y="320.2" font-size="10.6" fill="#fff" stroke="#505050" stroke-width="1.0" paint-order="stroke" font-family="Liberation Sans, sans-serif" font-style="italic" font-weight="bold" text-rendering="geometricPrecision">HS1</text><text x="279.2" y="331.4" font-size="10.6" fill="#fff" stroke="#505050" stroke-width="1.0" paint-order="stroke" font-family="Liberation Sans, sans-serif" font-style="italic" font-weight="bold" text-rendering="geometricPrecision">HF6</text><text x="391" y="424.4" font-size="10.6" fill="#fff" stroke="#505050" stroke-width="1.0" paint-order="stroke" font-family="Liberation Sans, sans-serif" font-style="italic" font-weight="bold" text-rendering="geometricPrecision">HF8</text><text x="0" y="0" font-size="11.5" fill="#111" font-family="Liberation Serif, serif" font-style="italic" font-weight="bold" text-anchor="middle" transform="translate(442.3 467.6) rotate(40.2)" text-rendering="geometricPrecision">INJ2</text><text x="0" y="0" font-size="11.5" fill="#111" font-family="Liberation Serif, serif" font-style="italic" font-weight="bold" text-anchor="middle" transform="translate(427.8 497.8) rotate(20.2)" text-rendering="geometricPrecision">INJ1</text><rect x="32.0" y="10.4" width="442.4" height="102.0" fill="none" stroke="#808080" stroke-width="1.2"/><line x1="32.0" y1="24.97142857142857" x2="37.0" y2="24.97142857142857" stroke="#808080" stroke-width="1.1"/><text x="28.5" y="24.97142857142857" font-size="8.7" fill="#555555" text-anchor="middle" font-weight="normal" font-style="normal" font-family="Liberation Sans, sans-serif" transform="rotate(-90 28.5 24.97142857142857)" >-3</text><line x1="32.0" y1="54.114285714285714" x2="37.0" y2="54.114285714285714" stroke="#808080" stroke-width="1.1"/><text x="28.5" y="54.114285714285714" font-size="8.7" fill="#555555" text-anchor="middle" font-weight="normal" font-style="normal" font-family="Liberation Sans, sans-serif" transform="rotate(-90 28.5 54.114285714285714)" >-4</text><line x1="32.0" y1="83.25714285714287" x2="37.0" y2="83.25714285714287" stroke="#808080" stroke-width="1.1"/><text x="28.5" y="83.25714285714287" font-size="8.7" fill="#555555" text-anchor="middle" font-weight="normal" font-style="normal" font-family="Liberation Sans, sans-serif" transform="rotate(-90 28.5 83.25714285714287)" >-5</text><line x1="469.4" y1="78.3" x2="474.4" y2="78.3" stroke="#808080" stroke-width="1.1"/><text x="482.1" y="78.3" font-size="8.7" fill="#555555" text-anchor="middle" font-weight="normal" font-style="normal" font-family="Liberation Sans, sans-serif" transform="rotate(-90 482.1 78.3)" >0</text><line x1="469.4" y1="44.29819819819819" x2="474.4" y2="44.29819819819819" stroke="#808080" stroke-width="1.1"/><text x="482.1" y="44.29819819819819" font-size="8.7" fill="#555555" text-anchor="middle" font-weight="normal" font-style="normal" font-family="Liberation Sans, sans-serif" transform="rotate(-90 482.1 44.29819819819819)" >16.7</text><line x1="469.4" y1="10.5" x2="474.4" y2="10.5" stroke="#808080" stroke-width="1.1"/><text x="482.1" y="12.4" font-size="8.7" fill="#555555" text-anchor="middle" font-weight="normal" font-style="normal" font-family="Liberation Sans, sans-serif" transform="rotate(-90 482.1 12.4)" >33.3</text><text x="35" y="122.5" font-size="8.7" fill="#555555" text-anchor="middle" font-weight="normal" font-style="normal" font-family="Liberation Sans, sans-serif" >Feb 08</text><line x1="87.3" y1="107.4" x2="87.3" y2="112.4" stroke="#808080" stroke-width="1.1"/><text x="87.3" y="122.5" font-size="8.7" fill="#555555" text-anchor="middle" font-weight="normal" font-style="normal" font-family="Liberation Sans, sans-serif" >Feb 09</text><line x1="142.6" y1="107.4" x2="142.6" y2="112.4" stroke="#808080" stroke-width="1.1"/><text x="142.6" y="122.5" font-size="8.7" fill="#555555" text-anchor="middle" font-weight="normal" font-style="normal" font-family="Liberation Sans, sans-serif" >Feb 10</text><line x1="197.89999999999998" y1="107.4" x2="197.89999999999998" y2="112.4" stroke="#808080" stroke-width="1.1"/><text x="197.89999999999998" y="122.5" font-size="8.7" fill="#555555" text-anchor="middle" font-weight="normal" font-style="normal" font-family="Liberation Sans, sans-serif" >Feb 11</text><line x1="253.2" y1="107.4" x2="253.2" y2="112.4" stroke="#808080" stroke-width="1.1"/><text x="253.2" y="122.5" font-size="8.7" fill="#555555" text-anchor="middle" font-weight="normal" font-style="normal" font-family="Liberation Sans, sans-serif" >Feb 12</text><line x1="308.5" y1="107.4" x2="308.5" y2="112.4" stroke="#808080" stroke-width="1.1"/><text x="308.5" y="122.5" font-size="8.7" fill="#555555" text-anchor="middle" font-weight="normal" font-style="normal" font-family="Liberation Sans, sans-serif" >Feb 13</text><line x1="363.79999999999995" y1="107.4" x2="363.79999999999995" y2="112.4" stroke="#808080" stroke-width="1.1"/><text x="363.79999999999995" y="122.5" font-size="8.7" fill="#555555" text-anchor="middle" font-weight="normal" font-style="normal" font-family="Liberation Sans, sans-serif" >Feb 14</text><line x1="419.09999999999997" y1="107.4" x2="419.09999999999997" y2="112.4" stroke="#808080" stroke-width="1.1"/><text x="419.09999999999997" y="122.5" font-size="8.7" fill="#555555" text-anchor="middle" font-weight="normal" font-style="normal" font-family="Liberation Sans, sans-serif" >Feb 15</text><text x="15.6" y="66.4" font-size="10.45" fill="#333333" text-anchor="middle" font-weight="bold" font-style="normal" font-family="Liberation Sans, sans-serif" transform="rotate(-90 15.6 66.4)" >Magnitude</text><text x="252.7" y="135.4" font-size="10" fill="#333333" text-anchor="middle" font-weight="bold" font-style="normal" font-family="Liberation Sans, sans-serif" >Time (2017)</text><text x="492.9" y="60.6" font-size="10.6" fill="#44449c" text-anchor="middle" font-weight="bold" font-style="normal" font-family="Liberation Sans, sans-serif" transform="rotate(-90 492.9 60.6)" >Injection Rate (L/min)</text><text x="36" y="22.1" font-size="10.5" fill="#000" text-anchor="start" font-weight="bold" font-style="normal" font-family="Liberation Sans, sans-serif" letter-spacing="1">a)</text><rect x="32.0" y="145.4" width="442.4" height="101.79999999999998" fill="none" stroke="#808080" stroke-width="1.2"/><text x="28.5" y="145.4" font-size="8.7" fill="#555555" text-anchor="middle" font-weight="normal" font-style="normal" font-family="Liberation Sans, sans-serif" transform="rotate(-90 28.5 145.4)" >-3</text><line x1="32.0" y1="179.33333333333334" x2="37.0" y2="179.33333333333334" stroke="#808080" stroke-width="1.1"/><text x="28.5" y="179.33333333333334" font-size="8.7" fill="#555555" text-anchor="middle" font-weight="normal" font-style="normal" font-family="Liberation Sans, sans-serif" transform="rotate(-90 28.5 179.33333333333334)" >-4</text><line x1="32.0" y1="213.26666666666665" x2="37.0" y2="213.26666666666665" stroke="#808080" stroke-width="1.1"/><text x="28.5" y="213.26666666666665" font-size="8.7" fill="#555555" text-anchor="middle" font-weight="normal" font-style="normal" font-family="Liberation Sans, sans-serif" transform="rotate(-90 28.5 213.26666666666665)" >-5</text><line x1="469.4" y1="212.8" x2="474.4" y2="212.8" stroke="#808080" stroke-width="1.1"/><text x="482.1" y="212.8" font-size="8.7" fill="#555555" text-anchor="middle" font-weight="normal" font-style="normal" font-family="Liberation Sans, sans-serif" transform="rotate(-90 482.1 212.8)" >0</text><line x1="469.4" y1="179.20000000000002" x2="474.4" y2="179.20000000000002" stroke="#808080" stroke-width="1.1"/><text x="482.1" y="179.20000000000002" font-size="8.7" fill="#555555" text-anchor="middle" font-weight="normal" font-style="normal" font-family="Liberation Sans, sans-serif" transform="rotate(-90 482.1 179.20000000000002)" >50</text><text x="482.1" y="146.5" font-size="8.7" fill="#555555" text-anchor="middle" font-weight="normal" font-style="normal" font-family="Liberation Sans, sans-serif" transform="rotate(-90 482.1 146.5)" >100</text><line x1="105.73" y1="242.2" x2="105.73" y2="247.2" stroke="#808080" stroke-width="1.1"/><line x1="179.46" y1="242.2" x2="179.46" y2="247.2" stroke="#808080" stroke-width="1.1"/><line x1="253.19" y1="242.2" x2="253.19" y2="247.2" stroke="#808080" stroke-width="1.1"/><line x1="326.92" y1="242.2" x2="326.92" y2="247.2" stroke="#808080" stroke-width="1.1"/><line x1="400.65000000000003" y1="242.2" x2="400.65000000000003" y2="247.2" stroke="#808080" stroke-width="1.1"/><text x="37" y="257.5" font-size="8.7" fill="#555555" text-anchor="middle" font-weight="normal" font-style="normal" font-family="Liberation Sans, sans-serif" >May 16</text><text x="179.46" y="257.5" font-size="8.7" fill="#555555" text-anchor="middle" font-weight="normal" font-style="normal" font-family="Liberation Sans, sans-serif" >May 17</text><text x="326.92" y="257.5" font-size="8.7" fill="#555555" text-anchor="middle" font-weight="normal" font-style="normal" font-family="Liberation Sans, sans-serif" >May 18</text><text x="461" y="257.5" font-size="8.7" fill="#555555" text-anchor="middle" font-weight="normal" font-style="normal" font-family="Liberation Sans, sans-serif" >May 19</text><text x="15.6" y="196.4" font-size="10.45" fill="#333333" text-anchor="middle" font-weight="bold" font-style="normal" font-family="Liberation Sans, sans-serif" transform="rotate(-90 15.6 196.4)" >Magnitude</text><text x="252.7" y="265.4" font-size="10" fill="#333333" text-anchor="middle" font-weight="bold" font-style="normal" font-family="Liberation Sans, sans-serif" >Time (2017)</text><text x="492.9" y="195.6" font-size="10.6" fill="#44449c" text-anchor="middle" font-weight="bold" font-style="normal" font-family="Liberation Sans, sans-serif" transform="rotate(-90 492.9 195.6)" >Injection Rate (L/min)</text><text x="36.6" y="157.7" font-size="10.5" fill="#000" text-anchor="start" font-weight="bold" font-style="normal" font-family="Liberation Sans, sans-serif" letter-spacing="1">b)</text><rect x="32.0" y="278.4" width="442.4" height="245.80000000000007" fill="none" stroke="#808080" stroke-width="1.2"/><line x1="32.0" y1="493.3" x2="37.0" y2="493.3" stroke="#808080" stroke-width="1.1"/><text x="29" y="496.5" font-size="8.7" fill="#555555" text-anchor="end" font-weight="normal" font-style="normal" font-family="Liberation Sans, sans-serif" >0</text><line x1="32.0" y1="462.6" x2="37.0" y2="462.6" stroke="#808080" stroke-width="1.1"/><text x="29" y="465.8" font-size="8.7" fill="#555555" text-anchor="end" font-weight="normal" font-style="normal" font-family="Liberation Sans, sans-serif" >5</text><line x1="32.0" y1="431.90000000000003" x2="37.0" y2="431.90000000000003" stroke="#808080" stroke-width="1.1"/><text x="29" y="435.1" font-size="8.7" fill="#555555" text-anchor="end" font-weight="normal" font-style="normal" font-family="Liberation Sans, sans-serif" >10</text><line x1="32.0" y1="401.20000000000005" x2="37.0" y2="401.20000000000005" stroke="#808080" stroke-width="1.1"/><text x="29" y="404.40000000000003" font-size="8.7" fill="#555555" text-anchor="end" font-weight="normal" font-style="normal" font-family="Liberation Sans, sans-serif" >15</text><line x1="32.0" y1="370.5" x2="37.0" y2="370.5" stroke="#808080" stroke-width="1.1"/><text x="29" y="373.7" font-size="8.7" fill="#555555" text-anchor="end" font-weight="normal" font-style="normal" font-family="Liberation Sans, sans-serif" >20</text><line x1="32.0" y1="339.8" x2="37.0" y2="339.8" stroke="#808080" stroke-width="1.1"/><text x="29" y="343.0" font-size="8.7" fill="#555555" text-anchor="end" font-weight="normal" font-style="normal" font-family="Liberation Sans, sans-serif" >25</text><line x1="32.0" y1="309.1" x2="37.0" y2="309.1" stroke="#808080" stroke-width="1.1"/><text x="29" y="312.3" font-size="8.7" fill="#555555" text-anchor="end" font-weight="normal" font-style="normal" font-family="Liberation Sans, sans-serif" >30</text><text x="29" y="281.59999999999997" font-size="8.7" fill="#555555" text-anchor="end" font-weight="normal" font-style="normal" font-family="Liberation Sans, sans-serif" >35</text><text x="31.94999999999999" y="533.8" font-size="8.7" fill="#555555" text-anchor="middle" font-weight="normal" font-style="normal" font-family="Liberation Sans, sans-serif" >-30</text><line x1="101.02499999999998" y1="519.2" x2="101.02499999999998" y2="524.2" stroke="#808080" stroke-width="1.1"/><text x="101.02499999999998" y="533.8" font-size="8.7" fill="#555555" text-anchor="middle" font-weight="normal" font-style="normal" font-family="Liberation Sans, sans-serif" >-25</text><line x1="170.09999999999997" y1="519.2" x2="170.09999999999997" y2="524.2" stroke="#808080" stroke-width="1.1"/><text x="170.09999999999997" y="533.8" font-size="8.7" fill="#555555" text-anchor="middle" font-weight="normal" font-style="normal" font-family="Liberation Sans, sans-serif" >-20</text><line x1="239.17499999999998" y1="519.2" x2="239.17499999999998" y2="524.2" stroke="#808080" stroke-width="1.1"/><text x="239.17499999999998" y="533.8" font-size="8.7" fill="#555555" text-anchor="middle" font-weight="normal" font-style="normal" font-family="Liberation Sans, sans-serif" >-15</text><line x1="308.25" y1="519.2" x2="308.25" y2="524.2" stroke="#808080" stroke-width="1.1"/><text x="308.25" y="533.8" font-size="8.7" fill="#555555" text-anchor="middle" font-weight="normal" font-style="normal" font-family="Liberation Sans, sans-serif" >-10</text><line x1="377.325" y1="519.2" x2="377.325" y2="524.2" stroke="#808080" stroke-width="1.1"/><text x="377.325" y="533.8" font-size="8.7" fill="#555555" text-anchor="middle" font-weight="normal" font-style="normal" font-family="Liberation Sans, sans-serif" >-5</text><line x1="446.4" y1="519.2" x2="446.4" y2="524.2" stroke="#808080" stroke-width="1.1"/><text x="446.4" y="533.8" font-size="8.7" fill="#555555" text-anchor="middle" font-weight="normal" font-style="normal" font-family="Liberation Sans, sans-serif" >0</text><text x="12.6" y="400.4" font-size="10.6" fill="#333333" text-anchor="middle" font-weight="bold" font-style="normal" font-family="Liberation Sans, sans-serif" transform="rotate(-90 12.6 400.4)" >Northing (m)</text><text x="250.3" y="546.3" font-size="10" fill="#333333" text-anchor="middle" font-weight="bold" font-style="normal" font-family="Liberation Sans, sans-serif" >Easting (m)</text><text x="36.5" y="290.4" font-size="10.5" fill="#000" text-anchor="start" font-weight="bold" font-style="normal" font-family="Liberation Sans, sans-serif" letter-spacing="1">c)</text><text x="469.5" y="519.5" font-size="9.5" fill="#666" text-anchor="end" font-weight="normal" font-style="italic" font-family="Liberation Serif, serif" >GTS</text></svg></body></html>
